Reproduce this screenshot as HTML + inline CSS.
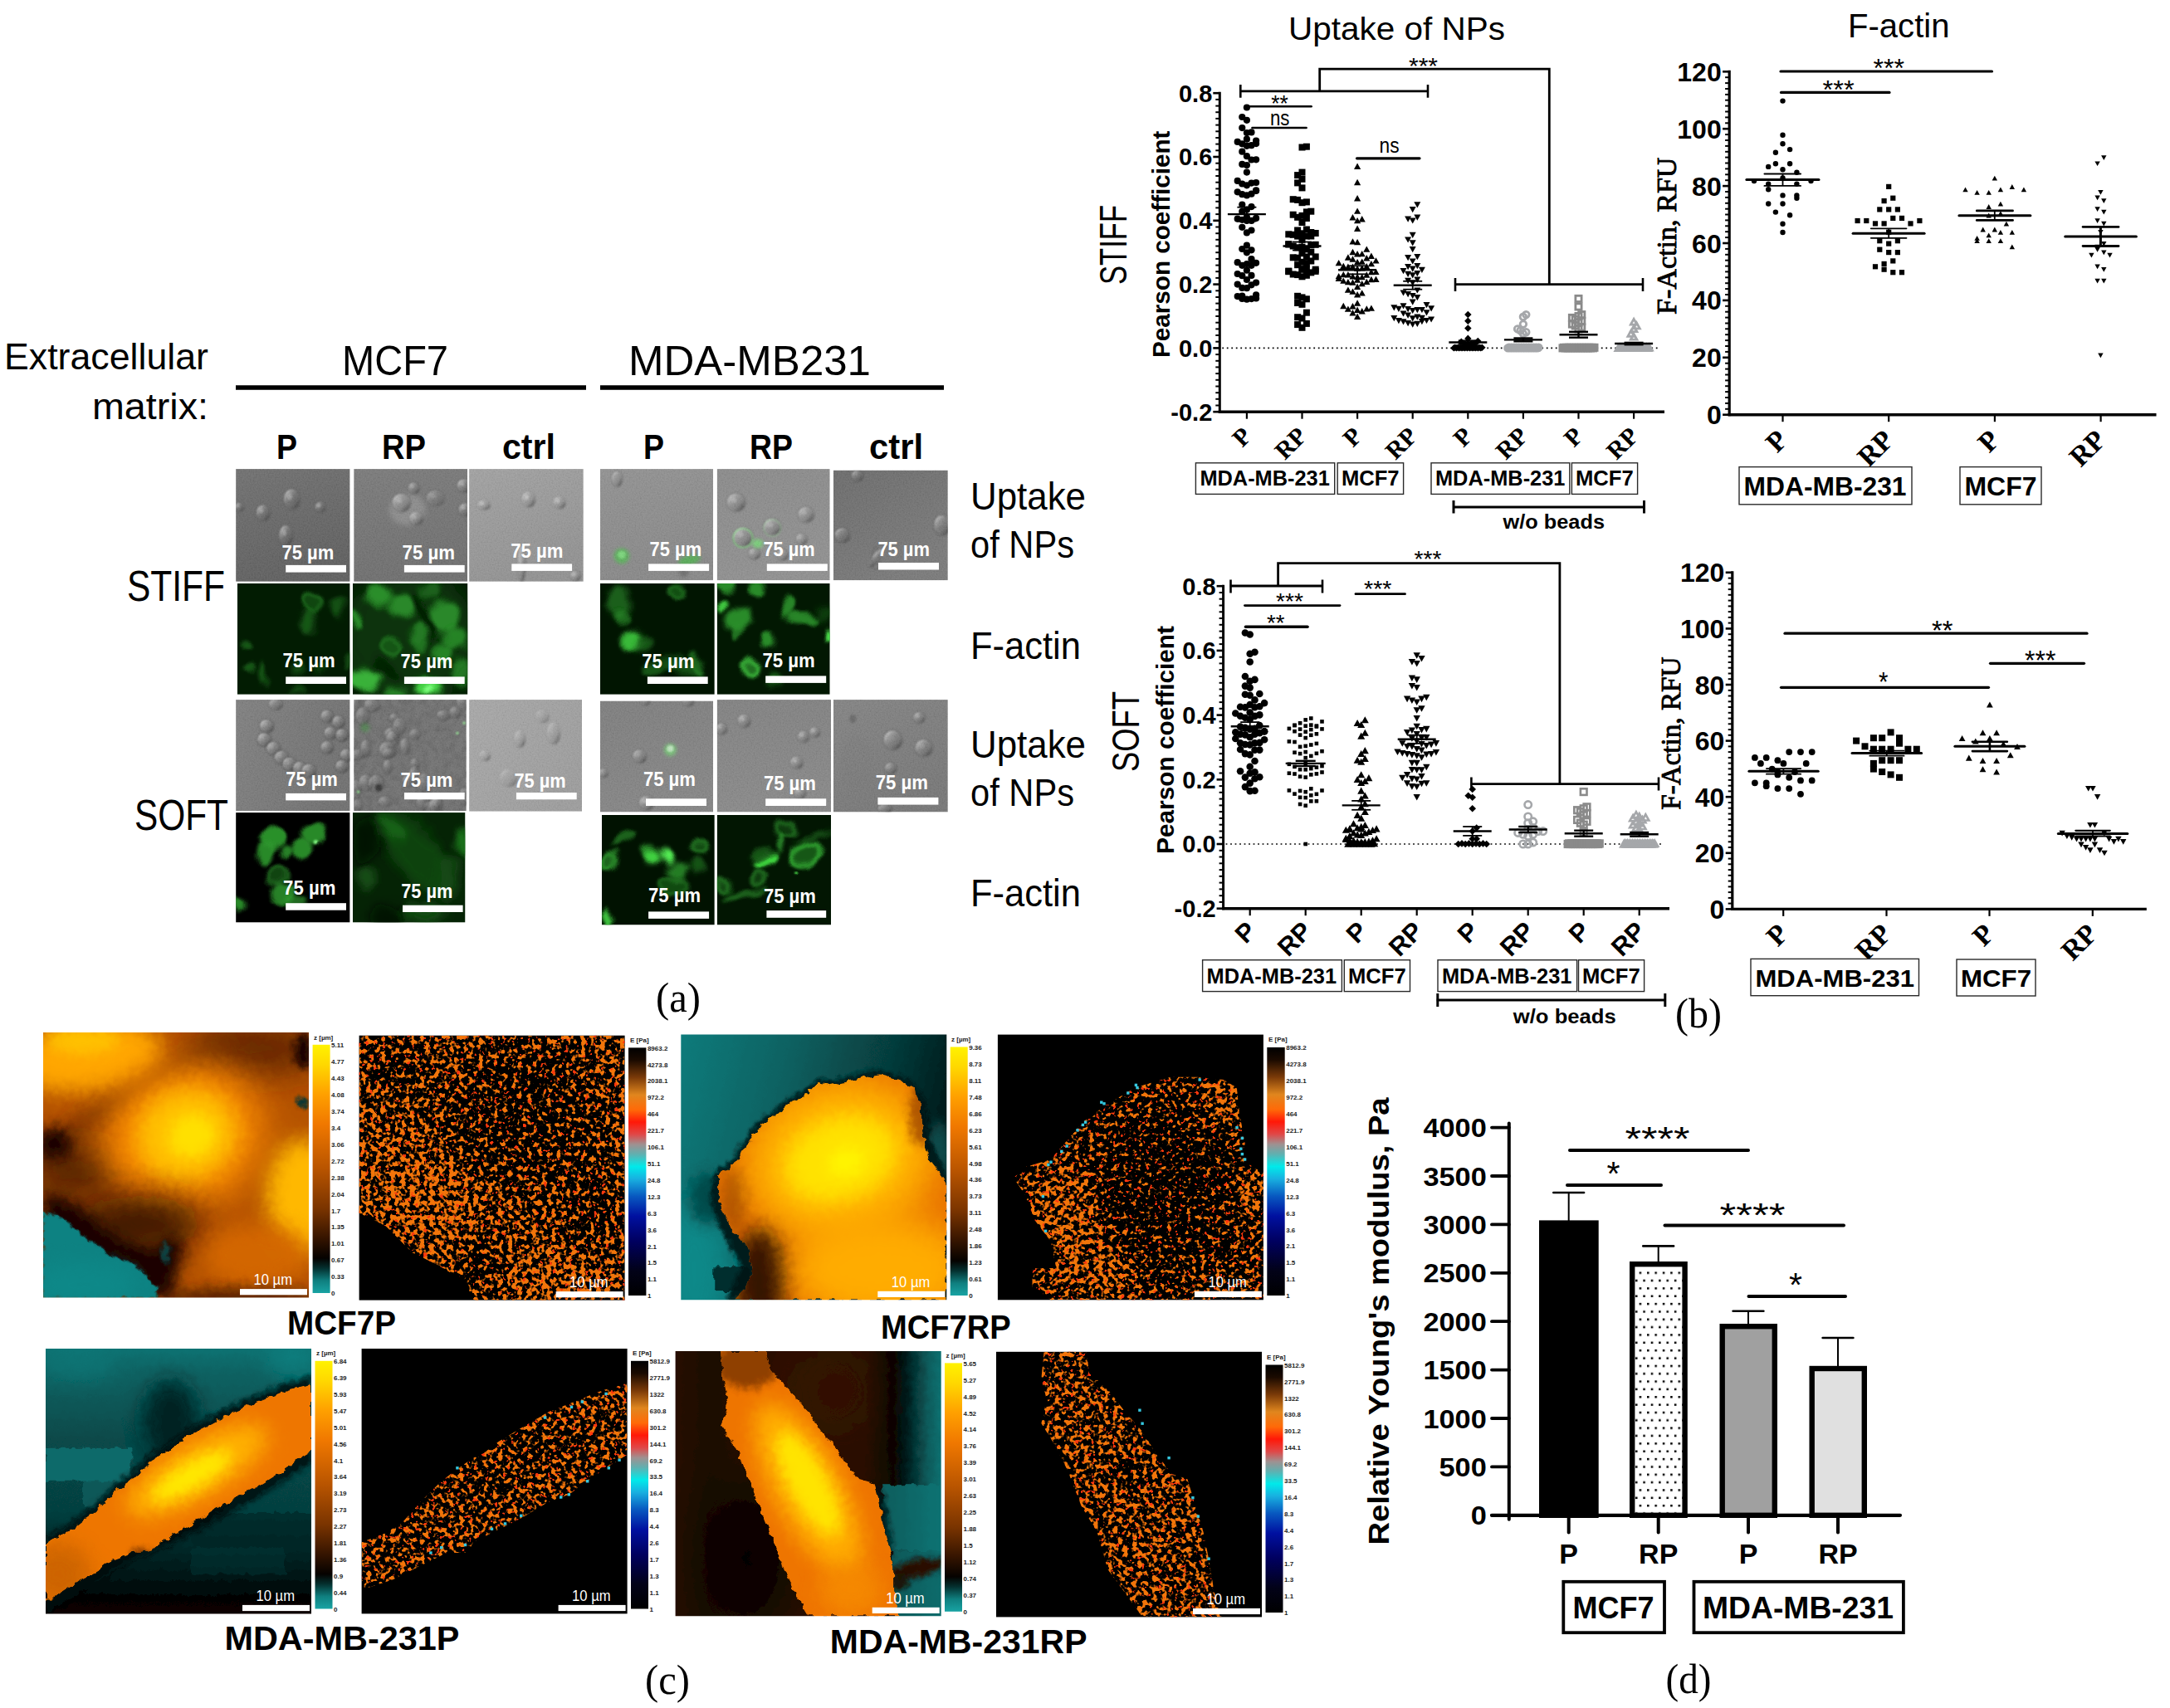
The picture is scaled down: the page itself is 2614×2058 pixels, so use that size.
<!DOCTYPE html>
<html><head><meta charset="utf-8"><title>Figure</title><style>html,body{margin:0;padding:0;background:#fff}body{width:2614px;height:2058px;overflow:hidden;font-family:"Liberation Sans",sans-serif}</style></head><body><svg width="2614" height="2058" viewBox="0 0 2614 2058" style="display:block"><line x1="1472.3" y1="419.4" x2="1998.0" y2="419.4" stroke="#000" stroke-width="1.7" stroke-dasharray="1.8 3.7"/><circle cx="1501.9" cy="360.7" r="4.1" fill="#000"/><circle cx="1507.5" cy="360.1" r="4.1" fill="#000"/><circle cx="1496.3" cy="359.9" r="4.1" fill="#000"/><circle cx="1513.1" cy="359.5" r="4.1" fill="#000"/><circle cx="1490.7" cy="357.1" r="4.1" fill="#000"/><circle cx="1496.3" cy="356.6" r="4.1" fill="#000"/><circle cx="1513.1" cy="355.4" r="4.1" fill="#000"/><circle cx="1501.9" cy="347.2" r="4.1" fill="#000"/><circle cx="1496.3" cy="346.9" r="4.1" fill="#000"/><circle cx="1507.5" cy="343.3" r="4.1" fill="#000"/><circle cx="1490.7" cy="342.6" r="4.1" fill="#000"/><circle cx="1513.1" cy="340.6" r="4.1" fill="#000"/><circle cx="1501.9" cy="337.0" r="4.1" fill="#000"/><circle cx="1496.3" cy="332.2" r="4.1" fill="#000"/><circle cx="1507.5" cy="331.9" r="4.1" fill="#000"/><circle cx="1490.7" cy="330.0" r="4.1" fill="#000"/><circle cx="1501.9" cy="325.7" r="4.1" fill="#000"/><circle cx="1496.3" cy="319.8" r="4.1" fill="#000"/><circle cx="1507.5" cy="319.8" r="4.1" fill="#000"/><circle cx="1501.9" cy="318.1" r="4.1" fill="#000"/><circle cx="1513.1" cy="316.8" r="4.1" fill="#000"/><circle cx="1490.7" cy="316.2" r="4.1" fill="#000"/><circle cx="1507.5" cy="312.2" r="4.1" fill="#000"/><circle cx="1501.9" cy="304.3" r="4.1" fill="#000"/><circle cx="1507.5" cy="301.3" r="4.1" fill="#000"/><circle cx="1496.3" cy="300.0" r="4.1" fill="#000"/><circle cx="1501.9" cy="295.7" r="4.1" fill="#000"/><circle cx="1501.9" cy="280.4" r="4.1" fill="#000"/><circle cx="1507.5" cy="277.5" r="4.1" fill="#000"/><circle cx="1496.3" cy="273.8" r="4.1" fill="#000"/><circle cx="1501.9" cy="266.0" r="4.1" fill="#000"/><circle cx="1507.5" cy="265.9" r="4.1" fill="#000"/><circle cx="1496.3" cy="264.8" r="4.1" fill="#000"/><circle cx="1490.7" cy="263.7" r="4.1" fill="#000"/><circle cx="1513.1" cy="262.9" r="4.1" fill="#000"/><circle cx="1501.9" cy="261.7" r="4.1" fill="#000"/><circle cx="1496.3" cy="254.9" r="4.1" fill="#000"/><circle cx="1501.9" cy="252.7" r="4.1" fill="#000"/><circle cx="1507.5" cy="249.1" r="4.1" fill="#000"/><circle cx="1496.3" cy="246.6" r="4.1" fill="#000"/><circle cx="1501.9" cy="235.4" r="4.1" fill="#000"/><circle cx="1496.3" cy="234.2" r="4.1" fill="#000"/><circle cx="1507.5" cy="233.7" r="4.1" fill="#000"/><circle cx="1490.7" cy="231.3" r="4.1" fill="#000"/><circle cx="1513.1" cy="229.9" r="4.1" fill="#000"/><circle cx="1513.1" cy="229.3" r="4.1" fill="#000"/><circle cx="1501.9" cy="223.3" r="4.1" fill="#000"/><circle cx="1496.3" cy="221.5" r="4.1" fill="#000"/><circle cx="1507.5" cy="220.6" r="4.1" fill="#000"/><circle cx="1513.1" cy="220.0" r="4.1" fill="#000"/><circle cx="1490.7" cy="217.9" r="4.1" fill="#000"/><circle cx="1501.9" cy="207.6" r="4.1" fill="#000"/><circle cx="1501.9" cy="199.1" r="4.1" fill="#000"/><circle cx="1496.3" cy="197.9" r="4.1" fill="#000"/><circle cx="1507.5" cy="192.5" r="4.1" fill="#000"/><circle cx="1513.1" cy="192.3" r="4.1" fill="#000"/><circle cx="1501.9" cy="188.2" r="4.1" fill="#000"/><circle cx="1496.3" cy="182.7" r="4.1" fill="#000"/><circle cx="1501.9" cy="175.8" r="4.1" fill="#000"/><circle cx="1507.5" cy="175.2" r="4.1" fill="#000"/><circle cx="1496.3" cy="173.3" r="4.1" fill="#000"/><circle cx="1513.1" cy="173.1" r="4.1" fill="#000"/><circle cx="1490.7" cy="170.9" r="4.1" fill="#000"/><circle cx="1513.1" cy="169.6" r="4.1" fill="#000"/><circle cx="1501.9" cy="167.7" r="4.1" fill="#000"/><circle cx="1501.9" cy="160.1" r="4.1" fill="#000"/><circle cx="1507.5" cy="159.4" r="4.1" fill="#000"/><circle cx="1496.3" cy="154.1" r="4.1" fill="#000"/><circle cx="1501.9" cy="144.8" r="4.1" fill="#000"/><circle cx="1496.3" cy="141.0" r="4.1" fill="#000"/><circle cx="1501.9" cy="129.5" r="4.1" fill="#000"/><rect x="1564.5" y="390.8" width="8.0" height="8.0" fill="#000"/><rect x="1559.1" y="387.1" width="8.0" height="8.0" fill="#000"/><rect x="1569.9" y="385.9" width="8.0" height="8.0" fill="#000"/><rect x="1564.5" y="379.5" width="8.0" height="8.0" fill="#000"/><rect x="1559.1" y="378.2" width="8.0" height="8.0" fill="#000"/><rect x="1569.9" y="372.7" width="8.0" height="8.0" fill="#000"/><rect x="1564.5" y="362.8" width="8.0" height="8.0" fill="#000"/><rect x="1559.1" y="361.0" width="8.0" height="8.0" fill="#000"/><rect x="1569.9" y="356.3" width="8.0" height="8.0" fill="#000"/><rect x="1564.5" y="354.4" width="8.0" height="8.0" fill="#000"/><rect x="1559.1" y="352.8" width="8.0" height="8.0" fill="#000"/><rect x="1564.5" y="329.3" width="8.0" height="8.0" fill="#000"/><rect x="1569.9" y="327.8" width="8.0" height="8.0" fill="#000"/><rect x="1559.1" y="327.1" width="8.0" height="8.0" fill="#000"/><rect x="1553.7" y="326.5" width="8.0" height="8.0" fill="#000"/><rect x="1575.3" y="324.4" width="8.0" height="8.0" fill="#000"/><rect x="1548.3" y="323.2" width="8.0" height="8.0" fill="#000"/><rect x="1580.7" y="322.9" width="8.0" height="8.0" fill="#000"/><rect x="1548.3" y="322.6" width="8.0" height="8.0" fill="#000"/><rect x="1564.5" y="320.8" width="8.0" height="8.0" fill="#000"/><rect x="1580.7" y="320.7" width="8.0" height="8.0" fill="#000"/><rect x="1569.9" y="320.4" width="8.0" height="8.0" fill="#000"/><rect x="1564.5" y="320.1" width="8.0" height="8.0" fill="#000"/><rect x="1559.1" y="315.2" width="8.0" height="8.0" fill="#000"/><rect x="1569.9" y="313.1" width="8.0" height="8.0" fill="#000"/><rect x="1564.5" y="311.8" width="8.0" height="8.0" fill="#000"/><rect x="1575.3" y="310.5" width="8.0" height="8.0" fill="#000"/><rect x="1559.1" y="306.7" width="8.0" height="8.0" fill="#000"/><rect x="1553.7" y="306.3" width="8.0" height="8.0" fill="#000"/><rect x="1569.9" y="305.5" width="8.0" height="8.0" fill="#000"/><rect x="1580.7" y="305.4" width="8.0" height="8.0" fill="#000"/><rect x="1564.5" y="301.2" width="8.0" height="8.0" fill="#000"/><rect x="1575.3" y="299.7" width="8.0" height="8.0" fill="#000"/><rect x="1569.9" y="296.4" width="8.0" height="8.0" fill="#000"/><rect x="1559.1" y="294.3" width="8.0" height="8.0" fill="#000"/><rect x="1564.5" y="293.7" width="8.0" height="8.0" fill="#000"/><rect x="1553.7" y="292.5" width="8.0" height="8.0" fill="#000"/><rect x="1575.3" y="291.2" width="8.0" height="8.0" fill="#000"/><rect x="1580.7" y="290.8" width="8.0" height="8.0" fill="#000"/><rect x="1548.3" y="290.4" width="8.0" height="8.0" fill="#000"/><rect x="1548.3" y="290.3" width="8.0" height="8.0" fill="#000"/><rect x="1564.5" y="284.8" width="8.0" height="8.0" fill="#000"/><rect x="1559.1" y="280.6" width="8.0" height="8.0" fill="#000"/><rect x="1569.9" y="280.5" width="8.0" height="8.0" fill="#000"/><rect x="1575.3" y="280.5" width="8.0" height="8.0" fill="#000"/><rect x="1553.7" y="278.8" width="8.0" height="8.0" fill="#000"/><rect x="1548.3" y="278.3" width="8.0" height="8.0" fill="#000"/><rect x="1564.5" y="277.3" width="8.0" height="8.0" fill="#000"/><rect x="1580.7" y="277.0" width="8.0" height="8.0" fill="#000"/><rect x="1575.3" y="276.0" width="8.0" height="8.0" fill="#000"/><rect x="1559.1" y="273.5" width="8.0" height="8.0" fill="#000"/><rect x="1569.9" y="272.5" width="8.0" height="8.0" fill="#000"/><rect x="1564.5" y="264.0" width="8.0" height="8.0" fill="#000"/><rect x="1569.9" y="259.0" width="8.0" height="8.0" fill="#000"/><rect x="1559.1" y="257.8" width="8.0" height="8.0" fill="#000"/><rect x="1564.5" y="255.9" width="8.0" height="8.0" fill="#000"/><rect x="1553.7" y="254.7" width="8.0" height="8.0" fill="#000"/><rect x="1569.9" y="251.4" width="8.0" height="8.0" fill="#000"/><rect x="1575.3" y="250.7" width="8.0" height="8.0" fill="#000"/><rect x="1564.5" y="240.2" width="8.0" height="8.0" fill="#000"/><rect x="1569.9" y="239.4" width="8.0" height="8.0" fill="#000"/><rect x="1559.1" y="236.9" width="8.0" height="8.0" fill="#000"/><rect x="1553.7" y="236.2" width="8.0" height="8.0" fill="#000"/><rect x="1564.5" y="222.4" width="8.0" height="8.0" fill="#000"/><rect x="1559.1" y="216.4" width="8.0" height="8.0" fill="#000"/><rect x="1564.5" y="211.8" width="8.0" height="8.0" fill="#000"/><rect x="1559.1" y="207.1" width="8.0" height="8.0" fill="#000"/><rect x="1564.5" y="203.6" width="8.0" height="8.0" fill="#000"/><rect x="1564.5" y="173.5" width="8.0" height="8.0" fill="#000"/><rect x="1569.9" y="172.7" width="8.0" height="8.0" fill="#000"/><path d="M1631.0 385.0L1639.2 385.0L1635.1 377.6Z" fill="#000"/><path d="M1625.4 380.5L1633.6 380.5L1629.5 373.1Z" fill="#000"/><path d="M1636.6 378.4L1644.8 378.4L1640.7 371.0Z" fill="#000"/><path d="M1631.0 376.9L1639.2 376.9L1635.1 369.5Z" fill="#000"/><path d="M1619.8 375.8L1628.0 375.8L1623.9 368.4Z" fill="#000"/><path d="M1642.2 375.6L1650.4 375.6L1646.3 368.2Z" fill="#000"/><path d="M1647.8 374.8L1656.0 374.8L1651.9 367.4Z" fill="#000"/><path d="M1625.4 372.5L1633.6 372.5L1629.5 365.1Z" fill="#000"/><path d="M1614.2 372.2L1622.4 372.2L1618.3 364.8Z" fill="#000"/><path d="M1631.0 368.7L1639.2 368.7L1635.1 361.3Z" fill="#000"/><path d="M1631.0 358.4L1639.2 358.4L1635.1 351.1Z" fill="#000"/><path d="M1636.6 356.5L1644.8 356.5L1640.7 349.2Z" fill="#000"/><path d="M1625.4 354.8L1633.6 354.8L1629.5 347.4Z" fill="#000"/><path d="M1619.8 352.8L1628.0 352.8L1623.9 345.4Z" fill="#000"/><path d="M1631.0 349.0L1639.2 349.0L1635.1 341.6Z" fill="#000"/><path d="M1636.6 345.3L1644.8 345.3L1640.7 338.0Z" fill="#000"/><path d="M1625.4 343.8L1633.6 343.8L1629.5 336.4Z" fill="#000"/><path d="M1619.8 343.2L1628.0 343.2L1623.9 335.9Z" fill="#000"/><path d="M1642.2 343.1L1650.4 343.1L1646.3 335.8Z" fill="#000"/><path d="M1614.2 341.7L1622.4 341.7L1618.3 334.4Z" fill="#000"/><path d="M1631.0 340.8L1639.2 340.8L1635.1 333.4Z" fill="#000"/><path d="M1647.8 340.2L1656.0 340.2L1651.9 332.8Z" fill="#000"/><path d="M1653.4 340.0L1661.6 340.0L1657.5 332.6Z" fill="#000"/><path d="M1608.6 339.0L1616.8 339.0L1612.7 331.6Z" fill="#000"/><path d="M1636.6 337.3L1644.8 337.3L1640.7 330.0Z" fill="#000"/><path d="M1631.0 337.0L1639.2 337.0L1635.1 329.6Z" fill="#000"/><path d="M1625.4 336.4L1633.6 336.4L1629.5 329.0Z" fill="#000"/><path d="M1608.6 336.3L1616.8 336.3L1612.7 328.9Z" fill="#000"/><path d="M1642.2 334.7L1650.4 334.7L1646.3 327.3Z" fill="#000"/><path d="M1619.8 334.4L1628.0 334.4L1623.9 327.0Z" fill="#000"/><path d="M1614.2 334.3L1622.4 334.3L1618.3 327.0Z" fill="#000"/><path d="M1647.8 331.3L1656.0 331.3L1651.9 323.9Z" fill="#000"/><path d="M1653.4 331.1L1661.6 331.1L1657.5 323.7Z" fill="#000"/><path d="M1631.0 327.1L1639.2 327.1L1635.1 319.7Z" fill="#000"/><path d="M1636.6 326.6L1644.8 326.6L1640.7 319.2Z" fill="#000"/><path d="M1625.4 325.0L1633.6 325.0L1629.5 317.6Z" fill="#000"/><path d="M1619.8 324.9L1628.0 324.9L1623.9 317.5Z" fill="#000"/><path d="M1642.2 324.4L1650.4 324.4L1646.3 317.0Z" fill="#000"/><path d="M1614.2 324.1L1622.4 324.1L1618.3 316.7Z" fill="#000"/><path d="M1647.8 321.3L1656.0 321.3L1651.9 314.0Z" fill="#000"/><path d="M1608.6 320.3L1616.8 320.3L1612.7 312.9Z" fill="#000"/><path d="M1631.0 319.2L1639.2 319.2L1635.1 311.9Z" fill="#000"/><path d="M1636.6 318.8L1644.8 318.8L1640.7 311.4Z" fill="#000"/><path d="M1653.4 317.6L1661.6 317.6L1657.5 310.2Z" fill="#000"/><path d="M1625.4 315.7L1633.6 315.7L1629.5 308.3Z" fill="#000"/><path d="M1642.2 314.5L1650.4 314.5L1646.3 307.1Z" fill="#000"/><path d="M1619.8 313.7L1628.0 313.7L1623.9 306.3Z" fill="#000"/><path d="M1647.8 312.0L1656.0 312.0L1651.9 304.6Z" fill="#000"/><path d="M1631.0 309.5L1639.2 309.5L1635.1 302.1Z" fill="#000"/><path d="M1636.6 309.3L1644.8 309.3L1640.7 301.9Z" fill="#000"/><path d="M1625.4 307.2L1633.6 307.2L1629.5 299.8Z" fill="#000"/><path d="M1642.2 303.8L1650.4 303.8L1646.3 296.4Z" fill="#000"/><path d="M1631.0 295.3L1639.2 295.3L1635.1 287.9Z" fill="#000"/><path d="M1625.4 294.5L1633.6 294.5L1629.5 287.2Z" fill="#000"/><path d="M1631.0 278.9L1639.2 278.9L1635.1 271.5Z" fill="#000"/><path d="M1631.0 269.3L1639.2 269.3L1635.1 261.9Z" fill="#000"/><path d="M1636.6 267.4L1644.8 267.4L1640.7 260.0Z" fill="#000"/><path d="M1625.4 265.4L1633.6 265.4L1629.5 258.1Z" fill="#000"/><path d="M1631.0 257.8L1639.2 257.8L1635.1 250.4Z" fill="#000"/><path d="M1631.0 242.4L1639.2 242.4L1635.1 235.0Z" fill="#000"/><path d="M1631.0 223.2L1639.2 223.2L1635.1 215.8Z" fill="#000"/><path d="M1631.0 204.0L1639.2 204.0L1635.1 196.6Z" fill="#000"/><path d="M1697.7 387.6L1705.7 387.6L1701.7 394.8Z" fill="#000"/><path d="M1703.3 386.8L1711.3 386.8L1707.3 394.0Z" fill="#000"/><path d="M1692.1 386.1L1700.1 386.1L1696.1 393.3Z" fill="#000"/><path d="M1686.5 384.2L1694.5 384.2L1690.5 391.4Z" fill="#000"/><path d="M1708.9 384.1L1716.9 384.1L1712.9 391.3Z" fill="#000"/><path d="M1680.9 383.1L1688.9 383.1L1684.9 390.3Z" fill="#000"/><path d="M1714.5 382.9L1722.5 382.9L1718.5 390.1Z" fill="#000"/><path d="M1720.1 381.4L1728.1 381.4L1724.1 388.6Z" fill="#000"/><path d="M1697.7 380.3L1705.7 380.3L1701.7 387.5Z" fill="#000"/><path d="M1675.3 380.0L1683.3 380.0L1679.3 387.2Z" fill="#000"/><path d="M1708.9 379.8L1716.9 379.8L1712.9 387.0Z" fill="#000"/><path d="M1703.3 378.6L1711.3 378.6L1707.3 385.8Z" fill="#000"/><path d="M1692.1 376.5L1700.1 376.5L1696.1 383.7Z" fill="#000"/><path d="M1686.5 374.4L1694.5 374.4L1690.5 381.6Z" fill="#000"/><path d="M1714.5 373.3L1722.5 373.3L1718.5 380.5Z" fill="#000"/><path d="M1697.7 370.9L1705.7 370.9L1701.7 378.1Z" fill="#000"/><path d="M1703.3 370.1L1711.3 370.1L1707.3 377.3Z" fill="#000"/><path d="M1708.9 369.9L1716.9 369.9L1712.9 377.1Z" fill="#000"/><path d="M1692.1 369.1L1700.1 369.1L1696.1 376.3Z" fill="#000"/><path d="M1680.9 368.8L1688.9 368.8L1684.9 376.0Z" fill="#000"/><path d="M1720.1 368.2L1728.1 368.2L1724.1 375.4Z" fill="#000"/><path d="M1675.3 367.3L1683.3 367.3L1679.3 374.5Z" fill="#000"/><path d="M1686.5 365.3L1694.5 365.3L1690.5 372.5Z" fill="#000"/><path d="M1714.5 364.1L1722.5 364.1L1718.5 371.3Z" fill="#000"/><path d="M1697.7 360.6L1705.7 360.6L1701.7 367.8Z" fill="#000"/><path d="M1703.3 355.0L1711.3 355.0L1707.3 362.2Z" fill="#000"/><path d="M1697.7 352.9L1705.7 352.9L1701.7 360.1Z" fill="#000"/><path d="M1692.1 351.1L1700.1 351.1L1696.1 358.3Z" fill="#000"/><path d="M1686.5 349.4L1694.5 349.4L1690.5 356.6Z" fill="#000"/><path d="M1703.3 346.4L1711.3 346.4L1707.3 353.6Z" fill="#000"/><path d="M1697.7 337.3L1705.7 337.3L1701.7 344.5Z" fill="#000"/><path d="M1692.1 334.7L1700.1 334.7L1696.1 341.9Z" fill="#000"/><path d="M1703.3 333.6L1711.3 333.6L1707.3 340.8Z" fill="#000"/><path d="M1697.7 328.2L1705.7 328.2L1701.7 335.4Z" fill="#000"/><path d="M1692.1 326.8L1700.1 326.8L1696.1 334.0Z" fill="#000"/><path d="M1703.3 326.0L1711.3 326.0L1707.3 333.2Z" fill="#000"/><path d="M1686.5 323.0L1694.5 323.0L1690.5 330.2Z" fill="#000"/><path d="M1708.9 321.8L1716.9 321.8L1712.9 329.0Z" fill="#000"/><path d="M1697.7 320.5L1705.7 320.5L1701.7 327.7Z" fill="#000"/><path d="M1692.1 318.1L1700.1 318.1L1696.1 325.3Z" fill="#000"/><path d="M1703.3 317.1L1711.3 317.1L1707.3 324.3Z" fill="#000"/><path d="M1697.7 311.4L1705.7 311.4L1701.7 318.6Z" fill="#000"/><path d="M1692.1 307.0L1700.1 307.0L1696.1 314.2Z" fill="#000"/><path d="M1703.3 306.0L1711.3 306.0L1707.3 313.2Z" fill="#000"/><path d="M1697.7 297.0L1705.7 297.0L1701.7 304.2Z" fill="#000"/><path d="M1697.7 289.3L1705.7 289.3L1701.7 296.5Z" fill="#000"/><path d="M1692.1 285.4L1700.1 285.4L1696.1 292.6Z" fill="#000"/><path d="M1697.7 279.7L1705.7 279.7L1701.7 286.9Z" fill="#000"/><path d="M1697.7 262.4L1705.7 262.4L1701.7 269.6Z" fill="#000"/><path d="M1692.1 260.5L1700.1 260.5L1696.1 267.7Z" fill="#000"/><path d="M1703.3 258.6L1711.3 258.6L1707.3 265.8Z" fill="#000"/><path d="M1697.7 249.0L1705.7 249.0L1701.7 256.2Z" fill="#000"/><path d="M1703.3 243.2L1711.3 243.2L1707.3 250.4Z" fill="#000"/><path d="M1764.1 415.6L1768.3 411.3L1772.6 415.6L1768.3 419.8Z" fill="#000"/><path d="M1760.1 414.8L1764.3 410.5L1768.6 414.8L1764.3 419.0Z" fill="#000"/><path d="M1768.1 414.8L1772.3 410.5L1776.6 414.8L1772.3 419.0Z" fill="#000"/><path d="M1772.1 413.6L1776.3 409.4L1780.6 413.6L1776.3 417.9Z" fill="#000"/><path d="M1756.1 411.7L1760.3 407.5L1764.6 411.7L1760.3 416.0Z" fill="#000"/><path d="M1776.1 411.0L1780.3 406.7L1784.6 411.0L1780.3 415.2Z" fill="#000"/><path d="M1764.1 407.9L1768.3 403.6L1772.6 407.9L1768.3 412.1Z" fill="#000"/><path d="M1764.1 395.6L1768.3 391.3L1772.6 395.6L1768.3 399.8Z" fill="#000"/><path d="M1764.1 386.8L1768.3 382.5L1772.6 386.8L1768.3 391.0Z" fill="#000"/><path d="M1764.1 379.1L1768.3 374.8L1772.6 379.1L1768.3 383.3Z" fill="#000"/><path d="M1747.1 419.4L1751.3 415.1L1755.6 419.4L1751.3 423.6Z" fill="#000"/><path d="M1748.7 418.8L1752.9 414.5L1757.2 418.8L1752.9 423.0Z" fill="#000"/><path d="M1750.3 419.4L1754.5 415.1L1758.8 419.4L1754.5 423.6Z" fill="#000"/><path d="M1751.9 418.8L1756.2 414.5L1760.4 418.8L1756.2 423.0Z" fill="#000"/><path d="M1753.5 419.4L1757.8 415.1L1762.0 419.4L1757.8 423.6Z" fill="#000"/><path d="M1755.1 418.8L1759.4 414.5L1763.6 418.8L1759.4 423.0Z" fill="#000"/><path d="M1756.8 419.4L1761.0 415.1L1765.3 419.4L1761.0 423.6Z" fill="#000"/><path d="M1758.4 418.8L1762.6 414.5L1766.9 418.8L1762.6 423.0Z" fill="#000"/><path d="M1760.0 419.4L1764.3 415.1L1768.5 419.4L1764.3 423.6Z" fill="#000"/><path d="M1761.6 418.8L1765.9 414.5L1770.1 418.8L1765.9 423.0Z" fill="#000"/><path d="M1763.2 419.4L1767.5 415.1L1771.7 419.4L1767.5 423.6Z" fill="#000"/><path d="M1764.9 418.8L1769.1 414.5L1773.4 418.8L1769.1 423.0Z" fill="#000"/><path d="M1766.5 419.4L1770.7 415.1L1775.0 419.4L1770.7 423.6Z" fill="#000"/><path d="M1768.1 418.8L1772.3 414.5L1776.6 418.8L1772.3 423.0Z" fill="#000"/><path d="M1769.7 419.4L1774.0 415.1L1778.2 419.4L1774.0 423.6Z" fill="#000"/><path d="M1771.3 418.8L1775.6 414.5L1779.8 418.8L1775.6 423.0Z" fill="#000"/><path d="M1773.0 419.4L1777.2 415.1L1781.5 419.4L1777.2 423.6Z" fill="#000"/><path d="M1774.6 418.8L1778.8 414.5L1783.1 418.8L1778.8 423.0Z" fill="#000"/><path d="M1776.2 419.4L1780.4 415.1L1784.7 419.4L1780.4 423.6Z" fill="#000"/><path d="M1777.8 418.8L1782.1 414.5L1786.3 418.8L1782.1 423.0Z" fill="#000"/><path d="M1779.4 419.4L1783.7 415.1L1787.9 419.4L1783.7 423.6Z" fill="#000"/><path d="M1781.1 418.8L1785.3 414.5L1789.6 418.8L1785.3 423.0Z" fill="#000"/><circle cx="1834.9" cy="402.1" r="3.8" fill="none" stroke="#a5a7aa" stroke-width="2.8"/><circle cx="1838.3" cy="400.2" r="3.8" fill="none" stroke="#a5a7aa" stroke-width="2.8"/><circle cx="1831.5" cy="398.3" r="3.8" fill="none" stroke="#a5a7aa" stroke-width="2.8"/><circle cx="1828.1" cy="396.4" r="3.8" fill="none" stroke="#a5a7aa" stroke-width="2.8"/><circle cx="1834.9" cy="390.6" r="3.8" fill="none" stroke="#a5a7aa" stroke-width="2.8"/><circle cx="1834.9" cy="381.8" r="3.8" fill="none" stroke="#a5a7aa" stroke-width="2.8"/><circle cx="1838.3" cy="379.1" r="3.8" fill="none" stroke="#a5a7aa" stroke-width="2.8"/><circle cx="1816.4" cy="419.4" r="3.8" fill="none" stroke="#a5a7aa" stroke-width="2.8"/><circle cx="1817.9" cy="418.8" r="3.8" fill="none" stroke="#a5a7aa" stroke-width="2.8"/><circle cx="1819.4" cy="419.4" r="3.8" fill="none" stroke="#a5a7aa" stroke-width="2.8"/><circle cx="1820.8" cy="418.8" r="3.8" fill="none" stroke="#a5a7aa" stroke-width="2.8"/><circle cx="1822.3" cy="419.4" r="3.8" fill="none" stroke="#a5a7aa" stroke-width="2.8"/><circle cx="1823.8" cy="418.8" r="3.8" fill="none" stroke="#a5a7aa" stroke-width="2.8"/><circle cx="1825.3" cy="419.4" r="3.8" fill="none" stroke="#a5a7aa" stroke-width="2.8"/><circle cx="1826.8" cy="418.8" r="3.8" fill="none" stroke="#a5a7aa" stroke-width="2.8"/><circle cx="1828.2" cy="419.4" r="3.8" fill="none" stroke="#a5a7aa" stroke-width="2.8"/><circle cx="1829.7" cy="418.8" r="3.8" fill="none" stroke="#a5a7aa" stroke-width="2.8"/><circle cx="1831.2" cy="419.4" r="3.8" fill="none" stroke="#a5a7aa" stroke-width="2.8"/><circle cx="1832.7" cy="418.8" r="3.8" fill="none" stroke="#a5a7aa" stroke-width="2.8"/><circle cx="1834.2" cy="419.4" r="3.8" fill="none" stroke="#a5a7aa" stroke-width="2.8"/><circle cx="1835.6" cy="418.8" r="3.8" fill="none" stroke="#a5a7aa" stroke-width="2.8"/><circle cx="1837.1" cy="419.4" r="3.8" fill="none" stroke="#a5a7aa" stroke-width="2.8"/><circle cx="1838.6" cy="418.8" r="3.8" fill="none" stroke="#a5a7aa" stroke-width="2.8"/><circle cx="1840.1" cy="419.4" r="3.8" fill="none" stroke="#a5a7aa" stroke-width="2.8"/><circle cx="1841.6" cy="418.8" r="3.8" fill="none" stroke="#a5a7aa" stroke-width="2.8"/><circle cx="1843.0" cy="419.4" r="3.8" fill="none" stroke="#a5a7aa" stroke-width="2.8"/><circle cx="1844.5" cy="418.8" r="3.8" fill="none" stroke="#a5a7aa" stroke-width="2.8"/><circle cx="1846.0" cy="419.4" r="3.8" fill="none" stroke="#a5a7aa" stroke-width="2.8"/><circle cx="1847.5" cy="418.8" r="3.8" fill="none" stroke="#a5a7aa" stroke-width="2.8"/><circle cx="1849.0" cy="419.4" r="3.8" fill="none" stroke="#a5a7aa" stroke-width="2.8"/><circle cx="1850.4" cy="418.8" r="3.8" fill="none" stroke="#a5a7aa" stroke-width="2.8"/><circle cx="1851.9" cy="419.4" r="3.8" fill="none" stroke="#a5a7aa" stroke-width="2.8"/><circle cx="1853.4" cy="418.8" r="3.8" fill="none" stroke="#a5a7aa" stroke-width="2.8"/><rect x="1897.9" y="392.8" width="7.2" height="7.2" fill="none" stroke="#8a8a8a" stroke-width="2.8"/><rect x="1901.7" y="390.8" width="7.2" height="7.2" fill="none" stroke="#8a8a8a" stroke-width="2.8"/><rect x="1894.1" y="388.9" width="7.2" height="7.2" fill="none" stroke="#8a8a8a" stroke-width="2.8"/><rect x="1890.3" y="387.0" width="7.2" height="7.2" fill="none" stroke="#8a8a8a" stroke-width="2.8"/><rect x="1897.9" y="385.1" width="7.2" height="7.2" fill="none" stroke="#8a8a8a" stroke-width="2.8"/><rect x="1901.7" y="383.2" width="7.2" height="7.2" fill="none" stroke="#8a8a8a" stroke-width="2.8"/><rect x="1894.1" y="381.2" width="7.2" height="7.2" fill="none" stroke="#8a8a8a" stroke-width="2.8"/><rect x="1890.3" y="379.3" width="7.2" height="7.2" fill="none" stroke="#8a8a8a" stroke-width="2.8"/><rect x="1897.9" y="377.4" width="7.2" height="7.2" fill="none" stroke="#8a8a8a" stroke-width="2.8"/><rect x="1901.7" y="375.5" width="7.2" height="7.2" fill="none" stroke="#8a8a8a" stroke-width="2.8"/><rect x="1897.9" y="365.9" width="7.2" height="7.2" fill="none" stroke="#8a8a8a" stroke-width="2.8"/><rect x="1897.9" y="356.3" width="7.2" height="7.2" fill="none" stroke="#8a8a8a" stroke-width="2.8"/><rect x="1878.9" y="415.8" width="7.2" height="7.2" fill="none" stroke="#8a8a8a" stroke-width="2.8"/><rect x="1880.4" y="415.2" width="7.2" height="7.2" fill="none" stroke="#8a8a8a" stroke-width="2.8"/><rect x="1881.9" y="415.8" width="7.2" height="7.2" fill="none" stroke="#8a8a8a" stroke-width="2.8"/><rect x="1883.5" y="415.2" width="7.2" height="7.2" fill="none" stroke="#8a8a8a" stroke-width="2.8"/><rect x="1885.0" y="415.8" width="7.2" height="7.2" fill="none" stroke="#8a8a8a" stroke-width="2.8"/><rect x="1886.5" y="415.2" width="7.2" height="7.2" fill="none" stroke="#8a8a8a" stroke-width="2.8"/><rect x="1888.0" y="415.8" width="7.2" height="7.2" fill="none" stroke="#8a8a8a" stroke-width="2.8"/><rect x="1889.5" y="415.2" width="7.2" height="7.2" fill="none" stroke="#8a8a8a" stroke-width="2.8"/><rect x="1891.1" y="415.8" width="7.2" height="7.2" fill="none" stroke="#8a8a8a" stroke-width="2.8"/><rect x="1892.6" y="415.2" width="7.2" height="7.2" fill="none" stroke="#8a8a8a" stroke-width="2.8"/><rect x="1894.1" y="415.8" width="7.2" height="7.2" fill="none" stroke="#8a8a8a" stroke-width="2.8"/><rect x="1895.6" y="415.2" width="7.2" height="7.2" fill="none" stroke="#8a8a8a" stroke-width="2.8"/><rect x="1897.1" y="415.8" width="7.2" height="7.2" fill="none" stroke="#8a8a8a" stroke-width="2.8"/><rect x="1898.7" y="415.2" width="7.2" height="7.2" fill="none" stroke="#8a8a8a" stroke-width="2.8"/><rect x="1900.2" y="415.8" width="7.2" height="7.2" fill="none" stroke="#8a8a8a" stroke-width="2.8"/><rect x="1901.7" y="415.2" width="7.2" height="7.2" fill="none" stroke="#8a8a8a" stroke-width="2.8"/><rect x="1903.2" y="415.8" width="7.2" height="7.2" fill="none" stroke="#8a8a8a" stroke-width="2.8"/><rect x="1904.7" y="415.2" width="7.2" height="7.2" fill="none" stroke="#8a8a8a" stroke-width="2.8"/><rect x="1906.3" y="415.8" width="7.2" height="7.2" fill="none" stroke="#8a8a8a" stroke-width="2.8"/><rect x="1907.8" y="415.2" width="7.2" height="7.2" fill="none" stroke="#8a8a8a" stroke-width="2.8"/><rect x="1909.3" y="415.8" width="7.2" height="7.2" fill="none" stroke="#8a8a8a" stroke-width="2.8"/><rect x="1910.8" y="415.2" width="7.2" height="7.2" fill="none" stroke="#8a8a8a" stroke-width="2.8"/><rect x="1912.3" y="415.8" width="7.2" height="7.2" fill="none" stroke="#8a8a8a" stroke-width="2.8"/><rect x="1913.9" y="415.2" width="7.2" height="7.2" fill="none" stroke="#8a8a8a" stroke-width="2.8"/><rect x="1915.4" y="415.8" width="7.2" height="7.2" fill="none" stroke="#8a8a8a" stroke-width="2.8"/><rect x="1916.9" y="415.2" width="7.2" height="7.2" fill="none" stroke="#8a8a8a" stroke-width="2.8"/><path d="M1964.3 409.2L1971.9 409.2L1968.1 402.3Z" fill="none" stroke="#a5a7aa" stroke-width="2.8"/><path d="M1960.9 405.4L1968.5 405.4L1964.7 398.5Z" fill="none" stroke="#a5a7aa" stroke-width="2.8"/><path d="M1964.3 399.6L1971.9 399.6L1968.1 392.7Z" fill="none" stroke="#a5a7aa" stroke-width="2.8"/><path d="M1967.7 395.8L1975.3 395.8L1971.5 388.9Z" fill="none" stroke="#a5a7aa" stroke-width="2.8"/><path d="M1964.3 391.1L1971.9 391.1L1968.1 384.3Z" fill="none" stroke="#a5a7aa" stroke-width="2.8"/><path d="M1945.8 422.6L1953.4 422.6L1949.6 415.8Z" fill="none" stroke="#a5a7aa" stroke-width="2.8"/><path d="M1947.3 422.0L1954.9 422.0L1951.1 415.2Z" fill="none" stroke="#a5a7aa" stroke-width="2.8"/><path d="M1948.8 422.6L1956.4 422.6L1952.6 415.8Z" fill="none" stroke="#a5a7aa" stroke-width="2.8"/><path d="M1950.2 422.0L1957.8 422.0L1954.0 415.2Z" fill="none" stroke="#a5a7aa" stroke-width="2.8"/><path d="M1951.7 422.6L1959.3 422.6L1955.5 415.8Z" fill="none" stroke="#a5a7aa" stroke-width="2.8"/><path d="M1953.2 422.0L1960.8 422.0L1957.0 415.2Z" fill="none" stroke="#a5a7aa" stroke-width="2.8"/><path d="M1954.7 422.6L1962.3 422.6L1958.5 415.8Z" fill="none" stroke="#a5a7aa" stroke-width="2.8"/><path d="M1956.2 422.0L1963.8 422.0L1960.0 415.2Z" fill="none" stroke="#a5a7aa" stroke-width="2.8"/><path d="M1957.6 422.6L1965.2 422.6L1961.4 415.8Z" fill="none" stroke="#a5a7aa" stroke-width="2.8"/><path d="M1959.1 422.0L1966.7 422.0L1962.9 415.2Z" fill="none" stroke="#a5a7aa" stroke-width="2.8"/><path d="M1960.6 422.6L1968.2 422.6L1964.4 415.8Z" fill="none" stroke="#a5a7aa" stroke-width="2.8"/><path d="M1962.1 422.0L1969.7 422.0L1965.9 415.2Z" fill="none" stroke="#a5a7aa" stroke-width="2.8"/><path d="M1963.6 422.6L1971.2 422.6L1967.4 415.8Z" fill="none" stroke="#a5a7aa" stroke-width="2.8"/><path d="M1965.0 422.0L1972.6 422.0L1968.8 415.2Z" fill="none" stroke="#a5a7aa" stroke-width="2.8"/><path d="M1966.5 422.6L1974.1 422.6L1970.3 415.8Z" fill="none" stroke="#a5a7aa" stroke-width="2.8"/><path d="M1968.0 422.0L1975.6 422.0L1971.8 415.2Z" fill="none" stroke="#a5a7aa" stroke-width="2.8"/><path d="M1969.5 422.6L1977.1 422.6L1973.3 415.8Z" fill="none" stroke="#a5a7aa" stroke-width="2.8"/><path d="M1971.0 422.0L1978.6 422.0L1974.8 415.2Z" fill="none" stroke="#a5a7aa" stroke-width="2.8"/><path d="M1972.4 422.6L1980.0 422.6L1976.2 415.8Z" fill="none" stroke="#a5a7aa" stroke-width="2.8"/><path d="M1973.9 422.0L1981.5 422.0L1977.7 415.2Z" fill="none" stroke="#a5a7aa" stroke-width="2.8"/><path d="M1975.4 422.6L1983.0 422.6L1979.2 415.8Z" fill="none" stroke="#a5a7aa" stroke-width="2.8"/><path d="M1976.9 422.0L1984.5 422.0L1980.7 415.2Z" fill="none" stroke="#a5a7aa" stroke-width="2.8"/><path d="M1978.4 422.6L1986.0 422.6L1982.2 415.8Z" fill="none" stroke="#a5a7aa" stroke-width="2.8"/><path d="M1979.8 422.0L1987.4 422.0L1983.6 415.2Z" fill="none" stroke="#a5a7aa" stroke-width="2.8"/><path d="M1981.3 422.6L1988.9 422.6L1985.1 415.8Z" fill="none" stroke="#a5a7aa" stroke-width="2.8"/><path d="M1982.8 422.0L1990.4 422.0L1986.6 415.2Z" fill="none" stroke="#a5a7aa" stroke-width="2.8"/><line x1="1478.9" y1="258.1" x2="1524.9" y2="258.1" stroke="#000" stroke-width="2.4" stroke-linecap="butt" /><line x1="1490.4" y1="249.7" x2="1513.4" y2="249.7" stroke="#000" stroke-width="1.8" stroke-linecap="butt" /><line x1="1490.4" y1="266.6" x2="1513.4" y2="266.6" stroke="#000" stroke-width="1.8" stroke-linecap="butt" /><line x1="1501.9" y1="249.7" x2="1501.9" y2="266.6" stroke="#000" stroke-width="1.8" stroke-linecap="butt" /><line x1="1545.5" y1="296.5" x2="1591.5" y2="296.5" stroke="#000" stroke-width="2.4" stroke-linecap="butt" /><line x1="1557.0" y1="291.5" x2="1580.0" y2="291.5" stroke="#000" stroke-width="1.8" stroke-linecap="butt" /><line x1="1557.0" y1="301.5" x2="1580.0" y2="301.5" stroke="#000" stroke-width="1.8" stroke-linecap="butt" /><line x1="1568.5" y1="291.5" x2="1568.5" y2="301.5" stroke="#000" stroke-width="1.8" stroke-linecap="butt" /><line x1="1612.1" y1="325.3" x2="1658.1" y2="325.3" stroke="#000" stroke-width="2.4" stroke-linecap="butt" /><line x1="1623.6" y1="320.3" x2="1646.6" y2="320.3" stroke="#000" stroke-width="1.8" stroke-linecap="butt" /><line x1="1623.6" y1="330.3" x2="1646.6" y2="330.3" stroke="#000" stroke-width="1.8" stroke-linecap="butt" /><line x1="1635.1" y1="320.3" x2="1635.1" y2="330.3" stroke="#000" stroke-width="1.8" stroke-linecap="butt" /><line x1="1678.7" y1="343.8" x2="1724.7" y2="343.8" stroke="#000" stroke-width="2.4" stroke-linecap="butt" /><line x1="1690.2" y1="338.8" x2="1713.2" y2="338.8" stroke="#000" stroke-width="1.8" stroke-linecap="butt" /><line x1="1690.2" y1="348.7" x2="1713.2" y2="348.7" stroke="#000" stroke-width="1.8" stroke-linecap="butt" /><line x1="1701.7" y1="338.8" x2="1701.7" y2="348.7" stroke="#000" stroke-width="1.8" stroke-linecap="butt" /><line x1="1745.3" y1="412.5" x2="1791.3" y2="412.5" stroke="#000" stroke-width="2.4" stroke-linecap="butt" /><line x1="1756.8" y1="410.6" x2="1779.8" y2="410.6" stroke="#000" stroke-width="2.4" stroke-linecap="butt" /><line x1="1756.8" y1="414.4" x2="1779.8" y2="414.4" stroke="#000" stroke-width="2.4" stroke-linecap="butt" /><line x1="1768.3" y1="410.6" x2="1768.3" y2="414.4" stroke="#000" stroke-width="2.4" stroke-linecap="butt" /><line x1="1811.9" y1="409.4" x2="1857.9" y2="409.4" stroke="#000" stroke-width="2.4" stroke-linecap="butt" /><line x1="1823.4" y1="407.5" x2="1846.4" y2="407.5" stroke="#000" stroke-width="2.4" stroke-linecap="butt" /><line x1="1823.4" y1="411.3" x2="1846.4" y2="411.3" stroke="#000" stroke-width="2.4" stroke-linecap="butt" /><line x1="1834.9" y1="407.5" x2="1834.9" y2="411.3" stroke="#000" stroke-width="2.4" stroke-linecap="butt" /><line x1="1878.5" y1="403.3" x2="1924.5" y2="403.3" stroke="#000" stroke-width="2.4" stroke-linecap="butt" /><line x1="1890.0" y1="399.8" x2="1913.0" y2="399.8" stroke="#000" stroke-width="2.4" stroke-linecap="butt" /><line x1="1890.0" y1="406.7" x2="1913.0" y2="406.7" stroke="#000" stroke-width="2.4" stroke-linecap="butt" /><line x1="1901.5" y1="399.8" x2="1901.5" y2="406.7" stroke="#000" stroke-width="2.4" stroke-linecap="butt" /><line x1="1945.1" y1="414.0" x2="1991.1" y2="414.0" stroke="#000" stroke-width="2.4" stroke-linecap="butt" /><line x1="1956.6" y1="412.9" x2="1979.6" y2="412.9" stroke="#000" stroke-width="2.4" stroke-linecap="butt" /><line x1="1956.6" y1="415.2" x2="1979.6" y2="415.2" stroke="#000" stroke-width="2.4" stroke-linecap="butt" /><line x1="1968.1" y1="412.9" x2="1968.1" y2="415.2" stroke="#000" stroke-width="2.4" stroke-linecap="butt" /><line x1="1469.3" y1="110.7" x2="1469.3" y2="497.7" stroke="#000" stroke-width="3.0" stroke-linecap="butt" /><line x1="1461.3" y1="112.2" x2="1469.3" y2="112.2" stroke="#000" stroke-width="2.6" stroke-linecap="butt" /><line x1="1464.3" y1="119.9" x2="1469.3" y2="119.9" stroke="#000" stroke-width="2.0" stroke-linecap="butt" /><line x1="1464.3" y1="127.6" x2="1469.3" y2="127.6" stroke="#000" stroke-width="2.0" stroke-linecap="butt" /><line x1="1464.3" y1="135.2" x2="1469.3" y2="135.2" stroke="#000" stroke-width="2.0" stroke-linecap="butt" /><line x1="1464.3" y1="142.9" x2="1469.3" y2="142.9" stroke="#000" stroke-width="2.0" stroke-linecap="butt" /><line x1="1464.3" y1="150.6" x2="1469.3" y2="150.6" stroke="#000" stroke-width="2.0" stroke-linecap="butt" /><line x1="1464.3" y1="158.3" x2="1469.3" y2="158.3" stroke="#000" stroke-width="2.0" stroke-linecap="butt" /><line x1="1464.3" y1="166.0" x2="1469.3" y2="166.0" stroke="#000" stroke-width="2.0" stroke-linecap="butt" /><line x1="1464.3" y1="173.6" x2="1469.3" y2="173.6" stroke="#000" stroke-width="2.0" stroke-linecap="butt" /><line x1="1464.3" y1="181.3" x2="1469.3" y2="181.3" stroke="#000" stroke-width="2.0" stroke-linecap="butt" /><line x1="1461.3" y1="189.0" x2="1469.3" y2="189.0" stroke="#000" stroke-width="2.6" stroke-linecap="butt" /><line x1="1464.3" y1="196.7" x2="1469.3" y2="196.7" stroke="#000" stroke-width="2.0" stroke-linecap="butt" /><line x1="1464.3" y1="204.4" x2="1469.3" y2="204.4" stroke="#000" stroke-width="2.0" stroke-linecap="butt" /><line x1="1464.3" y1="212.0" x2="1469.3" y2="212.0" stroke="#000" stroke-width="2.0" stroke-linecap="butt" /><line x1="1464.3" y1="219.7" x2="1469.3" y2="219.7" stroke="#000" stroke-width="2.0" stroke-linecap="butt" /><line x1="1464.3" y1="227.4" x2="1469.3" y2="227.4" stroke="#000" stroke-width="2.0" stroke-linecap="butt" /><line x1="1464.3" y1="235.1" x2="1469.3" y2="235.1" stroke="#000" stroke-width="2.0" stroke-linecap="butt" /><line x1="1464.3" y1="242.8" x2="1469.3" y2="242.8" stroke="#000" stroke-width="2.0" stroke-linecap="butt" /><line x1="1464.3" y1="250.4" x2="1469.3" y2="250.4" stroke="#000" stroke-width="2.0" stroke-linecap="butt" /><line x1="1464.3" y1="258.1" x2="1469.3" y2="258.1" stroke="#000" stroke-width="2.0" stroke-linecap="butt" /><line x1="1461.3" y1="265.8" x2="1469.3" y2="265.8" stroke="#000" stroke-width="2.6" stroke-linecap="butt" /><line x1="1464.3" y1="273.5" x2="1469.3" y2="273.5" stroke="#000" stroke-width="2.0" stroke-linecap="butt" /><line x1="1464.3" y1="281.2" x2="1469.3" y2="281.2" stroke="#000" stroke-width="2.0" stroke-linecap="butt" /><line x1="1464.3" y1="288.8" x2="1469.3" y2="288.8" stroke="#000" stroke-width="2.0" stroke-linecap="butt" /><line x1="1464.3" y1="296.5" x2="1469.3" y2="296.5" stroke="#000" stroke-width="2.0" stroke-linecap="butt" /><line x1="1464.3" y1="304.2" x2="1469.3" y2="304.2" stroke="#000" stroke-width="2.0" stroke-linecap="butt" /><line x1="1464.3" y1="311.9" x2="1469.3" y2="311.9" stroke="#000" stroke-width="2.0" stroke-linecap="butt" /><line x1="1464.3" y1="319.6" x2="1469.3" y2="319.6" stroke="#000" stroke-width="2.0" stroke-linecap="butt" /><line x1="1464.3" y1="327.2" x2="1469.3" y2="327.2" stroke="#000" stroke-width="2.0" stroke-linecap="butt" /><line x1="1464.3" y1="334.9" x2="1469.3" y2="334.9" stroke="#000" stroke-width="2.0" stroke-linecap="butt" /><line x1="1461.3" y1="342.6" x2="1469.3" y2="342.6" stroke="#000" stroke-width="2.6" stroke-linecap="butt" /><line x1="1464.3" y1="350.3" x2="1469.3" y2="350.3" stroke="#000" stroke-width="2.0" stroke-linecap="butt" /><line x1="1464.3" y1="358.0" x2="1469.3" y2="358.0" stroke="#000" stroke-width="2.0" stroke-linecap="butt" /><line x1="1464.3" y1="365.6" x2="1469.3" y2="365.6" stroke="#000" stroke-width="2.0" stroke-linecap="butt" /><line x1="1464.3" y1="373.3" x2="1469.3" y2="373.3" stroke="#000" stroke-width="2.0" stroke-linecap="butt" /><line x1="1464.3" y1="381.0" x2="1469.3" y2="381.0" stroke="#000" stroke-width="2.0" stroke-linecap="butt" /><line x1="1464.3" y1="388.7" x2="1469.3" y2="388.7" stroke="#000" stroke-width="2.0" stroke-linecap="butt" /><line x1="1464.3" y1="396.4" x2="1469.3" y2="396.4" stroke="#000" stroke-width="2.0" stroke-linecap="butt" /><line x1="1464.3" y1="404.0" x2="1469.3" y2="404.0" stroke="#000" stroke-width="2.0" stroke-linecap="butt" /><line x1="1464.3" y1="411.7" x2="1469.3" y2="411.7" stroke="#000" stroke-width="2.0" stroke-linecap="butt" /><line x1="1461.3" y1="419.4" x2="1469.3" y2="419.4" stroke="#000" stroke-width="2.6" stroke-linecap="butt" /><line x1="1464.3" y1="427.1" x2="1469.3" y2="427.1" stroke="#000" stroke-width="2.0" stroke-linecap="butt" /><line x1="1464.3" y1="434.8" x2="1469.3" y2="434.8" stroke="#000" stroke-width="2.0" stroke-linecap="butt" /><line x1="1464.3" y1="442.4" x2="1469.3" y2="442.4" stroke="#000" stroke-width="2.0" stroke-linecap="butt" /><line x1="1464.3" y1="450.1" x2="1469.3" y2="450.1" stroke="#000" stroke-width="2.0" stroke-linecap="butt" /><line x1="1464.3" y1="457.8" x2="1469.3" y2="457.8" stroke="#000" stroke-width="2.0" stroke-linecap="butt" /><line x1="1464.3" y1="465.5" x2="1469.3" y2="465.5" stroke="#000" stroke-width="2.0" stroke-linecap="butt" /><line x1="1464.3" y1="473.2" x2="1469.3" y2="473.2" stroke="#000" stroke-width="2.0" stroke-linecap="butt" /><line x1="1464.3" y1="480.8" x2="1469.3" y2="480.8" stroke="#000" stroke-width="2.0" stroke-linecap="butt" /><line x1="1464.3" y1="488.5" x2="1469.3" y2="488.5" stroke="#000" stroke-width="2.0" stroke-linecap="butt" /><line x1="1461.3" y1="496.2" x2="1469.3" y2="496.2" stroke="#000" stroke-width="2.6" stroke-linecap="butt" /><text x="1460.3" y="122.6" font-family="Liberation Sans" font-size="29" font-weight="bold" fill="#000" text-anchor="end" >0.8</text><text x="1460.3" y="199.4" font-family="Liberation Sans" font-size="29" font-weight="bold" fill="#000" text-anchor="end" >0.6</text><text x="1460.3" y="276.2" font-family="Liberation Sans" font-size="29" font-weight="bold" fill="#000" text-anchor="end" >0.4</text><text x="1460.3" y="353.0" font-family="Liberation Sans" font-size="29" font-weight="bold" fill="#000" text-anchor="end" >0.2</text><text x="1460.3" y="429.8" font-family="Liberation Sans" font-size="29" font-weight="bold" fill="#000" text-anchor="end" >0.0</text><text x="1460.3" y="506.6" font-family="Liberation Sans" font-size="29" font-weight="bold" fill="#000" text-anchor="end" >-0.2</text><line x1="1467.8" y1="496.2" x2="2005.0" y2="496.2" stroke="#000" stroke-width="3.4" stroke-linecap="butt" /><line x1="1501.9" y1="496.2" x2="1501.9" y2="504.7" stroke="#000" stroke-width="2.2" stroke-linecap="butt" /><line x1="1568.5" y1="496.2" x2="1568.5" y2="504.7" stroke="#000" stroke-width="2.2" stroke-linecap="butt" /><line x1="1635.1" y1="496.2" x2="1635.1" y2="504.7" stroke="#000" stroke-width="2.2" stroke-linecap="butt" /><line x1="1701.7" y1="496.2" x2="1701.7" y2="504.7" stroke="#000" stroke-width="2.2" stroke-linecap="butt" /><line x1="1768.3" y1="496.2" x2="1768.3" y2="504.7" stroke="#000" stroke-width="2.2" stroke-linecap="butt" /><line x1="1834.9" y1="496.2" x2="1834.9" y2="504.7" stroke="#000" stroke-width="2.2" stroke-linecap="butt" /><line x1="1901.5" y1="496.2" x2="1901.5" y2="504.7" stroke="#000" stroke-width="2.2" stroke-linecap="butt" /><line x1="1968.1" y1="496.2" x2="1968.1" y2="504.7" stroke="#000" stroke-width="2.2" stroke-linecap="butt" /><path d="M1589.7 109.8V83.2H1866.3V342.7" fill="none" stroke="#000" stroke-width="2.8"/><line x1="1494.3" y1="109.8" x2="1720.0" y2="109.8" stroke="#000" stroke-width="2.8" stroke-linecap="butt" /><line x1="1494.3" y1="102.0" x2="1494.3" y2="117.7" stroke="#000" stroke-width="2.6" stroke-linecap="butt" /><line x1="1720.0" y1="102.0" x2="1720.0" y2="117.7" stroke="#000" stroke-width="2.6" stroke-linecap="butt" /><line x1="1753.0" y1="342.7" x2="1979.0" y2="342.7" stroke="#000" stroke-width="2.8" stroke-linecap="butt" /><line x1="1753.0" y1="335.0" x2="1753.0" y2="351.0" stroke="#000" stroke-width="2.6" stroke-linecap="butt" /><line x1="1979.0" y1="335.0" x2="1979.0" y2="351.0" stroke="#000" stroke-width="2.6" stroke-linecap="butt" /><text x="1697.0" y="88.5" font-family="Liberation Sans" font-size="27" font-weight="normal" fill="#000" textLength="35.0" lengthAdjust="spacingAndGlyphs" >***</text><line x1="1504.5" y1="128.3" x2="1579.6" y2="128.3" stroke="#000" stroke-width="2.6" stroke-linecap="round" /><text x="1531.2" y="133.6" font-family="Liberation Sans" font-size="27" font-weight="normal" fill="#000" textLength="20.5" lengthAdjust="spacingAndGlyphs" >**</text><line x1="1508.5" y1="154.0" x2="1573.6" y2="154.0" stroke="#000" stroke-width="2.6" stroke-linecap="round" /><text x="1530.0" y="150.6" font-family="Liberation Sans" font-size="25" font-weight="normal" fill="#000" textLength="23.5" lengthAdjust="spacingAndGlyphs" >ns</text><line x1="1634.5" y1="190.8" x2="1710.0" y2="190.8" stroke="#000" stroke-width="3.2" stroke-linecap="round" /><text x="1661.5" y="183.8" font-family="Liberation Sans" font-size="25" font-weight="normal" fill="#000" textLength="24.0" lengthAdjust="spacingAndGlyphs" >ns</text><text x="1509.4" y="527.0" font-family="Liberation Serif" font-size="30" font-weight="bold" fill="#000" text-anchor="end" transform="rotate(-45 1509.4 527.0)" >P</text><text x="1576.0" y="527.0" font-family="Liberation Serif" font-size="30" font-weight="bold" fill="#000" text-anchor="end" transform="rotate(-45 1576.0 527.0)" >RP</text><text x="1642.6" y="527.0" font-family="Liberation Serif" font-size="30" font-weight="bold" fill="#000" text-anchor="end" transform="rotate(-45 1642.6 527.0)" >P</text><text x="1709.2" y="527.0" font-family="Liberation Serif" font-size="30" font-weight="bold" fill="#000" text-anchor="end" transform="rotate(-45 1709.2 527.0)" >RP</text><text x="1775.8" y="527.0" font-family="Liberation Serif" font-size="30" font-weight="bold" fill="#000" text-anchor="end" transform="rotate(-45 1775.8 527.0)" >P</text><text x="1842.4" y="527.0" font-family="Liberation Serif" font-size="30" font-weight="bold" fill="#000" text-anchor="end" transform="rotate(-45 1842.4 527.0)" >RP</text><text x="1909.0" y="527.0" font-family="Liberation Serif" font-size="30" font-weight="bold" fill="#000" text-anchor="end" transform="rotate(-45 1909.0 527.0)" >P</text><text x="1975.6" y="527.0" font-family="Liberation Serif" font-size="30" font-weight="bold" fill="#000" text-anchor="end" transform="rotate(-45 1975.6 527.0)" >RP</text><rect x="1440.4" y="557.8" width="167.3" height="37.6" fill="#fff" stroke="#2a2a2a" stroke-width="1.4" /><text x="1445.4" y="584.5" font-family="Liberation Sans" font-size="25" font-weight="bold" fill="#000" textLength="156.4" lengthAdjust="spacingAndGlyphs" >MDA-MB-231</text><rect x="1611.2" y="557.8" width="79.4" height="37.6" fill="#fff" stroke="#2a2a2a" stroke-width="1.4" /><text x="1615.9" y="584.5" font-family="Liberation Sans" font-size="25" font-weight="bold" fill="#000" textLength="69.7" lengthAdjust="spacingAndGlyphs" >MCF7</text><rect x="1724.0" y="557.8" width="166.8" height="37.6" fill="#fff" stroke="#2a2a2a" stroke-width="1.4" /><text x="1729.0" y="584.5" font-family="Liberation Sans" font-size="25" font-weight="bold" fill="#000" textLength="156.4" lengthAdjust="spacingAndGlyphs" >MDA-MB-231</text><rect x="1893.4" y="557.8" width="79.2" height="37.6" fill="#fff" stroke="#2a2a2a" stroke-width="1.4" /><text x="1898.0" y="584.5" font-family="Liberation Sans" font-size="25" font-weight="bold" fill="#000" textLength="69.7" lengthAdjust="spacingAndGlyphs" >MCF7</text><line x1="1750.0" y1="611.0" x2="1981.0" y2="611.0" stroke="#000" stroke-width="3" stroke-linecap="butt" /><line x1="1751.0" y1="603.0" x2="1751.0" y2="618.5" stroke="#000" stroke-width="3" stroke-linecap="butt" /><line x1="1980.5" y1="603.0" x2="1980.5" y2="618.5" stroke="#000" stroke-width="3" stroke-linecap="butt" /><text x="1810.6" y="637.3" font-family="Liberation Sans" font-size="24" font-weight="bold" fill="#000" textLength="122.4" lengthAdjust="spacingAndGlyphs" >w/o beads</text><text x="1552.0" y="48.3" font-family="Liberation Sans" font-size="38" font-weight="normal" fill="#000" textLength="261.0" lengthAdjust="spacingAndGlyphs" >Uptake of NPs</text><text x="1409.3" y="431.0" font-family="Liberation Sans" font-size="29" font-weight="bold" fill="#000" textLength="273.5" lengthAdjust="spacingAndGlyphs" transform="rotate(-90 1409.3 431.0)" >Pearson coefficient</text><text x="1357.0" y="343.0" font-family="Liberation Sans" font-size="46" font-weight="normal" fill="#000" textLength="96.0" lengthAdjust="spacingAndGlyphs" transform="rotate(-90 1357.0 343.0)" >STIFF</text><circle cx="2147.5" cy="121.6" r="3.2" fill="#000"/><circle cx="2147.5" cy="162.8" r="3.2" fill="#000"/><circle cx="2147.5" cy="173.3" r="3.2" fill="#000"/><circle cx="2156.1" cy="180.1" r="3.2" fill="#000"/><circle cx="2138.9" cy="183.7" r="3.2" fill="#000"/><circle cx="2138.9" cy="197.3" r="3.2" fill="#000"/><circle cx="2156.1" cy="197.3" r="3.2" fill="#000"/><circle cx="2130.2" cy="200.9" r="3.2" fill="#000"/><circle cx="2147.5" cy="204.3" r="3.2" fill="#000"/><circle cx="2164.4" cy="207.8" r="3.2" fill="#000"/><circle cx="2147.5" cy="214.5" r="3.2" fill="#000"/><circle cx="2113.0" cy="218.1" r="3.2" fill="#000"/><circle cx="2181.5" cy="218.1" r="3.2" fill="#000"/><circle cx="2130.2" cy="221.6" r="3.2" fill="#000"/><circle cx="2164.4" cy="221.6" r="3.2" fill="#000"/><circle cx="2130.2" cy="228.3" r="3.2" fill="#000"/><circle cx="2147.5" cy="235.4" r="3.2" fill="#000"/><circle cx="2164.4" cy="235.4" r="3.2" fill="#000"/><circle cx="2164.4" cy="238.8" r="3.2" fill="#000"/><circle cx="2130.2" cy="245.5" r="3.2" fill="#000"/><circle cx="2147.5" cy="245.5" r="3.2" fill="#000"/><circle cx="2138.9" cy="255.6" r="3.2" fill="#000"/><circle cx="2156.1" cy="259.2" r="3.2" fill="#000"/><circle cx="2147.5" cy="269.7" r="3.2" fill="#000"/><circle cx="2147.5" cy="280.0" r="3.2" fill="#000"/><rect x="2272.1" y="221.8" width="6.2" height="6.2" fill="#000"/><rect x="2277.2" y="235.6" width="6.2" height="6.2" fill="#000"/><rect x="2266.5" y="239.0" width="6.2" height="6.2" fill="#000"/><rect x="2261.2" y="249.3" width="6.2" height="6.2" fill="#000"/><rect x="2272.1" y="249.3" width="6.2" height="6.2" fill="#000"/><rect x="2282.8" y="249.3" width="6.2" height="6.2" fill="#000"/><rect x="2277.2" y="259.8" width="6.2" height="6.2" fill="#000"/><rect x="2287.9" y="259.8" width="6.2" height="6.2" fill="#000"/><rect x="2234.5" y="262.9" width="6.2" height="6.2" fill="#000"/><rect x="2245.2" y="262.9" width="6.2" height="6.2" fill="#000"/><rect x="2309.3" y="262.9" width="6.2" height="6.2" fill="#000"/><rect x="2255.9" y="266.3" width="6.2" height="6.2" fill="#000"/><rect x="2266.5" y="266.3" width="6.2" height="6.2" fill="#000"/><rect x="2298.4" y="266.3" width="6.2" height="6.2" fill="#000"/><rect x="2272.1" y="276.6" width="6.2" height="6.2" fill="#000"/><rect x="2261.2" y="287.1" width="6.2" height="6.2" fill="#000"/><rect x="2282.8" y="287.1" width="6.2" height="6.2" fill="#000"/><rect x="2272.1" y="290.5" width="6.2" height="6.2" fill="#000"/><rect x="2261.2" y="297.6" width="6.2" height="6.2" fill="#000"/><rect x="2272.1" y="301.0" width="6.2" height="6.2" fill="#000"/><rect x="2282.8" y="301.0" width="6.2" height="6.2" fill="#000"/><rect x="2277.2" y="311.3" width="6.2" height="6.2" fill="#000"/><rect x="2266.5" y="314.8" width="6.2" height="6.2" fill="#000"/><rect x="2255.9" y="318.2" width="6.2" height="6.2" fill="#000"/><rect x="2266.5" y="321.6" width="6.2" height="6.2" fill="#000"/><rect x="2277.2" y="325.1" width="6.2" height="6.2" fill="#000"/><rect x="2287.9" y="325.1" width="6.2" height="6.2" fill="#000"/><path d="M2399.6 217.6L2406.0 217.6L2402.8 211.8Z" fill="#000"/><path d="M2364.3 231.3L2370.7 231.3L2367.5 225.5Z" fill="#000"/><path d="M2378.4 234.7L2384.8 234.7L2381.6 229.0Z" fill="#000"/><path d="M2392.5 234.7L2398.9 234.7L2395.7 229.0Z" fill="#000"/><path d="M2406.7 231.3L2413.1 231.3L2409.9 225.5Z" fill="#000"/><path d="M2420.6 227.9L2427.0 227.9L2423.8 222.1Z" fill="#000"/><path d="M2434.7 231.3L2441.1 231.3L2437.9 225.5Z" fill="#000"/><path d="M2406.7 248.5L2413.1 248.5L2409.9 242.7Z" fill="#000"/><path d="M2392.5 251.9L2398.9 251.9L2395.7 246.1Z" fill="#000"/><path d="M2392.5 262.4L2398.9 262.4L2395.7 256.6Z" fill="#000"/><path d="M2406.7 260.1L2413.1 260.1L2409.9 254.3Z" fill="#000"/><path d="M2413.7 272.5L2420.1 272.5L2416.9 266.7Z" fill="#000"/><path d="M2385.5 279.4L2391.9 279.4L2388.7 273.6Z" fill="#000"/><path d="M2399.6 279.4L2406.0 279.4L2402.8 273.6Z" fill="#000"/><path d="M2406.7 282.8L2413.1 282.8L2409.9 277.0Z" fill="#000"/><path d="M2420.6 282.8L2427.0 282.8L2423.8 277.0Z" fill="#000"/><path d="M2392.5 286.2L2398.9 286.2L2395.7 280.5Z" fill="#000"/><path d="M2378.4 289.7L2384.8 289.7L2381.6 283.9Z" fill="#000"/><path d="M2378.4 293.1L2384.8 293.1L2381.6 287.3Z" fill="#000"/><path d="M2392.5 293.1L2398.9 293.1L2395.7 287.3Z" fill="#000"/><path d="M2406.7 293.1L2413.1 293.1L2409.9 287.3Z" fill="#000"/><path d="M2420.6 300.2L2427.0 300.2L2423.8 294.4Z" fill="#000"/><path d="M2531.1 187.3L2537.5 187.3L2534.3 193.1Z" fill="#000"/><path d="M2523.4 194.4L2529.8 194.4L2526.6 200.1Z" fill="#000"/><path d="M2527.2 228.9L2533.6 228.9L2530.4 234.7Z" fill="#000"/><path d="M2523.4 235.6L2529.8 235.6L2526.6 241.3Z" fill="#000"/><path d="M2531.1 239.2L2537.5 239.2L2534.3 245.0Z" fill="#000"/><path d="M2523.4 249.3L2529.8 249.3L2526.6 255.1Z" fill="#000"/><path d="M2531.1 252.8L2537.5 252.8L2534.3 258.5Z" fill="#000"/><path d="M2523.4 263.2L2529.8 263.2L2526.6 269.0Z" fill="#000"/><path d="M2531.1 266.7L2537.5 266.7L2534.3 272.4Z" fill="#000"/><path d="M2527.2 277.0L2533.6 277.0L2530.4 282.7Z" fill="#000"/><path d="M2531.1 290.9L2537.5 290.9L2534.3 296.7Z" fill="#000"/><path d="M2523.4 294.7L2529.8 294.7L2526.6 300.5Z" fill="#000"/><path d="M2523.4 298.0L2529.8 298.0L2526.6 303.7Z" fill="#000"/><path d="M2531.1 301.4L2537.5 301.4L2534.3 307.2Z" fill="#000"/><path d="M2516.2 304.8L2522.6 304.8L2519.4 310.6Z" fill="#000"/><path d="M2538.3 304.8L2544.7 304.8L2541.5 310.6Z" fill="#000"/><path d="M2523.4 318.6L2529.8 318.6L2526.6 324.3Z" fill="#000"/><path d="M2531.1 322.0L2537.5 322.0L2534.3 327.8Z" fill="#000"/><path d="M2523.4 335.7L2529.8 335.7L2526.6 341.5Z" fill="#000"/><path d="M2531.1 335.7L2537.5 335.7L2534.3 341.5Z" fill="#000"/><path d="M2527.2 425.4L2533.6 425.4L2530.4 431.2Z" fill="#000"/><line x1="2103.9" y1="216.6" x2="2191.0" y2="216.6" stroke="#000" stroke-width="3.0" stroke-linecap="round" /><line x1="2125.4" y1="209.5" x2="2169.1" y2="209.5" stroke="#000" stroke-width="1.8" stroke-linecap="round" /><line x1="2125.4" y1="223.9" x2="2169.1" y2="223.9" stroke="#000" stroke-width="1.8" stroke-linecap="round" /><line x1="2147.5" y1="209.5" x2="2147.5" y2="223.9" stroke="#000" stroke-width="1.8" stroke-linecap="butt" /><line x1="2232.1" y1="281.2" x2="2318.1" y2="281.2" stroke="#000" stroke-width="3.0" stroke-linecap="round" /><line x1="2253.8" y1="275.3" x2="2296.5" y2="275.3" stroke="#000" stroke-width="1.8" stroke-linecap="round" /><line x1="2253.8" y1="286.8" x2="2296.5" y2="286.8" stroke="#000" stroke-width="1.8" stroke-linecap="round" /><line x1="2275.2" y1="275.3" x2="2275.2" y2="286.8" stroke="#000" stroke-width="1.8" stroke-linecap="butt" /><line x1="2359.9" y1="259.7" x2="2445.9" y2="259.7" stroke="#000" stroke-width="3.0" stroke-linecap="round" /><line x1="2381.2" y1="253.9" x2="2424.6" y2="253.9" stroke="#000" stroke-width="2.6" stroke-linecap="round" /><line x1="2381.2" y1="265.4" x2="2424.6" y2="265.4" stroke="#000" stroke-width="2.6" stroke-linecap="round" /><line x1="2402.8" y1="253.9" x2="2402.8" y2="265.4" stroke="#000" stroke-width="1.8" stroke-linecap="butt" /><line x1="2487.7" y1="284.9" x2="2573.4" y2="284.9" stroke="#000" stroke-width="3.0" stroke-linecap="round" /><line x1="2509.1" y1="273.4" x2="2552.0" y2="273.4" stroke="#000" stroke-width="2.8" stroke-linecap="round" /><line x1="2509.1" y1="296.5" x2="2552.0" y2="296.5" stroke="#000" stroke-width="2.8" stroke-linecap="round" /><line x1="2530.4" y1="273.4" x2="2530.4" y2="296.5" stroke="#000" stroke-width="3.0" stroke-linecap="butt" /><line x1="2083.2" y1="84.8" x2="2083.2" y2="501.2" stroke="#000" stroke-width="3.2" stroke-linecap="butt" /><line x1="2075.1" y1="86.3" x2="2083.2" y2="86.3" stroke="#000" stroke-width="2.6" stroke-linecap="butt" /><line x1="2078.1" y1="93.2" x2="2083.2" y2="93.2" stroke="#000" stroke-width="2.0" stroke-linecap="butt" /><line x1="2078.1" y1="100.1" x2="2083.2" y2="100.1" stroke="#000" stroke-width="2.0" stroke-linecap="butt" /><line x1="2078.1" y1="107.0" x2="2083.2" y2="107.0" stroke="#000" stroke-width="2.0" stroke-linecap="butt" /><line x1="2078.1" y1="113.9" x2="2083.2" y2="113.9" stroke="#000" stroke-width="2.0" stroke-linecap="butt" /><line x1="2078.1" y1="120.7" x2="2083.2" y2="120.7" stroke="#000" stroke-width="2.0" stroke-linecap="butt" /><line x1="2078.1" y1="127.6" x2="2083.2" y2="127.6" stroke="#000" stroke-width="2.0" stroke-linecap="butt" /><line x1="2078.1" y1="134.5" x2="2083.2" y2="134.5" stroke="#000" stroke-width="2.0" stroke-linecap="butt" /><line x1="2078.1" y1="141.4" x2="2083.2" y2="141.4" stroke="#000" stroke-width="2.0" stroke-linecap="butt" /><line x1="2078.1" y1="148.3" x2="2083.2" y2="148.3" stroke="#000" stroke-width="2.0" stroke-linecap="butt" /><line x1="2075.1" y1="155.2" x2="2083.2" y2="155.2" stroke="#000" stroke-width="2.6" stroke-linecap="butt" /><line x1="2078.1" y1="162.1" x2="2083.2" y2="162.1" stroke="#000" stroke-width="2.0" stroke-linecap="butt" /><line x1="2078.1" y1="169.0" x2="2083.2" y2="169.0" stroke="#000" stroke-width="2.0" stroke-linecap="butt" /><line x1="2078.1" y1="175.9" x2="2083.2" y2="175.9" stroke="#000" stroke-width="2.0" stroke-linecap="butt" /><line x1="2078.1" y1="182.8" x2="2083.2" y2="182.8" stroke="#000" stroke-width="2.0" stroke-linecap="butt" /><line x1="2078.1" y1="189.6" x2="2083.2" y2="189.6" stroke="#000" stroke-width="2.0" stroke-linecap="butt" /><line x1="2078.1" y1="196.5" x2="2083.2" y2="196.5" stroke="#000" stroke-width="2.0" stroke-linecap="butt" /><line x1="2078.1" y1="203.4" x2="2083.2" y2="203.4" stroke="#000" stroke-width="2.0" stroke-linecap="butt" /><line x1="2078.1" y1="210.3" x2="2083.2" y2="210.3" stroke="#000" stroke-width="2.0" stroke-linecap="butt" /><line x1="2078.1" y1="217.2" x2="2083.2" y2="217.2" stroke="#000" stroke-width="2.0" stroke-linecap="butt" /><line x1="2075.1" y1="224.1" x2="2083.2" y2="224.1" stroke="#000" stroke-width="2.6" stroke-linecap="butt" /><line x1="2078.1" y1="231.0" x2="2083.2" y2="231.0" stroke="#000" stroke-width="2.0" stroke-linecap="butt" /><line x1="2078.1" y1="237.9" x2="2083.2" y2="237.9" stroke="#000" stroke-width="2.0" stroke-linecap="butt" /><line x1="2078.1" y1="244.8" x2="2083.2" y2="244.8" stroke="#000" stroke-width="2.0" stroke-linecap="butt" /><line x1="2078.1" y1="251.7" x2="2083.2" y2="251.7" stroke="#000" stroke-width="2.0" stroke-linecap="butt" /><line x1="2078.1" y1="258.5" x2="2083.2" y2="258.5" stroke="#000" stroke-width="2.0" stroke-linecap="butt" /><line x1="2078.1" y1="265.4" x2="2083.2" y2="265.4" stroke="#000" stroke-width="2.0" stroke-linecap="butt" /><line x1="2078.1" y1="272.3" x2="2083.2" y2="272.3" stroke="#000" stroke-width="2.0" stroke-linecap="butt" /><line x1="2078.1" y1="279.2" x2="2083.2" y2="279.2" stroke="#000" stroke-width="2.0" stroke-linecap="butt" /><line x1="2078.1" y1="286.1" x2="2083.2" y2="286.1" stroke="#000" stroke-width="2.0" stroke-linecap="butt" /><line x1="2075.1" y1="293.0" x2="2083.2" y2="293.0" stroke="#000" stroke-width="2.6" stroke-linecap="butt" /><line x1="2078.1" y1="299.9" x2="2083.2" y2="299.9" stroke="#000" stroke-width="2.0" stroke-linecap="butt" /><line x1="2078.1" y1="306.8" x2="2083.2" y2="306.8" stroke="#000" stroke-width="2.0" stroke-linecap="butt" /><line x1="2078.1" y1="313.7" x2="2083.2" y2="313.7" stroke="#000" stroke-width="2.0" stroke-linecap="butt" /><line x1="2078.1" y1="320.6" x2="2083.2" y2="320.6" stroke="#000" stroke-width="2.0" stroke-linecap="butt" /><line x1="2078.1" y1="327.4" x2="2083.2" y2="327.4" stroke="#000" stroke-width="2.0" stroke-linecap="butt" /><line x1="2078.1" y1="334.3" x2="2083.2" y2="334.3" stroke="#000" stroke-width="2.0" stroke-linecap="butt" /><line x1="2078.1" y1="341.2" x2="2083.2" y2="341.2" stroke="#000" stroke-width="2.0" stroke-linecap="butt" /><line x1="2078.1" y1="348.1" x2="2083.2" y2="348.1" stroke="#000" stroke-width="2.0" stroke-linecap="butt" /><line x1="2078.1" y1="355.0" x2="2083.2" y2="355.0" stroke="#000" stroke-width="2.0" stroke-linecap="butt" /><line x1="2075.1" y1="361.9" x2="2083.2" y2="361.9" stroke="#000" stroke-width="2.6" stroke-linecap="butt" /><line x1="2078.1" y1="368.8" x2="2083.2" y2="368.8" stroke="#000" stroke-width="2.0" stroke-linecap="butt" /><line x1="2078.1" y1="375.7" x2="2083.2" y2="375.7" stroke="#000" stroke-width="2.0" stroke-linecap="butt" /><line x1="2078.1" y1="382.6" x2="2083.2" y2="382.6" stroke="#000" stroke-width="2.0" stroke-linecap="butt" /><line x1="2078.1" y1="389.5" x2="2083.2" y2="389.5" stroke="#000" stroke-width="2.0" stroke-linecap="butt" /><line x1="2078.1" y1="396.3" x2="2083.2" y2="396.3" stroke="#000" stroke-width="2.0" stroke-linecap="butt" /><line x1="2078.1" y1="403.2" x2="2083.2" y2="403.2" stroke="#000" stroke-width="2.0" stroke-linecap="butt" /><line x1="2078.1" y1="410.1" x2="2083.2" y2="410.1" stroke="#000" stroke-width="2.0" stroke-linecap="butt" /><line x1="2078.1" y1="417.0" x2="2083.2" y2="417.0" stroke="#000" stroke-width="2.0" stroke-linecap="butt" /><line x1="2078.1" y1="423.9" x2="2083.2" y2="423.9" stroke="#000" stroke-width="2.0" stroke-linecap="butt" /><line x1="2075.1" y1="430.8" x2="2083.2" y2="430.8" stroke="#000" stroke-width="2.6" stroke-linecap="butt" /><line x1="2078.1" y1="437.7" x2="2083.2" y2="437.7" stroke="#000" stroke-width="2.0" stroke-linecap="butt" /><line x1="2078.1" y1="444.6" x2="2083.2" y2="444.6" stroke="#000" stroke-width="2.0" stroke-linecap="butt" /><line x1="2078.1" y1="451.5" x2="2083.2" y2="451.5" stroke="#000" stroke-width="2.0" stroke-linecap="butt" /><line x1="2078.1" y1="458.4" x2="2083.2" y2="458.4" stroke="#000" stroke-width="2.0" stroke-linecap="butt" /><line x1="2078.1" y1="465.2" x2="2083.2" y2="465.2" stroke="#000" stroke-width="2.0" stroke-linecap="butt" /><line x1="2078.1" y1="472.1" x2="2083.2" y2="472.1" stroke="#000" stroke-width="2.0" stroke-linecap="butt" /><line x1="2078.1" y1="479.0" x2="2083.2" y2="479.0" stroke="#000" stroke-width="2.0" stroke-linecap="butt" /><line x1="2078.1" y1="485.9" x2="2083.2" y2="485.9" stroke="#000" stroke-width="2.0" stroke-linecap="butt" /><line x1="2078.1" y1="492.8" x2="2083.2" y2="492.8" stroke="#000" stroke-width="2.0" stroke-linecap="butt" /><line x1="2075.1" y1="499.7" x2="2083.2" y2="499.7" stroke="#000" stroke-width="2.6" stroke-linecap="butt" /><text x="2073.7" y="97.8" font-family="Liberation Sans" font-size="32" font-weight="bold" fill="#000" text-anchor="end" >120</text><text x="2073.7" y="166.7" font-family="Liberation Sans" font-size="32" font-weight="bold" fill="#000" text-anchor="end" >100</text><text x="2073.7" y="235.6" font-family="Liberation Sans" font-size="32" font-weight="bold" fill="#000" text-anchor="end" >80</text><text x="2073.7" y="304.5" font-family="Liberation Sans" font-size="32" font-weight="bold" fill="#000" text-anchor="end" >60</text><text x="2073.7" y="373.4" font-family="Liberation Sans" font-size="32" font-weight="bold" fill="#000" text-anchor="end" >40</text><text x="2073.7" y="442.3" font-family="Liberation Sans" font-size="32" font-weight="bold" fill="#000" text-anchor="end" >20</text><text x="2073.7" y="511.2" font-family="Liberation Sans" font-size="32" font-weight="bold" fill="#000" text-anchor="end" >0</text><line x1="2081.6" y1="499.7" x2="2597.5" y2="499.7" stroke="#000" stroke-width="3.4" stroke-linecap="butt" /><line x1="2147.5" y1="499.7" x2="2147.5" y2="508.2" stroke="#000" stroke-width="2.2" stroke-linecap="butt" /><line x1="2275.2" y1="499.7" x2="2275.2" y2="508.2" stroke="#000" stroke-width="2.2" stroke-linecap="butt" /><line x1="2402.9" y1="499.7" x2="2402.9" y2="508.2" stroke="#000" stroke-width="2.2" stroke-linecap="butt" /><line x1="2530.6" y1="499.7" x2="2530.6" y2="508.2" stroke="#000" stroke-width="2.2" stroke-linecap="butt" /><line x1="2145.0" y1="86.0" x2="2399.5" y2="86.0" stroke="#000" stroke-width="3.2" stroke-linecap="round" /><text x="2256.4" y="92.5" font-family="Liberation Sans" font-size="31" font-weight="normal" fill="#000" textLength="37.5" lengthAdjust="spacingAndGlyphs" >***</text><line x1="2145.5" y1="111.4" x2="2276.0" y2="111.4" stroke="#000" stroke-width="3.2" stroke-linecap="round" /><text x="2195.6" y="118.5" font-family="Liberation Sans" font-size="31" font-weight="normal" fill="#000" textLength="38.0" lengthAdjust="spacingAndGlyphs" >***</text><text x="2155.5" y="532.0" font-family="Liberation Serif" font-size="34" font-weight="bold" fill="#000" text-anchor="end" transform="rotate(-45 2155.5 532.0)" >P</text><text x="2283.2" y="532.0" font-family="Liberation Serif" font-size="34" font-weight="bold" fill="#000" text-anchor="end" transform="rotate(-45 2283.2 532.0)" >RP</text><text x="2410.9" y="532.0" font-family="Liberation Serif" font-size="34" font-weight="bold" fill="#000" text-anchor="end" transform="rotate(-45 2410.9 532.0)" >P</text><text x="2538.6" y="532.0" font-family="Liberation Serif" font-size="34" font-weight="bold" fill="#000" text-anchor="end" transform="rotate(-45 2538.6 532.0)" >RP</text><rect x="2095.0" y="562.6" width="208.0" height="45.2" fill="#fff" stroke="#2a2a2a" stroke-width="1.4" /><text x="2100.5" y="597.0" font-family="Liberation Sans" font-size="32" font-weight="bold" fill="#000" textLength="196.0" lengthAdjust="spacingAndGlyphs" >MDA-MB-231</text><rect x="2361.0" y="562.6" width="98.0" height="45.2" fill="#fff" stroke="#2a2a2a" stroke-width="1.4" /><text x="2366.5" y="597.0" font-family="Liberation Sans" font-size="32" font-weight="bold" fill="#000" textLength="87.0" lengthAdjust="spacingAndGlyphs" >MCF7</text><text x="2226.0" y="45.0" font-family="Liberation Sans" font-size="40" font-weight="normal" fill="#000" textLength="122.5" lengthAdjust="spacingAndGlyphs" >F-actin</text><text x="2019.0" y="379.0" font-family="Liberation Serif" font-size="34.5" font-weight="normal" fill="#000" textLength="189.5" lengthAdjust="spacingAndGlyphs" transform="rotate(-90 2019.0 379.0)" stroke="#000" stroke-width="0.9">F-Actin, RFU</text><line x1="1476.6" y1="1017.0" x2="2003.0" y2="1017.0" stroke="#000" stroke-width="1.7" stroke-dasharray="1.8 3.7"/><circle cx="1505.7" cy="953.1" r="4.3" fill="#000"/><circle cx="1511.5" cy="952.8" r="4.3" fill="#000"/><circle cx="1499.9" cy="948.1" r="4.3" fill="#000"/><circle cx="1505.7" cy="943.6" r="4.3" fill="#000"/><circle cx="1511.5" cy="938.2" r="4.3" fill="#000"/><circle cx="1499.9" cy="936.6" r="4.3" fill="#000"/><circle cx="1517.3" cy="936.2" r="4.3" fill="#000"/><circle cx="1505.7" cy="931.8" r="4.3" fill="#000"/><circle cx="1511.5" cy="930.3" r="4.3" fill="#000"/><circle cx="1494.1" cy="929.2" r="4.3" fill="#000"/><circle cx="1505.7" cy="923.7" r="4.3" fill="#000"/><circle cx="1511.5" cy="917.0" r="4.3" fill="#000"/><circle cx="1505.7" cy="909.4" r="4.3" fill="#000"/><circle cx="1499.9" cy="908.1" r="4.3" fill="#000"/><circle cx="1511.5" cy="903.8" r="4.3" fill="#000"/><circle cx="1517.3" cy="903.6" r="4.3" fill="#000"/><circle cx="1494.1" cy="903.0" r="4.3" fill="#000"/><circle cx="1505.7" cy="897.4" r="4.3" fill="#000"/><circle cx="1499.9" cy="897.0" r="4.3" fill="#000"/><circle cx="1511.5" cy="895.4" r="4.3" fill="#000"/><circle cx="1494.1" cy="895.2" r="4.3" fill="#000"/><circle cx="1517.3" cy="894.9" r="4.3" fill="#000"/><circle cx="1523.1" cy="891.2" r="4.3" fill="#000"/><circle cx="1488.3" cy="890.0" r="4.3" fill="#000"/><circle cx="1505.7" cy="888.2" r="4.3" fill="#000"/><circle cx="1499.9" cy="885.4" r="4.3" fill="#000"/><circle cx="1511.5" cy="884.6" r="4.3" fill="#000"/><circle cx="1494.1" cy="884.6" r="4.3" fill="#000"/><circle cx="1517.3" cy="883.2" r="4.3" fill="#000"/><circle cx="1488.3" cy="882.2" r="4.3" fill="#000"/><circle cx="1523.1" cy="881.4" r="4.3" fill="#000"/><circle cx="1523.1" cy="881.3" r="4.3" fill="#000"/><circle cx="1505.7" cy="878.6" r="4.3" fill="#000"/><circle cx="1511.5" cy="877.9" r="4.3" fill="#000"/><circle cx="1499.9" cy="876.7" r="4.3" fill="#000"/><circle cx="1494.1" cy="875.6" r="4.3" fill="#000"/><circle cx="1517.3" cy="874.1" r="4.3" fill="#000"/><circle cx="1505.7" cy="866.8" r="4.3" fill="#000"/><circle cx="1499.9" cy="864.7" r="4.3" fill="#000"/><circle cx="1511.5" cy="862.9" r="4.3" fill="#000"/><circle cx="1494.1" cy="862.8" r="4.3" fill="#000"/><circle cx="1517.3" cy="861.4" r="4.3" fill="#000"/><circle cx="1488.3" cy="859.5" r="4.3" fill="#000"/><circle cx="1505.7" cy="858.6" r="4.3" fill="#000"/><circle cx="1499.9" cy="852.4" r="4.3" fill="#000"/><circle cx="1511.5" cy="852.3" r="4.3" fill="#000"/><circle cx="1494.1" cy="851.7" r="4.3" fill="#000"/><circle cx="1517.3" cy="851.3" r="4.3" fill="#000"/><circle cx="1505.7" cy="849.0" r="4.3" fill="#000"/><circle cx="1523.1" cy="847.1" r="4.3" fill="#000"/><circle cx="1511.5" cy="843.4" r="4.3" fill="#000"/><circle cx="1505.7" cy="837.7" r="4.3" fill="#000"/><circle cx="1499.9" cy="836.7" r="4.3" fill="#000"/><circle cx="1517.3" cy="836.0" r="4.3" fill="#000"/><circle cx="1505.7" cy="828.6" r="4.3" fill="#000"/><circle cx="1499.9" cy="826.6" r="4.3" fill="#000"/><circle cx="1505.7" cy="820.8" r="4.3" fill="#000"/><circle cx="1511.5" cy="818.9" r="4.3" fill="#000"/><circle cx="1499.9" cy="815.0" r="4.3" fill="#000"/><circle cx="1505.7" cy="797.5" r="4.3" fill="#000"/><circle cx="1505.7" cy="787.8" r="4.3" fill="#000"/><circle cx="1511.5" cy="785.8" r="4.3" fill="#000"/><circle cx="1505.7" cy="764.5" r="4.3" fill="#000"/><circle cx="1499.9" cy="762.5" r="4.3" fill="#000"/><rect x="1570.4" y="1014.7" width="4.6" height="4.6" fill="#000"/><rect x="1570.4" y="968.4" width="4.6" height="4.6" fill="#000"/><rect x="1563.8" y="966.7" width="4.6" height="4.6" fill="#000"/><rect x="1577.0" y="963.1" width="4.6" height="4.6" fill="#000"/><rect x="1583.6" y="963.0" width="4.6" height="4.6" fill="#000"/><rect x="1570.4" y="958.8" width="4.6" height="4.6" fill="#000"/><rect x="1563.8" y="958.5" width="4.6" height="4.6" fill="#000"/><rect x="1577.0" y="956.0" width="4.6" height="4.6" fill="#000"/><rect x="1583.6" y="954.5" width="4.6" height="4.6" fill="#000"/><rect x="1557.2" y="954.3" width="4.6" height="4.6" fill="#000"/><rect x="1570.4" y="951.9" width="4.6" height="4.6" fill="#000"/><rect x="1563.8" y="950.6" width="4.6" height="4.6" fill="#000"/><rect x="1590.2" y="950.2" width="4.6" height="4.6" fill="#000"/><rect x="1550.6" y="950.1" width="4.6" height="4.6" fill="#000"/><rect x="1577.0" y="948.0" width="4.6" height="4.6" fill="#000"/><rect x="1570.4" y="934.3" width="4.6" height="4.6" fill="#000"/><rect x="1563.8" y="933.4" width="4.6" height="4.6" fill="#000"/><rect x="1577.0" y="931.1" width="4.6" height="4.6" fill="#000"/><rect x="1557.2" y="930.2" width="4.6" height="4.6" fill="#000"/><rect x="1583.6" y="930.1" width="4.6" height="4.6" fill="#000"/><rect x="1550.6" y="929.4" width="4.6" height="4.6" fill="#000"/><rect x="1590.2" y="928.2" width="4.6" height="4.6" fill="#000"/><rect x="1570.4" y="925.0" width="4.6" height="4.6" fill="#000"/><rect x="1563.8" y="924.9" width="4.6" height="4.6" fill="#000"/><rect x="1577.0" y="923.8" width="4.6" height="4.6" fill="#000"/><rect x="1583.6" y="922.3" width="4.6" height="4.6" fill="#000"/><rect x="1557.2" y="921.5" width="4.6" height="4.6" fill="#000"/><rect x="1590.2" y="920.7" width="4.6" height="4.6" fill="#000"/><rect x="1550.6" y="918.5" width="4.6" height="4.6" fill="#000"/><rect x="1570.4" y="918.0" width="4.6" height="4.6" fill="#000"/><rect x="1570.4" y="910.8" width="4.6" height="4.6" fill="#000"/><rect x="1577.0" y="908.6" width="4.6" height="4.6" fill="#000"/><rect x="1563.8" y="905.8" width="4.6" height="4.6" fill="#000"/><rect x="1583.6" y="905.5" width="4.6" height="4.6" fill="#000"/><rect x="1557.2" y="904.4" width="4.6" height="4.6" fill="#000"/><rect x="1570.4" y="903.8" width="4.6" height="4.6" fill="#000"/><rect x="1590.2" y="902.9" width="4.6" height="4.6" fill="#000"/><rect x="1563.8" y="897.5" width="4.6" height="4.6" fill="#000"/><rect x="1570.4" y="896.6" width="4.6" height="4.6" fill="#000"/><rect x="1577.0" y="895.2" width="4.6" height="4.6" fill="#000"/><rect x="1583.6" y="893.6" width="4.6" height="4.6" fill="#000"/><rect x="1557.2" y="891.7" width="4.6" height="4.6" fill="#000"/><rect x="1550.6" y="891.1" width="4.6" height="4.6" fill="#000"/><rect x="1570.4" y="886.8" width="4.6" height="4.6" fill="#000"/><rect x="1577.0" y="883.5" width="4.6" height="4.6" fill="#000"/><rect x="1563.8" y="883.3" width="4.6" height="4.6" fill="#000"/><rect x="1583.6" y="882.0" width="4.6" height="4.6" fill="#000"/><rect x="1570.4" y="879.5" width="4.6" height="4.6" fill="#000"/><rect x="1557.2" y="878.9" width="4.6" height="4.6" fill="#000"/><rect x="1577.0" y="876.8" width="4.6" height="4.6" fill="#000"/><rect x="1563.8" y="876.3" width="4.6" height="4.6" fill="#000"/><rect x="1590.2" y="876.1" width="4.6" height="4.6" fill="#000"/><rect x="1550.6" y="875.6" width="4.6" height="4.6" fill="#000"/><rect x="1583.6" y="873.2" width="4.6" height="4.6" fill="#000"/><rect x="1570.4" y="872.4" width="4.6" height="4.6" fill="#000"/><rect x="1583.6" y="872.3" width="4.6" height="4.6" fill="#000"/><rect x="1557.2" y="871.7" width="4.6" height="4.6" fill="#000"/><rect x="1557.2" y="871.6" width="4.6" height="4.6" fill="#000"/><rect x="1577.0" y="871.3" width="4.6" height="4.6" fill="#000"/><rect x="1563.8" y="869.0" width="4.6" height="4.6" fill="#000"/><rect x="1590.2" y="867.1" width="4.6" height="4.6" fill="#000"/><rect x="1570.4" y="865.1" width="4.6" height="4.6" fill="#000"/><rect x="1577.0" y="863.2" width="4.6" height="4.6" fill="#000"/><path d="M1635.2 1018.4L1644.2 1018.4L1639.7 1010.3Z" fill="#000"/><path d="M1639.8 1018.1L1648.8 1018.1L1644.3 1010.0Z" fill="#000"/><path d="M1630.6 1017.9L1639.6 1017.9L1635.1 1009.8Z" fill="#000"/><path d="M1644.4 1017.7L1653.4 1017.7L1648.9 1009.6Z" fill="#000"/><path d="M1626.0 1016.7L1635.0 1016.7L1630.5 1008.6Z" fill="#000"/><path d="M1621.4 1016.4L1630.4 1016.4L1625.9 1008.3Z" fill="#000"/><path d="M1649.0 1016.3L1658.0 1016.3L1653.5 1008.2Z" fill="#000"/><path d="M1616.8 1014.9L1625.8 1014.9L1621.3 1006.8Z" fill="#000"/><path d="M1653.6 1014.3L1662.6 1014.3L1658.1 1006.2Z" fill="#000"/><path d="M1616.8 1013.8L1625.8 1013.8L1621.3 1005.7Z" fill="#000"/><path d="M1621.4 1011.1L1630.4 1011.1L1625.9 1003.0Z" fill="#000"/><path d="M1635.2 1009.9L1644.2 1009.9L1639.7 1001.8Z" fill="#000"/><path d="M1630.6 1009.4L1639.6 1009.4L1635.1 1001.3Z" fill="#000"/><path d="M1639.8 1007.5L1648.8 1007.5L1644.3 999.4Z" fill="#000"/><path d="M1626.0 1007.3L1635.0 1007.3L1630.5 999.2Z" fill="#000"/><path d="M1644.4 1005.9L1653.4 1005.9L1648.9 997.8Z" fill="#000"/><path d="M1649.0 1004.1L1658.0 1004.1L1653.5 996.0Z" fill="#000"/><path d="M1616.8 1003.8L1625.8 1003.8L1621.3 995.7Z" fill="#000"/><path d="M1621.4 1002.7L1630.4 1002.7L1625.9 994.6Z" fill="#000"/><path d="M1653.6 1002.4L1662.6 1002.4L1658.1 994.3Z" fill="#000"/><path d="M1635.2 1002.4L1644.2 1002.4L1639.7 994.3Z" fill="#000"/><path d="M1621.4 1002.4L1630.4 1002.4L1625.9 994.3Z" fill="#000"/><path d="M1630.6 1001.3L1639.6 1001.3L1635.1 993.2Z" fill="#000"/><path d="M1635.2 999.9L1644.2 999.9L1639.7 991.8Z" fill="#000"/><path d="M1639.8 998.1L1648.8 998.1L1644.3 990.0Z" fill="#000"/><path d="M1626.0 996.3L1635.0 996.3L1630.5 988.2Z" fill="#000"/><path d="M1635.2 989.7L1644.2 989.7L1639.7 981.6Z" fill="#000"/><path d="M1630.6 985.9L1639.6 985.9L1635.1 977.8Z" fill="#000"/><path d="M1639.8 982.0L1648.8 982.0L1644.3 973.9Z" fill="#000"/><path d="M1635.2 976.1L1644.2 976.1L1639.7 968.0Z" fill="#000"/><path d="M1639.8 972.3L1648.8 972.3L1644.3 964.2Z" fill="#000"/><path d="M1635.2 966.4L1644.2 966.4L1639.7 958.3Z" fill="#000"/><path d="M1639.8 962.6L1648.8 962.6L1644.3 954.5Z" fill="#000"/><path d="M1635.2 956.7L1644.2 956.7L1639.7 948.6Z" fill="#000"/><path d="M1635.2 947.0L1644.2 947.0L1639.7 938.9Z" fill="#000"/><path d="M1639.8 945.1L1648.8 945.1L1644.3 937.0Z" fill="#000"/><path d="M1630.6 943.1L1639.6 943.1L1635.1 935.0Z" fill="#000"/><path d="M1644.4 941.2L1653.4 941.2L1648.9 933.1Z" fill="#000"/><path d="M1635.2 937.3L1644.2 937.3L1639.7 929.2Z" fill="#000"/><path d="M1635.2 921.8L1644.2 921.8L1639.7 913.7Z" fill="#000"/><path d="M1630.6 919.8L1639.6 919.8L1635.1 911.7Z" fill="#000"/><path d="M1639.8 917.9L1648.8 917.9L1644.3 909.8Z" fill="#000"/><path d="M1635.2 912.0L1644.2 912.0L1639.7 903.9Z" fill="#000"/><path d="M1639.8 908.2L1648.8 908.2L1644.3 900.1Z" fill="#000"/><path d="M1635.2 890.7L1644.2 890.7L1639.7 882.6Z" fill="#000"/><path d="M1639.8 886.8L1648.8 886.8L1644.3 878.7Z" fill="#000"/><path d="M1635.2 877.1L1644.2 877.1L1639.7 869.0Z" fill="#000"/><path d="M1630.6 875.1L1639.6 875.1L1635.1 867.0Z" fill="#000"/><path d="M1639.8 871.3L1648.8 871.3L1644.3 863.2Z" fill="#000"/><path d="M1619.2 1020.8L1628.2 1020.8L1623.7 1012.7Z" fill="#000"/><path d="M1622.8 1020.2L1631.8 1020.2L1627.3 1012.1Z" fill="#000"/><path d="M1626.3 1020.8L1635.3 1020.8L1630.8 1012.7Z" fill="#000"/><path d="M1629.9 1020.2L1638.9 1020.2L1634.4 1012.1Z" fill="#000"/><path d="M1633.4 1020.8L1642.4 1020.8L1637.9 1012.7Z" fill="#000"/><path d="M1637.0 1020.2L1646.0 1020.2L1641.5 1012.1Z" fill="#000"/><path d="M1640.5 1020.8L1649.5 1020.8L1645.0 1012.7Z" fill="#000"/><path d="M1644.1 1020.2L1653.1 1020.2L1648.6 1012.1Z" fill="#000"/><path d="M1647.6 1020.8L1656.6 1020.8L1652.1 1012.7Z" fill="#000"/><path d="M1651.2 1020.2L1660.2 1020.2L1655.7 1012.1Z" fill="#000"/><path d="M1702.5 957.0L1710.9 957.0L1706.7 964.6Z" fill="#000"/><path d="M1702.5 944.4L1710.9 944.4L1706.7 951.9Z" fill="#000"/><path d="M1696.7 944.1L1705.1 944.1L1700.9 951.7Z" fill="#000"/><path d="M1708.3 940.7L1716.7 940.7L1712.5 948.2Z" fill="#000"/><path d="M1690.9 940.3L1699.3 940.3L1695.1 947.9Z" fill="#000"/><path d="M1714.1 940.2L1722.5 940.2L1718.3 947.8Z" fill="#000"/><path d="M1702.5 935.4L1710.9 935.4L1706.7 942.9Z" fill="#000"/><path d="M1696.7 934.8L1705.1 934.8L1700.9 942.4Z" fill="#000"/><path d="M1685.1 933.7L1693.5 933.7L1689.3 941.3Z" fill="#000"/><path d="M1708.3 932.0L1716.7 932.0L1712.5 939.6Z" fill="#000"/><path d="M1690.9 930.1L1699.3 930.1L1695.1 937.7Z" fill="#000"/><path d="M1702.5 924.2L1710.9 924.2L1706.7 931.8Z" fill="#000"/><path d="M1708.3 924.2L1716.7 924.2L1712.5 931.8Z" fill="#000"/><path d="M1696.7 924.0L1705.1 924.0L1700.9 931.6Z" fill="#000"/><path d="M1714.1 920.7L1722.5 920.7L1718.3 928.2Z" fill="#000"/><path d="M1702.5 915.8L1710.9 915.8L1706.7 923.4Z" fill="#000"/><path d="M1696.7 915.7L1705.1 915.7L1700.9 923.3Z" fill="#000"/><path d="M1708.3 909.2L1716.7 909.2L1712.5 916.8Z" fill="#000"/><path d="M1702.5 907.3L1710.9 907.3L1706.7 914.8Z" fill="#000"/><path d="M1696.7 906.1L1705.1 906.1L1700.9 913.7Z" fill="#000"/><path d="M1714.1 905.5L1722.5 905.5L1718.3 913.0Z" fill="#000"/><path d="M1690.9 905.1L1699.3 905.1L1695.1 912.7Z" fill="#000"/><path d="M1719.9 904.9L1728.3 904.9L1724.1 912.5Z" fill="#000"/><path d="M1685.1 904.0L1693.5 904.0L1689.3 911.6Z" fill="#000"/><path d="M1725.7 903.0L1734.1 903.0L1729.9 910.5Z" fill="#000"/><path d="M1679.3 902.5L1687.7 902.5L1683.5 910.1Z" fill="#000"/><path d="M1708.3 900.6L1716.7 900.6L1712.5 908.2Z" fill="#000"/><path d="M1702.5 899.0L1710.9 899.0L1706.7 906.6Z" fill="#000"/><path d="M1696.7 896.1L1705.1 896.1L1700.9 903.6Z" fill="#000"/><path d="M1690.9 895.9L1699.3 895.9L1695.1 903.5Z" fill="#000"/><path d="M1714.1 895.0L1722.5 895.0L1718.3 902.6Z" fill="#000"/><path d="M1719.9 893.6L1728.3 893.6L1724.1 901.2Z" fill="#000"/><path d="M1708.3 893.0L1716.7 893.0L1712.5 900.5Z" fill="#000"/><path d="M1685.1 892.2L1693.5 892.2L1689.3 899.8Z" fill="#000"/><path d="M1725.7 892.1L1734.1 892.1L1729.9 899.7Z" fill="#000"/><path d="M1702.5 889.6L1710.9 889.6L1706.7 897.2Z" fill="#000"/><path d="M1696.7 886.2L1705.1 886.2L1700.9 893.7Z" fill="#000"/><path d="M1708.3 885.4L1716.7 885.4L1712.5 893.0Z" fill="#000"/><path d="M1714.1 884.9L1722.5 884.9L1718.3 892.4Z" fill="#000"/><path d="M1702.5 881.0L1710.9 881.0L1706.7 888.5Z" fill="#000"/><path d="M1690.9 879.0L1699.3 879.0L1695.1 886.5Z" fill="#000"/><path d="M1696.7 876.6L1705.1 876.6L1700.9 884.1Z" fill="#000"/><path d="M1708.3 875.9L1716.7 875.9L1712.5 883.5Z" fill="#000"/><path d="M1714.1 874.8L1722.5 874.8L1718.3 882.4Z" fill="#000"/><path d="M1702.5 871.7L1710.9 871.7L1706.7 879.3Z" fill="#000"/><path d="M1702.5 861.9L1710.9 861.9L1706.7 869.5Z" fill="#000"/><path d="M1702.5 852.2L1710.9 852.2L1706.7 859.8Z" fill="#000"/><path d="M1708.3 850.3L1716.7 850.3L1712.5 857.8Z" fill="#000"/><path d="M1702.5 842.5L1710.9 842.5L1706.7 850.0Z" fill="#000"/><path d="M1696.7 840.5L1705.1 840.5L1700.9 848.1Z" fill="#000"/><path d="M1708.3 838.6L1716.7 838.6L1712.5 846.2Z" fill="#000"/><path d="M1690.9 838.6L1699.3 838.6L1695.1 846.2Z" fill="#000"/><path d="M1714.1 836.7L1722.5 836.7L1718.3 844.2Z" fill="#000"/><path d="M1702.5 825.0L1710.9 825.0L1706.7 832.6Z" fill="#000"/><path d="M1696.7 823.1L1705.1 823.1L1700.9 830.6Z" fill="#000"/><path d="M1702.5 815.3L1710.9 815.3L1706.7 822.9Z" fill="#000"/><path d="M1696.7 813.4L1705.1 813.4L1700.9 820.9Z" fill="#000"/><path d="M1702.5 795.9L1710.9 795.9L1706.7 803.4Z" fill="#000"/><path d="M1696.7 793.9L1705.1 793.9L1700.9 801.5Z" fill="#000"/><path d="M1708.3 790.0L1716.7 790.0L1712.5 797.6Z" fill="#000"/><path d="M1702.5 786.2L1710.9 786.2L1706.7 793.7Z" fill="#000"/><path d="M1769.4 1010.8L1773.7 1006.5L1778.0 1010.8L1773.7 1015.1Z" fill="#000"/><path d="M1774.4 1010.8L1778.7 1006.5L1783.0 1010.8L1778.7 1015.1Z" fill="#000"/><path d="M1769.4 1001.5L1773.7 997.2L1778.0 1001.5L1773.7 1005.8Z" fill="#000"/><path d="M1774.4 997.6L1778.7 993.3L1783.0 997.6L1778.7 1001.9Z" fill="#000"/><path d="M1769.4 974.3L1773.7 970.0L1778.0 974.3L1773.7 978.6Z" fill="#000"/><path d="M1769.4 960.7L1773.7 956.4L1778.0 960.7L1773.7 965.0Z" fill="#000"/><path d="M1764.4 958.7L1768.7 954.4L1773.0 958.7L1768.7 963.0Z" fill="#000"/><path d="M1769.4 951.0L1773.7 946.7L1778.0 951.0L1773.7 955.3Z" fill="#000"/><path d="M1752.4 1017.0L1756.7 1012.7L1761.0 1017.0L1756.7 1021.3Z" fill="#000"/><path d="M1756.7 1016.4L1761.0 1012.1L1765.2 1016.4L1761.0 1020.7Z" fill="#000"/><path d="M1760.9 1017.0L1765.2 1012.7L1769.5 1017.0L1765.2 1021.3Z" fill="#000"/><path d="M1765.2 1016.4L1769.5 1012.1L1773.8 1016.4L1769.5 1020.7Z" fill="#000"/><path d="M1769.4 1017.0L1773.7 1012.7L1778.0 1017.0L1773.7 1021.3Z" fill="#000"/><path d="M1773.7 1016.4L1778.0 1012.1L1782.2 1016.4L1778.0 1020.7Z" fill="#000"/><path d="M1777.9 1017.0L1782.2 1012.7L1786.5 1017.0L1782.2 1021.3Z" fill="#000"/><path d="M1782.2 1016.4L1786.5 1012.1L1790.8 1016.4L1786.5 1020.7Z" fill="#000"/><path d="M1786.4 1017.0L1790.7 1012.7L1795.0 1017.0L1790.7 1021.3Z" fill="#000"/><circle cx="1840.7" cy="1017.0" r="4.2" fill="none" stroke="#a5a7aa" stroke-width="2.6"/><circle cx="1834.7" cy="1017.0" r="4.2" fill="none" stroke="#a5a7aa" stroke-width="2.6"/><circle cx="1846.7" cy="1015.1" r="4.2" fill="none" stroke="#a5a7aa" stroke-width="2.6"/><circle cx="1840.7" cy="1007.3" r="4.2" fill="none" stroke="#a5a7aa" stroke-width="2.6"/><circle cx="1846.7" cy="1005.3" r="4.2" fill="none" stroke="#a5a7aa" stroke-width="2.6"/><circle cx="1834.7" cy="1005.3" r="4.2" fill="none" stroke="#a5a7aa" stroke-width="2.6"/><circle cx="1828.7" cy="1003.4" r="4.2" fill="none" stroke="#a5a7aa" stroke-width="2.6"/><circle cx="1852.7" cy="1001.5" r="4.2" fill="none" stroke="#a5a7aa" stroke-width="2.6"/><circle cx="1858.7" cy="1001.5" r="4.2" fill="none" stroke="#a5a7aa" stroke-width="2.6"/><circle cx="1840.7" cy="999.5" r="4.2" fill="none" stroke="#a5a7aa" stroke-width="2.6"/><circle cx="1846.7" cy="997.6" r="4.2" fill="none" stroke="#a5a7aa" stroke-width="2.6"/><circle cx="1840.7" cy="991.7" r="4.2" fill="none" stroke="#a5a7aa" stroke-width="2.6"/><circle cx="1846.7" cy="989.8" r="4.2" fill="none" stroke="#a5a7aa" stroke-width="2.6"/><circle cx="1840.7" cy="984.0" r="4.2" fill="none" stroke="#a5a7aa" stroke-width="2.6"/><circle cx="1840.7" cy="969.6" r="4.2" fill="none" stroke="#a5a7aa" stroke-width="2.6"/><rect x="1903.9" y="999.6" width="7.6" height="7.6" fill="none" stroke="#8a8a8a" stroke-width="2.6"/><rect x="1903.9" y="989.9" width="7.6" height="7.6" fill="none" stroke="#8a8a8a" stroke-width="2.6"/><rect x="1900.1" y="987.9" width="7.6" height="7.6" fill="none" stroke="#8a8a8a" stroke-width="2.6"/><rect x="1907.7" y="986.0" width="7.6" height="7.6" fill="none" stroke="#8a8a8a" stroke-width="2.6"/><rect x="1896.3" y="984.1" width="7.6" height="7.6" fill="none" stroke="#8a8a8a" stroke-width="2.6"/><rect x="1903.9" y="978.2" width="7.6" height="7.6" fill="none" stroke="#8a8a8a" stroke-width="2.6"/><rect x="1907.7" y="976.3" width="7.6" height="7.6" fill="none" stroke="#8a8a8a" stroke-width="2.6"/><rect x="1900.1" y="974.4" width="7.6" height="7.6" fill="none" stroke="#8a8a8a" stroke-width="2.6"/><rect x="1896.3" y="972.4" width="7.6" height="7.6" fill="none" stroke="#8a8a8a" stroke-width="2.6"/><rect x="1903.9" y="970.5" width="7.6" height="7.6" fill="none" stroke="#8a8a8a" stroke-width="2.6"/><rect x="1907.7" y="968.5" width="7.6" height="7.6" fill="none" stroke="#8a8a8a" stroke-width="2.6"/><rect x="1903.9" y="950.3" width="7.6" height="7.6" fill="none" stroke="#8a8a8a" stroke-width="2.6"/><rect x="1884.9" y="1013.2" width="7.6" height="7.6" fill="none" stroke="#8a8a8a" stroke-width="2.6"/><rect x="1886.4" y="1012.6" width="7.6" height="7.6" fill="none" stroke="#8a8a8a" stroke-width="2.6"/><rect x="1887.9" y="1013.2" width="7.6" height="7.6" fill="none" stroke="#8a8a8a" stroke-width="2.6"/><rect x="1889.5" y="1012.6" width="7.6" height="7.6" fill="none" stroke="#8a8a8a" stroke-width="2.6"/><rect x="1891.0" y="1013.2" width="7.6" height="7.6" fill="none" stroke="#8a8a8a" stroke-width="2.6"/><rect x="1892.5" y="1012.6" width="7.6" height="7.6" fill="none" stroke="#8a8a8a" stroke-width="2.6"/><rect x="1894.0" y="1013.2" width="7.6" height="7.6" fill="none" stroke="#8a8a8a" stroke-width="2.6"/><rect x="1895.5" y="1012.6" width="7.6" height="7.6" fill="none" stroke="#8a8a8a" stroke-width="2.6"/><rect x="1897.1" y="1013.2" width="7.6" height="7.6" fill="none" stroke="#8a8a8a" stroke-width="2.6"/><rect x="1898.6" y="1012.6" width="7.6" height="7.6" fill="none" stroke="#8a8a8a" stroke-width="2.6"/><rect x="1900.1" y="1013.2" width="7.6" height="7.6" fill="none" stroke="#8a8a8a" stroke-width="2.6"/><rect x="1901.6" y="1012.6" width="7.6" height="7.6" fill="none" stroke="#8a8a8a" stroke-width="2.6"/><rect x="1903.1" y="1013.2" width="7.6" height="7.6" fill="none" stroke="#8a8a8a" stroke-width="2.6"/><rect x="1904.7" y="1012.6" width="7.6" height="7.6" fill="none" stroke="#8a8a8a" stroke-width="2.6"/><rect x="1906.2" y="1013.2" width="7.6" height="7.6" fill="none" stroke="#8a8a8a" stroke-width="2.6"/><rect x="1907.7" y="1012.6" width="7.6" height="7.6" fill="none" stroke="#8a8a8a" stroke-width="2.6"/><rect x="1909.2" y="1013.2" width="7.6" height="7.6" fill="none" stroke="#8a8a8a" stroke-width="2.6"/><rect x="1910.7" y="1012.6" width="7.6" height="7.6" fill="none" stroke="#8a8a8a" stroke-width="2.6"/><rect x="1912.3" y="1013.2" width="7.6" height="7.6" fill="none" stroke="#8a8a8a" stroke-width="2.6"/><rect x="1913.8" y="1012.6" width="7.6" height="7.6" fill="none" stroke="#8a8a8a" stroke-width="2.6"/><rect x="1915.3" y="1013.2" width="7.6" height="7.6" fill="none" stroke="#8a8a8a" stroke-width="2.6"/><rect x="1916.8" y="1012.6" width="7.6" height="7.6" fill="none" stroke="#8a8a8a" stroke-width="2.6"/><rect x="1918.3" y="1013.2" width="7.6" height="7.6" fill="none" stroke="#8a8a8a" stroke-width="2.6"/><rect x="1919.9" y="1012.6" width="7.6" height="7.6" fill="none" stroke="#8a8a8a" stroke-width="2.6"/><rect x="1921.4" y="1013.2" width="7.6" height="7.6" fill="none" stroke="#8a8a8a" stroke-width="2.6"/><rect x="1922.9" y="1012.6" width="7.6" height="7.6" fill="none" stroke="#8a8a8a" stroke-width="2.6"/><path d="M1970.7 1002.9L1978.7 1002.9L1974.7 995.7Z" fill="none" stroke="#a5a7aa" stroke-width="2.6"/><path d="M1966.9 1001.0L1974.9 1001.0L1970.9 993.8Z" fill="none" stroke="#a5a7aa" stroke-width="2.6"/><path d="M1974.5 999.0L1982.5 999.0L1978.5 991.8Z" fill="none" stroke="#a5a7aa" stroke-width="2.6"/><path d="M1963.1 997.1L1971.1 997.1L1967.1 989.9Z" fill="none" stroke="#a5a7aa" stroke-width="2.6"/><path d="M1970.7 995.1L1978.7 995.1L1974.7 987.9Z" fill="none" stroke="#a5a7aa" stroke-width="2.6"/><path d="M1966.9 993.2L1974.9 993.2L1970.9 986.0Z" fill="none" stroke="#a5a7aa" stroke-width="2.6"/><path d="M1974.5 991.3L1982.5 991.3L1978.5 984.1Z" fill="none" stroke="#a5a7aa" stroke-width="2.6"/><path d="M1963.1 989.3L1971.1 989.3L1967.1 982.1Z" fill="none" stroke="#a5a7aa" stroke-width="2.6"/><path d="M1978.3 988.5L1986.3 988.5L1982.3 981.3Z" fill="none" stroke="#a5a7aa" stroke-width="2.6"/><path d="M1970.7 987.4L1978.7 987.4L1974.7 980.2Z" fill="none" stroke="#a5a7aa" stroke-width="2.6"/><path d="M1966.9 985.4L1974.9 985.4L1970.9 978.2Z" fill="none" stroke="#a5a7aa" stroke-width="2.6"/><path d="M1952.2 1020.4L1960.2 1020.4L1956.2 1013.2Z" fill="none" stroke="#a5a7aa" stroke-width="2.6"/><path d="M1953.7 1019.8L1961.7 1019.8L1957.7 1012.6Z" fill="none" stroke="#a5a7aa" stroke-width="2.6"/><path d="M1955.2 1020.4L1963.2 1020.4L1959.2 1013.2Z" fill="none" stroke="#a5a7aa" stroke-width="2.6"/><path d="M1956.6 1019.8L1964.6 1019.8L1960.6 1012.6Z" fill="none" stroke="#a5a7aa" stroke-width="2.6"/><path d="M1958.1 1020.4L1966.1 1020.4L1962.1 1013.2Z" fill="none" stroke="#a5a7aa" stroke-width="2.6"/><path d="M1959.6 1019.8L1967.6 1019.8L1963.6 1012.6Z" fill="none" stroke="#a5a7aa" stroke-width="2.6"/><path d="M1961.1 1020.4L1969.1 1020.4L1965.1 1013.2Z" fill="none" stroke="#a5a7aa" stroke-width="2.6"/><path d="M1962.6 1019.8L1970.6 1019.8L1966.6 1012.6Z" fill="none" stroke="#a5a7aa" stroke-width="2.6"/><path d="M1964.0 1020.4L1972.0 1020.4L1968.0 1013.2Z" fill="none" stroke="#a5a7aa" stroke-width="2.6"/><path d="M1965.5 1019.8L1973.5 1019.8L1969.5 1012.6Z" fill="none" stroke="#a5a7aa" stroke-width="2.6"/><path d="M1967.0 1020.4L1975.0 1020.4L1971.0 1013.2Z" fill="none" stroke="#a5a7aa" stroke-width="2.6"/><path d="M1968.5 1019.8L1976.5 1019.8L1972.5 1012.6Z" fill="none" stroke="#a5a7aa" stroke-width="2.6"/><path d="M1970.0 1020.4L1978.0 1020.4L1974.0 1013.2Z" fill="none" stroke="#a5a7aa" stroke-width="2.6"/><path d="M1971.4 1019.8L1979.4 1019.8L1975.4 1012.6Z" fill="none" stroke="#a5a7aa" stroke-width="2.6"/><path d="M1972.9 1020.4L1980.9 1020.4L1976.9 1013.2Z" fill="none" stroke="#a5a7aa" stroke-width="2.6"/><path d="M1974.4 1019.8L1982.4 1019.8L1978.4 1012.6Z" fill="none" stroke="#a5a7aa" stroke-width="2.6"/><path d="M1975.9 1020.4L1983.9 1020.4L1979.9 1013.2Z" fill="none" stroke="#a5a7aa" stroke-width="2.6"/><path d="M1977.4 1019.8L1985.4 1019.8L1981.4 1012.6Z" fill="none" stroke="#a5a7aa" stroke-width="2.6"/><path d="M1978.8 1020.4L1986.8 1020.4L1982.8 1013.2Z" fill="none" stroke="#a5a7aa" stroke-width="2.6"/><path d="M1980.3 1019.8L1988.3 1019.8L1984.3 1012.6Z" fill="none" stroke="#a5a7aa" stroke-width="2.6"/><path d="M1981.8 1020.4L1989.8 1020.4L1985.8 1013.2Z" fill="none" stroke="#a5a7aa" stroke-width="2.6"/><path d="M1983.3 1019.8L1991.3 1019.8L1987.3 1012.6Z" fill="none" stroke="#a5a7aa" stroke-width="2.6"/><path d="M1984.8 1020.4L1992.8 1020.4L1988.8 1013.2Z" fill="none" stroke="#a5a7aa" stroke-width="2.6"/><path d="M1986.2 1019.8L1994.2 1019.8L1990.2 1012.6Z" fill="none" stroke="#a5a7aa" stroke-width="2.6"/><path d="M1987.7 1020.4L1995.7 1020.4L1991.7 1013.2Z" fill="none" stroke="#a5a7aa" stroke-width="2.6"/><path d="M1989.2 1019.8L1997.2 1019.8L1993.2 1012.6Z" fill="none" stroke="#a5a7aa" stroke-width="2.6"/><line x1="1482.7" y1="875.2" x2="1528.7" y2="875.2" stroke="#000" stroke-width="2.4" stroke-linecap="butt" /><line x1="1494.2" y1="870.1" x2="1517.2" y2="870.1" stroke="#000" stroke-width="1.8" stroke-linecap="butt" /><line x1="1494.2" y1="880.2" x2="1517.2" y2="880.2" stroke="#000" stroke-width="1.8" stroke-linecap="butt" /><line x1="1505.7" y1="870.1" x2="1505.7" y2="880.2" stroke="#000" stroke-width="1.8" stroke-linecap="butt" /><line x1="1548.7" y1="919.9" x2="1596.7" y2="919.9" stroke="#000" stroke-width="2.4" stroke-linecap="butt" /><line x1="1560.7" y1="916.8" x2="1584.7" y2="916.8" stroke="#000" stroke-width="2.4" stroke-linecap="butt" /><line x1="1560.7" y1="923.0" x2="1584.7" y2="923.0" stroke="#000" stroke-width="2.4" stroke-linecap="butt" /><line x1="1572.7" y1="916.8" x2="1572.7" y2="923.0" stroke="#000" stroke-width="2.4" stroke-linecap="butt" /><line x1="1616.7" y1="970.4" x2="1662.7" y2="970.4" stroke="#000" stroke-width="2.4" stroke-linecap="butt" /><line x1="1628.2" y1="964.9" x2="1651.2" y2="964.9" stroke="#000" stroke-width="1.8" stroke-linecap="butt" /><line x1="1628.2" y1="975.8" x2="1651.2" y2="975.8" stroke="#000" stroke-width="1.8" stroke-linecap="butt" /><line x1="1639.7" y1="964.9" x2="1639.7" y2="975.8" stroke="#000" stroke-width="1.8" stroke-linecap="butt" /><line x1="1683.7" y1="890.7" x2="1729.7" y2="890.7" stroke="#000" stroke-width="2.4" stroke-linecap="butt" /><line x1="1695.2" y1="885.7" x2="1718.2" y2="885.7" stroke="#000" stroke-width="1.8" stroke-linecap="butt" /><line x1="1695.2" y1="895.8" x2="1718.2" y2="895.8" stroke="#000" stroke-width="1.8" stroke-linecap="butt" /><line x1="1706.7" y1="885.7" x2="1706.7" y2="895.8" stroke="#000" stroke-width="1.8" stroke-linecap="butt" /><line x1="1750.7" y1="1001.5" x2="1796.7" y2="1001.5" stroke="#000" stroke-width="2.4" stroke-linecap="butt" /><line x1="1762.2" y1="996.0" x2="1785.2" y2="996.0" stroke="#000" stroke-width="1.8" stroke-linecap="butt" /><line x1="1762.2" y1="1006.9" x2="1785.2" y2="1006.9" stroke="#000" stroke-width="1.8" stroke-linecap="butt" /><line x1="1773.7" y1="996.0" x2="1773.7" y2="1006.9" stroke="#000" stroke-width="1.8" stroke-linecap="butt" /><line x1="1817.7" y1="999.5" x2="1863.7" y2="999.5" stroke="#000" stroke-width="2.4" stroke-linecap="butt" /><line x1="1829.2" y1="996.0" x2="1852.2" y2="996.0" stroke="#000" stroke-width="2.4" stroke-linecap="butt" /><line x1="1829.2" y1="1003.0" x2="1852.2" y2="1003.0" stroke="#000" stroke-width="2.4" stroke-linecap="butt" /><line x1="1840.7" y1="996.0" x2="1840.7" y2="1003.0" stroke="#000" stroke-width="2.4" stroke-linecap="butt" /><line x1="1884.7" y1="1004.2" x2="1930.7" y2="1004.2" stroke="#000" stroke-width="2.4" stroke-linecap="butt" /><line x1="1896.2" y1="1000.7" x2="1919.2" y2="1000.7" stroke="#000" stroke-width="2.4" stroke-linecap="butt" /><line x1="1896.2" y1="1007.7" x2="1919.2" y2="1007.7" stroke="#000" stroke-width="2.4" stroke-linecap="butt" /><line x1="1907.7" y1="1000.7" x2="1907.7" y2="1007.7" stroke="#000" stroke-width="2.4" stroke-linecap="butt" /><line x1="1951.7" y1="1005.3" x2="1997.7" y2="1005.3" stroke="#000" stroke-width="2.4" stroke-linecap="butt" /><line x1="1963.2" y1="1003.0" x2="1986.2" y2="1003.0" stroke="#000" stroke-width="2.4" stroke-linecap="butt" /><line x1="1963.2" y1="1007.7" x2="1986.2" y2="1007.7" stroke="#000" stroke-width="2.4" stroke-linecap="butt" /><line x1="1974.7" y1="1003.0" x2="1974.7" y2="1007.7" stroke="#000" stroke-width="2.4" stroke-linecap="butt" /><line x1="1473.6" y1="704.7" x2="1473.6" y2="1096.2" stroke="#000" stroke-width="3.0" stroke-linecap="butt" /><line x1="1465.6" y1="706.2" x2="1473.6" y2="706.2" stroke="#000" stroke-width="2.6" stroke-linecap="butt" /><line x1="1468.6" y1="714.0" x2="1473.6" y2="714.0" stroke="#000" stroke-width="2.0" stroke-linecap="butt" /><line x1="1468.6" y1="721.7" x2="1473.6" y2="721.7" stroke="#000" stroke-width="2.0" stroke-linecap="butt" /><line x1="1468.6" y1="729.5" x2="1473.6" y2="729.5" stroke="#000" stroke-width="2.0" stroke-linecap="butt" /><line x1="1468.6" y1="737.3" x2="1473.6" y2="737.3" stroke="#000" stroke-width="2.0" stroke-linecap="butt" /><line x1="1468.6" y1="745.0" x2="1473.6" y2="745.0" stroke="#000" stroke-width="2.0" stroke-linecap="butt" /><line x1="1468.6" y1="752.8" x2="1473.6" y2="752.8" stroke="#000" stroke-width="2.0" stroke-linecap="butt" /><line x1="1468.6" y1="760.6" x2="1473.6" y2="760.6" stroke="#000" stroke-width="2.0" stroke-linecap="butt" /><line x1="1468.6" y1="768.4" x2="1473.6" y2="768.4" stroke="#000" stroke-width="2.0" stroke-linecap="butt" /><line x1="1468.6" y1="776.1" x2="1473.6" y2="776.1" stroke="#000" stroke-width="2.0" stroke-linecap="butt" /><line x1="1465.6" y1="783.9" x2="1473.6" y2="783.9" stroke="#000" stroke-width="2.6" stroke-linecap="butt" /><line x1="1468.6" y1="791.7" x2="1473.6" y2="791.7" stroke="#000" stroke-width="2.0" stroke-linecap="butt" /><line x1="1468.6" y1="799.4" x2="1473.6" y2="799.4" stroke="#000" stroke-width="2.0" stroke-linecap="butt" /><line x1="1468.6" y1="807.2" x2="1473.6" y2="807.2" stroke="#000" stroke-width="2.0" stroke-linecap="butt" /><line x1="1468.6" y1="815.0" x2="1473.6" y2="815.0" stroke="#000" stroke-width="2.0" stroke-linecap="butt" /><line x1="1468.6" y1="822.8" x2="1473.6" y2="822.8" stroke="#000" stroke-width="2.0" stroke-linecap="butt" /><line x1="1468.6" y1="830.5" x2="1473.6" y2="830.5" stroke="#000" stroke-width="2.0" stroke-linecap="butt" /><line x1="1468.6" y1="838.3" x2="1473.6" y2="838.3" stroke="#000" stroke-width="2.0" stroke-linecap="butt" /><line x1="1468.6" y1="846.1" x2="1473.6" y2="846.1" stroke="#000" stroke-width="2.0" stroke-linecap="butt" /><line x1="1468.6" y1="853.8" x2="1473.6" y2="853.8" stroke="#000" stroke-width="2.0" stroke-linecap="butt" /><line x1="1465.6" y1="861.6" x2="1473.6" y2="861.6" stroke="#000" stroke-width="2.6" stroke-linecap="butt" /><line x1="1468.6" y1="869.4" x2="1473.6" y2="869.4" stroke="#000" stroke-width="2.0" stroke-linecap="butt" /><line x1="1468.6" y1="877.1" x2="1473.6" y2="877.1" stroke="#000" stroke-width="2.0" stroke-linecap="butt" /><line x1="1468.6" y1="884.9" x2="1473.6" y2="884.9" stroke="#000" stroke-width="2.0" stroke-linecap="butt" /><line x1="1468.6" y1="892.7" x2="1473.6" y2="892.7" stroke="#000" stroke-width="2.0" stroke-linecap="butt" /><line x1="1468.6" y1="900.5" x2="1473.6" y2="900.5" stroke="#000" stroke-width="2.0" stroke-linecap="butt" /><line x1="1468.6" y1="908.2" x2="1473.6" y2="908.2" stroke="#000" stroke-width="2.0" stroke-linecap="butt" /><line x1="1468.6" y1="916.0" x2="1473.6" y2="916.0" stroke="#000" stroke-width="2.0" stroke-linecap="butt" /><line x1="1468.6" y1="923.8" x2="1473.6" y2="923.8" stroke="#000" stroke-width="2.0" stroke-linecap="butt" /><line x1="1468.6" y1="931.5" x2="1473.6" y2="931.5" stroke="#000" stroke-width="2.0" stroke-linecap="butt" /><line x1="1465.6" y1="939.3" x2="1473.6" y2="939.3" stroke="#000" stroke-width="2.6" stroke-linecap="butt" /><line x1="1468.6" y1="947.1" x2="1473.6" y2="947.1" stroke="#000" stroke-width="2.0" stroke-linecap="butt" /><line x1="1468.6" y1="954.8" x2="1473.6" y2="954.8" stroke="#000" stroke-width="2.0" stroke-linecap="butt" /><line x1="1468.6" y1="962.6" x2="1473.6" y2="962.6" stroke="#000" stroke-width="2.0" stroke-linecap="butt" /><line x1="1468.6" y1="970.4" x2="1473.6" y2="970.4" stroke="#000" stroke-width="2.0" stroke-linecap="butt" /><line x1="1468.6" y1="978.1" x2="1473.6" y2="978.1" stroke="#000" stroke-width="2.0" stroke-linecap="butt" /><line x1="1468.6" y1="985.9" x2="1473.6" y2="985.9" stroke="#000" stroke-width="2.0" stroke-linecap="butt" /><line x1="1468.6" y1="993.7" x2="1473.6" y2="993.7" stroke="#000" stroke-width="2.0" stroke-linecap="butt" /><line x1="1468.6" y1="1001.5" x2="1473.6" y2="1001.5" stroke="#000" stroke-width="2.0" stroke-linecap="butt" /><line x1="1468.6" y1="1009.2" x2="1473.6" y2="1009.2" stroke="#000" stroke-width="2.0" stroke-linecap="butt" /><line x1="1465.6" y1="1017.0" x2="1473.6" y2="1017.0" stroke="#000" stroke-width="2.6" stroke-linecap="butt" /><line x1="1468.6" y1="1024.8" x2="1473.6" y2="1024.8" stroke="#000" stroke-width="2.0" stroke-linecap="butt" /><line x1="1468.6" y1="1032.5" x2="1473.6" y2="1032.5" stroke="#000" stroke-width="2.0" stroke-linecap="butt" /><line x1="1468.6" y1="1040.3" x2="1473.6" y2="1040.3" stroke="#000" stroke-width="2.0" stroke-linecap="butt" /><line x1="1468.6" y1="1048.1" x2="1473.6" y2="1048.1" stroke="#000" stroke-width="2.0" stroke-linecap="butt" /><line x1="1468.6" y1="1055.8" x2="1473.6" y2="1055.8" stroke="#000" stroke-width="2.0" stroke-linecap="butt" /><line x1="1468.6" y1="1063.6" x2="1473.6" y2="1063.6" stroke="#000" stroke-width="2.0" stroke-linecap="butt" /><line x1="1468.6" y1="1071.4" x2="1473.6" y2="1071.4" stroke="#000" stroke-width="2.0" stroke-linecap="butt" /><line x1="1468.6" y1="1079.2" x2="1473.6" y2="1079.2" stroke="#000" stroke-width="2.0" stroke-linecap="butt" /><line x1="1468.6" y1="1086.9" x2="1473.6" y2="1086.9" stroke="#000" stroke-width="2.0" stroke-linecap="butt" /><line x1="1465.6" y1="1094.7" x2="1473.6" y2="1094.7" stroke="#000" stroke-width="2.6" stroke-linecap="butt" /><text x="1464.6" y="716.6" font-family="Liberation Sans" font-size="29" font-weight="bold" fill="#000" text-anchor="end" >0.8</text><text x="1464.6" y="794.3" font-family="Liberation Sans" font-size="29" font-weight="bold" fill="#000" text-anchor="end" >0.6</text><text x="1464.6" y="872.0" font-family="Liberation Sans" font-size="29" font-weight="bold" fill="#000" text-anchor="end" >0.4</text><text x="1464.6" y="949.7" font-family="Liberation Sans" font-size="29" font-weight="bold" fill="#000" text-anchor="end" >0.2</text><text x="1464.6" y="1027.4" font-family="Liberation Sans" font-size="29" font-weight="bold" fill="#000" text-anchor="end" >0.0</text><text x="1464.6" y="1105.1" font-family="Liberation Sans" font-size="29" font-weight="bold" fill="#000" text-anchor="end" >-0.2</text><line x1="1472.1" y1="1094.7" x2="2011.0" y2="1094.7" stroke="#000" stroke-width="3.4" stroke-linecap="butt" /><line x1="1505.7" y1="1094.7" x2="1505.7" y2="1103.2" stroke="#000" stroke-width="2.2" stroke-linecap="butt" /><line x1="1572.7" y1="1094.7" x2="1572.7" y2="1103.2" stroke="#000" stroke-width="2.2" stroke-linecap="butt" /><line x1="1639.7" y1="1094.7" x2="1639.7" y2="1103.2" stroke="#000" stroke-width="2.2" stroke-linecap="butt" /><line x1="1706.7" y1="1094.7" x2="1706.7" y2="1103.2" stroke="#000" stroke-width="2.2" stroke-linecap="butt" /><line x1="1773.7" y1="1094.7" x2="1773.7" y2="1103.2" stroke="#000" stroke-width="2.2" stroke-linecap="butt" /><line x1="1840.7" y1="1094.7" x2="1840.7" y2="1103.2" stroke="#000" stroke-width="2.2" stroke-linecap="butt" /><line x1="1907.7" y1="1094.7" x2="1907.7" y2="1103.2" stroke="#000" stroke-width="2.2" stroke-linecap="butt" /><line x1="1974.7" y1="1094.7" x2="1974.7" y2="1103.2" stroke="#000" stroke-width="2.2" stroke-linecap="butt" /><path d="M1539.6 706V678.6H1878.9V944.4" fill="none" stroke="#000" stroke-width="2.8"/><line x1="1481.8" y1="706.0" x2="1593.5" y2="706.0" stroke="#000" stroke-width="2.8" stroke-linecap="butt" /><line x1="1482.5" y1="698.5" x2="1482.5" y2="714.5" stroke="#000" stroke-width="2.6" stroke-linecap="butt" /><line x1="1593.0" y1="698.5" x2="1593.0" y2="714.5" stroke="#000" stroke-width="2.6" stroke-linecap="butt" /><line x1="1771.7" y1="944.6" x2="1998.5" y2="944.6" stroke="#000" stroke-width="2.8" stroke-linecap="butt" /><line x1="1772.4" y1="936.5" x2="1772.4" y2="952.5" stroke="#000" stroke-width="2.6" stroke-linecap="butt" /><line x1="1998.0" y1="936.5" x2="1998.0" y2="952.5" stroke="#000" stroke-width="2.6" stroke-linecap="butt" /><text x="1703.5" y="683.0" font-family="Liberation Sans" font-size="28" font-weight="normal" fill="#000" textLength="33.0" lengthAdjust="spacingAndGlyphs" >***</text><line x1="1499.5" y1="729.6" x2="1614.0" y2="729.6" stroke="#000" stroke-width="2.8" stroke-linecap="round" /><text x="1537.0" y="734.0" font-family="Liberation Sans" font-size="28" font-weight="normal" fill="#000" textLength="33.0" lengthAdjust="spacingAndGlyphs" >***</text><line x1="1500.5" y1="755.3" x2="1575.0" y2="755.3" stroke="#000" stroke-width="3.6" stroke-linecap="round" /><text x="1526.0" y="759.5" font-family="Liberation Sans" font-size="28" font-weight="normal" fill="#000" textLength="21.5" lengthAdjust="spacingAndGlyphs" >**</text><line x1="1633.0" y1="715.7" x2="1692.5" y2="715.7" stroke="#000" stroke-width="2.8" stroke-linecap="round" /><text x="1643.0" y="719.0" font-family="Liberation Sans" font-size="28" font-weight="normal" fill="#000" textLength="33.5" lengthAdjust="spacingAndGlyphs" >***</text><text x="1515.2" y="1123.5" font-family="Liberation Sans" font-size="31" font-weight="bold" fill="#000" text-anchor="end" transform="rotate(-45 1515.2 1123.5)" >P</text><text x="1582.2" y="1123.5" font-family="Liberation Sans" font-size="31" font-weight="bold" fill="#000" text-anchor="end" transform="rotate(-45 1582.2 1123.5)" >RP</text><text x="1649.2" y="1123.5" font-family="Liberation Sans" font-size="31" font-weight="bold" fill="#000" text-anchor="end" transform="rotate(-45 1649.2 1123.5)" >P</text><text x="1716.2" y="1123.5" font-family="Liberation Sans" font-size="31" font-weight="bold" fill="#000" text-anchor="end" transform="rotate(-45 1716.2 1123.5)" >RP</text><text x="1783.2" y="1123.5" font-family="Liberation Sans" font-size="31" font-weight="bold" fill="#000" text-anchor="end" transform="rotate(-45 1783.2 1123.5)" >P</text><text x="1850.2" y="1123.5" font-family="Liberation Sans" font-size="31" font-weight="bold" fill="#000" text-anchor="end" transform="rotate(-45 1850.2 1123.5)" >RP</text><text x="1917.2" y="1123.5" font-family="Liberation Sans" font-size="31" font-weight="bold" fill="#000" text-anchor="end" transform="rotate(-45 1917.2 1123.5)" >P</text><text x="1984.2" y="1123.5" font-family="Liberation Sans" font-size="31" font-weight="bold" fill="#000" text-anchor="end" transform="rotate(-45 1984.2 1123.5)" >RP</text><rect x="1448.6" y="1156.7" width="167.8" height="37.9" fill="#fff" stroke="#2a2a2a" stroke-width="1.4" /><text x="1453.6" y="1185.0" font-family="Liberation Sans" font-size="25" font-weight="bold" fill="#000" textLength="156.4" lengthAdjust="spacingAndGlyphs" >MDA-MB-231</text><rect x="1619.3" y="1156.7" width="79.2" height="37.9" fill="#fff" stroke="#2a2a2a" stroke-width="1.4" /><text x="1624.0" y="1185.0" font-family="Liberation Sans" font-size="25" font-weight="bold" fill="#000" textLength="69.7" lengthAdjust="spacingAndGlyphs" >MCF7</text><rect x="1732.0" y="1156.7" width="167.6" height="37.9" fill="#fff" stroke="#2a2a2a" stroke-width="1.4" /><text x="1737.0" y="1185.0" font-family="Liberation Sans" font-size="25" font-weight="bold" fill="#000" textLength="156.4" lengthAdjust="spacingAndGlyphs" >MDA-MB-231</text><rect x="1901.5" y="1156.7" width="79.1" height="37.9" fill="#fff" stroke="#2a2a2a" stroke-width="1.4" /><text x="1906.0" y="1185.0" font-family="Liberation Sans" font-size="25" font-weight="bold" fill="#000" textLength="69.7" lengthAdjust="spacingAndGlyphs" >MCF7</text><line x1="1730.7" y1="1205.0" x2="2006.7" y2="1205.0" stroke="#000" stroke-width="3" stroke-linecap="butt" /><line x1="1731.8" y1="1197.0" x2="1731.8" y2="1213.0" stroke="#000" stroke-width="3" stroke-linecap="butt" /><line x1="2005.8" y1="1197.0" x2="2005.8" y2="1213.0" stroke="#000" stroke-width="3" stroke-linecap="butt" /><text x="1822.8" y="1232.5" font-family="Liberation Sans" font-size="24" font-weight="bold" fill="#000" textLength="124.0" lengthAdjust="spacingAndGlyphs" >w/o beads</text><text x="1413.5" y="1029.0" font-family="Liberation Sans" font-size="29" font-weight="bold" fill="#000" textLength="275.0" lengthAdjust="spacingAndGlyphs" transform="rotate(-90 1413.5 1029.0)" >Pearson coefficient</text><text x="1371.5" y="930.0" font-family="Liberation Sans" font-size="46" font-weight="normal" fill="#000" textLength="97.0" lengthAdjust="spacingAndGlyphs" transform="rotate(-90 1371.5 930.0)" >SOFT</text><circle cx="2155.2" cy="906.1" r="3.9" fill="#000"/><circle cx="2169.0" cy="906.1" r="3.9" fill="#000"/><circle cx="2182.7" cy="906.1" r="3.9" fill="#000"/><circle cx="2113.9" cy="912.9" r="3.9" fill="#000"/><circle cx="2127.7" cy="912.9" r="3.9" fill="#000"/><circle cx="2141.4" cy="916.2" r="3.9" fill="#000"/><circle cx="2120.9" cy="919.9" r="3.9" fill="#000"/><circle cx="2148.4" cy="919.9" r="3.9" fill="#000"/><circle cx="2175.7" cy="919.9" r="3.9" fill="#000"/><circle cx="2134.7" cy="926.6" r="3.9" fill="#000"/><circle cx="2141.4" cy="930.0" r="3.9" fill="#000"/><circle cx="2162.0" cy="930.0" r="3.9" fill="#000"/><circle cx="2141.4" cy="933.4" r="3.9" fill="#000"/><circle cx="2155.2" cy="936.8" r="3.9" fill="#000"/><circle cx="2169.0" cy="940.4" r="3.9" fill="#000"/><circle cx="2182.7" cy="940.4" r="3.9" fill="#000"/><circle cx="2113.9" cy="943.3" r="3.9" fill="#000"/><circle cx="2127.7" cy="943.3" r="3.9" fill="#000"/><circle cx="2127.7" cy="947.2" r="3.9" fill="#000"/><circle cx="2141.4" cy="950.1" r="3.9" fill="#000"/><circle cx="2155.2" cy="950.1" r="3.9" fill="#000"/><circle cx="2169.0" cy="956.8" r="3.9" fill="#000"/><rect x="2273.6" y="878.4" width="8.0" height="8.0" fill="#000"/><rect x="2252.9" y="885.2" width="8.0" height="8.0" fill="#000"/><rect x="2263.2" y="885.2" width="8.0" height="8.0" fill="#000"/><rect x="2284.0" y="885.2" width="8.0" height="8.0" fill="#000"/><rect x="2284.0" y="891.7" width="8.0" height="8.0" fill="#000"/><rect x="2232.1" y="888.6" width="8.0" height="8.0" fill="#000"/><rect x="2242.5" y="895.3" width="8.0" height="8.0" fill="#000"/><rect x="2252.9" y="898.7" width="8.0" height="8.0" fill="#000"/><rect x="2263.2" y="898.7" width="8.0" height="8.0" fill="#000"/><rect x="2273.6" y="898.7" width="8.0" height="8.0" fill="#000"/><rect x="2294.4" y="898.7" width="8.0" height="8.0" fill="#000"/><rect x="2304.8" y="898.7" width="8.0" height="8.0" fill="#000"/><rect x="2263.2" y="912.2" width="8.0" height="8.0" fill="#000"/><rect x="2273.6" y="912.2" width="8.0" height="8.0" fill="#000"/><rect x="2284.0" y="912.2" width="8.0" height="8.0" fill="#000"/><rect x="2252.9" y="915.9" width="8.0" height="8.0" fill="#000"/><rect x="2252.9" y="922.6" width="8.0" height="8.0" fill="#000"/><rect x="2263.2" y="926.0" width="8.0" height="8.0" fill="#000"/><rect x="2273.6" y="929.4" width="8.0" height="8.0" fill="#000"/><rect x="2284.0" y="932.8" width="8.0" height="8.0" fill="#000"/><path d="M2393.0 852.4L2400.8 852.4L2396.9 845.4Z" fill="#000"/><path d="M2384.6 886.2L2392.4 886.2L2388.5 879.2Z" fill="#000"/><path d="M2401.2 886.2L2409.0 886.2L2405.1 879.2Z" fill="#000"/><path d="M2359.7 893.0L2367.5 893.0L2363.6 886.0Z" fill="#000"/><path d="M2393.0 893.0L2400.8 893.0L2396.9 886.0Z" fill="#000"/><path d="M2375.9 896.4L2383.7 896.4L2379.8 889.4Z" fill="#000"/><path d="M2409.4 899.8L2417.2 899.8L2413.3 892.7Z" fill="#000"/><path d="M2426.1 903.1L2433.9 903.1L2430.0 896.1Z" fill="#000"/><path d="M2417.9 913.3L2425.7 913.3L2421.8 906.3Z" fill="#000"/><path d="M2367.9 916.7L2375.7 916.7L2371.8 909.6Z" fill="#000"/><path d="M2384.6 920.0L2392.4 920.0L2388.5 913.0Z" fill="#000"/><path d="M2401.2 920.0L2409.0 920.0L2405.1 913.0Z" fill="#000"/><path d="M2384.6 930.2L2392.4 930.2L2388.5 923.2Z" fill="#000"/><path d="M2401.2 933.6L2409.0 933.6L2405.1 926.5Z" fill="#000"/><path d="M2512.0 946.9L2519.4 946.9L2515.7 953.6Z" fill="#000"/><path d="M2517.3 946.9L2524.7 946.9L2521.0 953.6Z" fill="#000"/><path d="M2522.9 957.1L2530.3 957.1L2526.6 963.7Z" fill="#000"/><path d="M2514.2 990.9L2521.6 990.9L2517.9 997.5Z" fill="#000"/><path d="M2519.7 990.9L2527.1 990.9L2523.4 997.5Z" fill="#000"/><path d="M2480.4 1000.8L2487.8 1000.8L2484.1 1007.4Z" fill="#000"/><path d="M2486.2 1004.4L2493.6 1004.4L2489.9 1011.0Z" fill="#000"/><path d="M2492.0 1006.1L2499.4 1006.1L2495.7 1012.7Z" fill="#000"/><path d="M2497.8 1007.8L2505.2 1007.8L2501.5 1014.4Z" fill="#000"/><path d="M2503.3 1007.8L2510.7 1007.8L2507.0 1014.4Z" fill="#000"/><path d="M2508.9 1007.8L2516.3 1007.8L2512.6 1014.4Z" fill="#000"/><path d="M2514.2 1007.8L2521.6 1007.8L2517.9 1014.4Z" fill="#000"/><path d="M2519.7 1007.8L2527.1 1007.8L2523.4 1014.4Z" fill="#000"/><path d="M2531.1 1000.8L2538.5 1000.8L2534.8 1007.4Z" fill="#000"/><path d="M2536.9 1007.8L2544.3 1007.8L2540.6 1014.4Z" fill="#000"/><path d="M2542.7 1011.1L2550.1 1011.1L2546.4 1017.8Z" fill="#000"/><path d="M2548.2 1007.8L2555.6 1007.8L2551.9 1014.4Z" fill="#000"/><path d="M2554.0 1011.1L2561.4 1011.1L2557.7 1017.8Z" fill="#000"/><path d="M2503.3 1014.5L2510.7 1014.5L2507.0 1021.2Z" fill="#000"/><path d="M2519.7 1014.5L2527.1 1014.5L2523.4 1021.2Z" fill="#000"/><path d="M2508.9 1018.1L2516.3 1018.1L2512.6 1024.8Z" fill="#000"/><path d="M2514.2 1021.3L2521.6 1021.3L2517.9 1027.9Z" fill="#000"/><path d="M2525.8 1021.3L2533.2 1021.3L2529.5 1027.9Z" fill="#000"/><path d="M2531.3 1024.7L2538.7 1024.7L2535.0 1031.3Z" fill="#000"/><line x1="2106.9" y1="929.3" x2="2190.2" y2="929.3" stroke="#000" stroke-width="3.0" stroke-linecap="round" /><line x1="2127.9" y1="926.1" x2="2169.2" y2="926.1" stroke="#000" stroke-width="1.8" stroke-linecap="round" /><line x1="2127.9" y1="932.7" x2="2169.2" y2="932.7" stroke="#000" stroke-width="1.8" stroke-linecap="round" /><line x1="2148.4" y1="926.1" x2="2148.4" y2="932.7" stroke="#000" stroke-width="1.8" stroke-linecap="butt" /><line x1="2231.0" y1="907.6" x2="2314.6" y2="907.6" stroke="#000" stroke-width="3.0" stroke-linecap="round" /><line x1="2252.3" y1="904.7" x2="2293.6" y2="904.7" stroke="#000" stroke-width="1.8" stroke-linecap="round" /><line x1="2252.3" y1="910.7" x2="2293.6" y2="910.7" stroke="#000" stroke-width="1.8" stroke-linecap="round" /><line x1="2272.8" y1="904.7" x2="2272.8" y2="910.7" stroke="#000" stroke-width="1.8" stroke-linecap="butt" /><line x1="2354.9" y1="899.3" x2="2438.9" y2="899.3" stroke="#000" stroke-width="3.0" stroke-linecap="round" /><line x1="2375.9" y1="893.8" x2="2417.9" y2="893.8" stroke="#000" stroke-width="2.6" stroke-linecap="round" /><line x1="2375.9" y1="905.1" x2="2417.9" y2="905.1" stroke="#000" stroke-width="2.6" stroke-linecap="round" /><line x1="2396.9" y1="893.8" x2="2396.9" y2="905.1" stroke="#000" stroke-width="2.6" stroke-linecap="butt" /><line x1="2479.3" y1="1004.4" x2="2562.8" y2="1004.4" stroke="#000" stroke-width="3.0" stroke-linecap="round" /><line x1="2500.3" y1="1000.8" x2="2541.8" y2="1000.8" stroke="#000" stroke-width="2.2" stroke-linecap="round" /><line x1="2500.3" y1="1007.5" x2="2541.8" y2="1007.5" stroke="#000" stroke-width="2.2" stroke-linecap="round" /><line x1="2521.0" y1="1000.8" x2="2521.0" y2="1007.5" stroke="#000" stroke-width="1.8" stroke-linecap="butt" /><line x1="2086.8" y1="688.3" x2="2086.8" y2="1096.9" stroke="#000" stroke-width="3.2" stroke-linecap="butt" /><line x1="2078.7" y1="689.8" x2="2086.8" y2="689.8" stroke="#000" stroke-width="2.6" stroke-linecap="butt" /><line x1="2081.7" y1="696.6" x2="2086.8" y2="696.6" stroke="#000" stroke-width="2.0" stroke-linecap="butt" /><line x1="2081.7" y1="703.3" x2="2086.8" y2="703.3" stroke="#000" stroke-width="2.0" stroke-linecap="butt" /><line x1="2081.7" y1="710.1" x2="2086.8" y2="710.1" stroke="#000" stroke-width="2.0" stroke-linecap="butt" /><line x1="2081.7" y1="716.8" x2="2086.8" y2="716.8" stroke="#000" stroke-width="2.0" stroke-linecap="butt" /><line x1="2081.7" y1="723.6" x2="2086.8" y2="723.6" stroke="#000" stroke-width="2.0" stroke-linecap="butt" /><line x1="2081.7" y1="730.4" x2="2086.8" y2="730.4" stroke="#000" stroke-width="2.0" stroke-linecap="butt" /><line x1="2081.7" y1="737.1" x2="2086.8" y2="737.1" stroke="#000" stroke-width="2.0" stroke-linecap="butt" /><line x1="2081.7" y1="743.9" x2="2086.8" y2="743.9" stroke="#000" stroke-width="2.0" stroke-linecap="butt" /><line x1="2081.7" y1="750.6" x2="2086.8" y2="750.6" stroke="#000" stroke-width="2.0" stroke-linecap="butt" /><line x1="2078.7" y1="757.4" x2="2086.8" y2="757.4" stroke="#000" stroke-width="2.6" stroke-linecap="butt" /><line x1="2081.7" y1="764.2" x2="2086.8" y2="764.2" stroke="#000" stroke-width="2.0" stroke-linecap="butt" /><line x1="2081.7" y1="770.9" x2="2086.8" y2="770.9" stroke="#000" stroke-width="2.0" stroke-linecap="butt" /><line x1="2081.7" y1="777.7" x2="2086.8" y2="777.7" stroke="#000" stroke-width="2.0" stroke-linecap="butt" /><line x1="2081.7" y1="784.4" x2="2086.8" y2="784.4" stroke="#000" stroke-width="2.0" stroke-linecap="butt" /><line x1="2081.7" y1="791.2" x2="2086.8" y2="791.2" stroke="#000" stroke-width="2.0" stroke-linecap="butt" /><line x1="2081.7" y1="798.0" x2="2086.8" y2="798.0" stroke="#000" stroke-width="2.0" stroke-linecap="butt" /><line x1="2081.7" y1="804.7" x2="2086.8" y2="804.7" stroke="#000" stroke-width="2.0" stroke-linecap="butt" /><line x1="2081.7" y1="811.5" x2="2086.8" y2="811.5" stroke="#000" stroke-width="2.0" stroke-linecap="butt" /><line x1="2081.7" y1="818.2" x2="2086.8" y2="818.2" stroke="#000" stroke-width="2.0" stroke-linecap="butt" /><line x1="2078.7" y1="825.0" x2="2086.8" y2="825.0" stroke="#000" stroke-width="2.6" stroke-linecap="butt" /><line x1="2081.7" y1="831.8" x2="2086.8" y2="831.8" stroke="#000" stroke-width="2.0" stroke-linecap="butt" /><line x1="2081.7" y1="838.5" x2="2086.8" y2="838.5" stroke="#000" stroke-width="2.0" stroke-linecap="butt" /><line x1="2081.7" y1="845.3" x2="2086.8" y2="845.3" stroke="#000" stroke-width="2.0" stroke-linecap="butt" /><line x1="2081.7" y1="852.0" x2="2086.8" y2="852.0" stroke="#000" stroke-width="2.0" stroke-linecap="butt" /><line x1="2081.7" y1="858.8" x2="2086.8" y2="858.8" stroke="#000" stroke-width="2.0" stroke-linecap="butt" /><line x1="2081.7" y1="865.6" x2="2086.8" y2="865.6" stroke="#000" stroke-width="2.0" stroke-linecap="butt" /><line x1="2081.7" y1="872.3" x2="2086.8" y2="872.3" stroke="#000" stroke-width="2.0" stroke-linecap="butt" /><line x1="2081.7" y1="879.1" x2="2086.8" y2="879.1" stroke="#000" stroke-width="2.0" stroke-linecap="butt" /><line x1="2081.7" y1="885.8" x2="2086.8" y2="885.8" stroke="#000" stroke-width="2.0" stroke-linecap="butt" /><line x1="2078.7" y1="892.6" x2="2086.8" y2="892.6" stroke="#000" stroke-width="2.6" stroke-linecap="butt" /><line x1="2081.7" y1="899.4" x2="2086.8" y2="899.4" stroke="#000" stroke-width="2.0" stroke-linecap="butt" /><line x1="2081.7" y1="906.1" x2="2086.8" y2="906.1" stroke="#000" stroke-width="2.0" stroke-linecap="butt" /><line x1="2081.7" y1="912.9" x2="2086.8" y2="912.9" stroke="#000" stroke-width="2.0" stroke-linecap="butt" /><line x1="2081.7" y1="919.6" x2="2086.8" y2="919.6" stroke="#000" stroke-width="2.0" stroke-linecap="butt" /><line x1="2081.7" y1="926.4" x2="2086.8" y2="926.4" stroke="#000" stroke-width="2.0" stroke-linecap="butt" /><line x1="2081.7" y1="933.2" x2="2086.8" y2="933.2" stroke="#000" stroke-width="2.0" stroke-linecap="butt" /><line x1="2081.7" y1="939.9" x2="2086.8" y2="939.9" stroke="#000" stroke-width="2.0" stroke-linecap="butt" /><line x1="2081.7" y1="946.7" x2="2086.8" y2="946.7" stroke="#000" stroke-width="2.0" stroke-linecap="butt" /><line x1="2081.7" y1="953.4" x2="2086.8" y2="953.4" stroke="#000" stroke-width="2.0" stroke-linecap="butt" /><line x1="2078.7" y1="960.2" x2="2086.8" y2="960.2" stroke="#000" stroke-width="2.6" stroke-linecap="butt" /><line x1="2081.7" y1="967.0" x2="2086.8" y2="967.0" stroke="#000" stroke-width="2.0" stroke-linecap="butt" /><line x1="2081.7" y1="973.7" x2="2086.8" y2="973.7" stroke="#000" stroke-width="2.0" stroke-linecap="butt" /><line x1="2081.7" y1="980.5" x2="2086.8" y2="980.5" stroke="#000" stroke-width="2.0" stroke-linecap="butt" /><line x1="2081.7" y1="987.2" x2="2086.8" y2="987.2" stroke="#000" stroke-width="2.0" stroke-linecap="butt" /><line x1="2081.7" y1="994.0" x2="2086.8" y2="994.0" stroke="#000" stroke-width="2.0" stroke-linecap="butt" /><line x1="2081.7" y1="1000.8" x2="2086.8" y2="1000.8" stroke="#000" stroke-width="2.0" stroke-linecap="butt" /><line x1="2081.7" y1="1007.5" x2="2086.8" y2="1007.5" stroke="#000" stroke-width="2.0" stroke-linecap="butt" /><line x1="2081.7" y1="1014.3" x2="2086.8" y2="1014.3" stroke="#000" stroke-width="2.0" stroke-linecap="butt" /><line x1="2081.7" y1="1021.0" x2="2086.8" y2="1021.0" stroke="#000" stroke-width="2.0" stroke-linecap="butt" /><line x1="2078.7" y1="1027.8" x2="2086.8" y2="1027.8" stroke="#000" stroke-width="2.6" stroke-linecap="butt" /><line x1="2081.7" y1="1034.6" x2="2086.8" y2="1034.6" stroke="#000" stroke-width="2.0" stroke-linecap="butt" /><line x1="2081.7" y1="1041.3" x2="2086.8" y2="1041.3" stroke="#000" stroke-width="2.0" stroke-linecap="butt" /><line x1="2081.7" y1="1048.1" x2="2086.8" y2="1048.1" stroke="#000" stroke-width="2.0" stroke-linecap="butt" /><line x1="2081.7" y1="1054.8" x2="2086.8" y2="1054.8" stroke="#000" stroke-width="2.0" stroke-linecap="butt" /><line x1="2081.7" y1="1061.6" x2="2086.8" y2="1061.6" stroke="#000" stroke-width="2.0" stroke-linecap="butt" /><line x1="2081.7" y1="1068.4" x2="2086.8" y2="1068.4" stroke="#000" stroke-width="2.0" stroke-linecap="butt" /><line x1="2081.7" y1="1075.1" x2="2086.8" y2="1075.1" stroke="#000" stroke-width="2.0" stroke-linecap="butt" /><line x1="2081.7" y1="1081.9" x2="2086.8" y2="1081.9" stroke="#000" stroke-width="2.0" stroke-linecap="butt" /><line x1="2081.7" y1="1088.6" x2="2086.8" y2="1088.6" stroke="#000" stroke-width="2.0" stroke-linecap="butt" /><line x1="2078.7" y1="1095.4" x2="2086.8" y2="1095.4" stroke="#000" stroke-width="2.6" stroke-linecap="butt" /><text x="2077.3" y="701.3" font-family="Liberation Sans" font-size="32" font-weight="bold" fill="#000" text-anchor="end" >120</text><text x="2077.3" y="768.9" font-family="Liberation Sans" font-size="32" font-weight="bold" fill="#000" text-anchor="end" >100</text><text x="2077.3" y="836.5" font-family="Liberation Sans" font-size="32" font-weight="bold" fill="#000" text-anchor="end" >80</text><text x="2077.3" y="904.1" font-family="Liberation Sans" font-size="32" font-weight="bold" fill="#000" text-anchor="end" >60</text><text x="2077.3" y="971.7" font-family="Liberation Sans" font-size="32" font-weight="bold" fill="#000" text-anchor="end" >40</text><text x="2077.3" y="1039.3" font-family="Liberation Sans" font-size="32" font-weight="bold" fill="#000" text-anchor="end" >20</text><text x="2077.3" y="1106.9" font-family="Liberation Sans" font-size="32" font-weight="bold" fill="#000" text-anchor="end" >0</text><line x1="2085.2" y1="1095.4" x2="2585.8" y2="1095.4" stroke="#000" stroke-width="3.4" stroke-linecap="butt" /><line x1="2148.2" y1="1095.4" x2="2148.2" y2="1103.9" stroke="#000" stroke-width="2.2" stroke-linecap="butt" /><line x1="2272.5" y1="1095.4" x2="2272.5" y2="1103.9" stroke="#000" stroke-width="2.2" stroke-linecap="butt" /><line x1="2396.5" y1="1095.4" x2="2396.5" y2="1103.9" stroke="#000" stroke-width="2.2" stroke-linecap="butt" /><line x1="2520.8" y1="1095.4" x2="2520.8" y2="1103.9" stroke="#000" stroke-width="2.2" stroke-linecap="butt" /><line x1="2150.0" y1="763.2" x2="2514.0" y2="763.2" stroke="#000" stroke-width="3.2" stroke-linecap="round" /><text x="2327.0" y="771.0" font-family="Liberation Sans" font-size="34" font-weight="normal" fill="#000" textLength="25.5" lengthAdjust="spacingAndGlyphs" >**</text><line x1="2397.5" y1="799.3" x2="2510.5" y2="799.3" stroke="#000" stroke-width="3.2" stroke-linecap="round" /><text x="2439.0" y="806.8" font-family="Liberation Sans" font-size="34" font-weight="normal" fill="#000" textLength="37.5" lengthAdjust="spacingAndGlyphs" >***</text><line x1="2145.5" y1="828.3" x2="2395.5" y2="828.3" stroke="#000" stroke-width="3.2" stroke-linecap="round" /><text x="2263.0" y="833.0" font-family="Liberation Sans" font-size="34" font-weight="normal" fill="#000" textLength="11.5" lengthAdjust="spacingAndGlyphs" >*</text><text x="2156.2" y="1127.0" font-family="Liberation Serif" font-size="34" font-weight="bold" fill="#000" text-anchor="end" transform="rotate(-45 2156.2 1127.0)" >P</text><text x="2280.5" y="1127.0" font-family="Liberation Serif" font-size="34" font-weight="bold" fill="#000" text-anchor="end" transform="rotate(-45 2280.5 1127.0)" >RP</text><text x="2404.5" y="1127.0" font-family="Liberation Serif" font-size="34" font-weight="bold" fill="#000" text-anchor="end" transform="rotate(-45 2404.5 1127.0)" >P</text><text x="2528.8" y="1127.0" font-family="Liberation Serif" font-size="34" font-weight="bold" fill="#000" text-anchor="end" transform="rotate(-45 2528.8 1127.0)" >RP</text><rect x="2109.0" y="1155.4" width="202.5" height="44.3" fill="#fff" stroke="#2a2a2a" stroke-width="1.4" /><text x="2114.5" y="1189.0" font-family="Liberation Sans" font-size="30" font-weight="bold" fill="#000" textLength="191.5" lengthAdjust="spacingAndGlyphs" >MDA-MB-231</text><rect x="2357.0" y="1156.0" width="95.0" height="44.0" fill="#fff" stroke="#2a2a2a" stroke-width="1.4" /><text x="2362.0" y="1189.0" font-family="Liberation Sans" font-size="30" font-weight="bold" fill="#000" textLength="85.0" lengthAdjust="spacingAndGlyphs" >MCF7</text><text x="2024.0" y="975.7" font-family="Liberation Serif" font-size="34.5" font-weight="normal" fill="#000" textLength="184.0" lengthAdjust="spacingAndGlyphs" transform="rotate(-90 2024.0 975.7)" stroke="#000" stroke-width="0.9">F-Actin, RFU</text><defs><pattern id="dots" x="1974.65" y="1532.45" width="9.38" height="18.7" patternUnits="userSpaceOnUse"><rect width="9.38" height="18.7" fill="#fff"/><rect x="0" y="0" width="2.5" height="2.5" fill="#000"/><rect x="4.69" y="9.35" width="2.5" height="2.5" fill="#000"/></pattern></defs><line x1="1889.7" y1="1437.0" x2="1889.7" y2="1472.4" stroke="#000" stroke-width="2.0" stroke-linecap="butt" /><line x1="1871.3" y1="1437.0" x2="1908.1" y2="1437.0" stroke="#000" stroke-width="2.6" stroke-linecap="round" /><rect x="1857.2" y="1473.6" width="65.3" height="352.2" fill="#000" stroke="#000" stroke-width="6.4" /><line x1="1997.7" y1="1501.4" x2="1997.7" y2="1522.0" stroke="#000" stroke-width="2.0" stroke-linecap="butt" /><line x1="1979.3" y1="1501.4" x2="2016.1" y2="1501.4" stroke="#000" stroke-width="2.6" stroke-linecap="round" /><rect x="1966.2" y="1523.2" width="63.4" height="302.6" fill="url(#dots)" stroke="#000" stroke-width="6.4" /><line x1="2106.0" y1="1579.8" x2="2106.0" y2="1597.0" stroke="#000" stroke-width="2.0" stroke-linecap="butt" /><line x1="2087.6" y1="1579.8" x2="2124.4" y2="1579.8" stroke="#000" stroke-width="2.6" stroke-linecap="round" /><rect x="2074.7" y="1598.2" width="63.1" height="227.6" fill="#a0a0a0" stroke="#000" stroke-width="6.4" /><line x1="2214.0" y1="1612.0" x2="2214.0" y2="1647.8" stroke="#000" stroke-width="2.0" stroke-linecap="butt" /><line x1="2195.6" y1="1612.0" x2="2232.4" y2="1612.0" stroke="#000" stroke-width="2.6" stroke-linecap="round" /><rect x="2182.7" y="1649.0" width="63.1" height="176.8" fill="#e0e0e0" stroke="#000" stroke-width="6.4" /><line x1="1817.8" y1="1353.5" x2="1817.8" y2="1830.8" stroke="#000" stroke-width="4" stroke-linecap="round" /><line x1="1797.0" y1="1825.8" x2="2289.0" y2="1825.8" stroke="#000" stroke-width="4.2" stroke-linecap="round" /><line x1="1797.0" y1="1825.8" x2="1817.8" y2="1825.8" stroke="#000" stroke-width="3.8" stroke-linecap="round" /><text x="1771.7" y="1837.3" font-family="Liberation Sans" font-size="32" font-weight="bold" fill="#000" textLength="19.1" lengthAdjust="spacingAndGlyphs" >0</text><line x1="1797.0" y1="1767.4" x2="1817.8" y2="1767.4" stroke="#000" stroke-width="3.8" stroke-linecap="round" /><text x="1733.5" y="1778.9" font-family="Liberation Sans" font-size="32" font-weight="bold" fill="#000" textLength="57.3" lengthAdjust="spacingAndGlyphs" >500</text><line x1="1797.0" y1="1709.0" x2="1817.8" y2="1709.0" stroke="#000" stroke-width="3.8" stroke-linecap="round" /><text x="1714.4" y="1720.5" font-family="Liberation Sans" font-size="32" font-weight="bold" fill="#000" textLength="76.4" lengthAdjust="spacingAndGlyphs" >1000</text><line x1="1797.0" y1="1650.6" x2="1817.8" y2="1650.6" stroke="#000" stroke-width="3.8" stroke-linecap="round" /><text x="1714.4" y="1662.1" font-family="Liberation Sans" font-size="32" font-weight="bold" fill="#000" textLength="76.4" lengthAdjust="spacingAndGlyphs" >1500</text><line x1="1797.0" y1="1592.2" x2="1817.8" y2="1592.2" stroke="#000" stroke-width="3.8" stroke-linecap="round" /><text x="1714.4" y="1603.7" font-family="Liberation Sans" font-size="32" font-weight="bold" fill="#000" textLength="76.4" lengthAdjust="spacingAndGlyphs" >2000</text><line x1="1797.0" y1="1533.8" x2="1817.8" y2="1533.8" stroke="#000" stroke-width="3.8" stroke-linecap="round" /><text x="1714.4" y="1545.3" font-family="Liberation Sans" font-size="32" font-weight="bold" fill="#000" textLength="76.4" lengthAdjust="spacingAndGlyphs" >2500</text><line x1="1797.0" y1="1475.4" x2="1817.8" y2="1475.4" stroke="#000" stroke-width="3.8" stroke-linecap="round" /><text x="1714.4" y="1486.9" font-family="Liberation Sans" font-size="32" font-weight="bold" fill="#000" textLength="76.4" lengthAdjust="spacingAndGlyphs" >3000</text><line x1="1797.0" y1="1417.0" x2="1817.8" y2="1417.0" stroke="#000" stroke-width="3.8" stroke-linecap="round" /><text x="1714.4" y="1428.5" font-family="Liberation Sans" font-size="32" font-weight="bold" fill="#000" textLength="76.4" lengthAdjust="spacingAndGlyphs" >3500</text><line x1="1797.0" y1="1358.6" x2="1817.8" y2="1358.6" stroke="#000" stroke-width="3.8" stroke-linecap="round" /><text x="1714.4" y="1370.1" font-family="Liberation Sans" font-size="32" font-weight="bold" fill="#000" textLength="76.4" lengthAdjust="spacingAndGlyphs" >4000</text><line x1="1889.7" y1="1825.8" x2="1889.7" y2="1846.5" stroke="#000" stroke-width="4" stroke-linecap="round" /><line x1="1997.7" y1="1825.8" x2="1997.7" y2="1846.5" stroke="#000" stroke-width="4" stroke-linecap="round" /><line x1="2106.0" y1="1825.8" x2="2106.0" y2="1846.5" stroke="#000" stroke-width="4" stroke-linecap="round" /><line x1="2214.0" y1="1825.8" x2="2214.0" y2="1846.5" stroke="#000" stroke-width="4" stroke-linecap="round" /><text x="1889.7" y="1883.6" font-family="Liberation Sans" font-size="34" font-weight="bold" fill="#000" text-anchor="middle" >P</text><text x="1997.7" y="1883.6" font-family="Liberation Sans" font-size="34" font-weight="bold" fill="#000" text-anchor="middle" >RP</text><text x="2106.0" y="1883.6" font-family="Liberation Sans" font-size="34" font-weight="bold" fill="#000" text-anchor="middle" >P</text><text x="2214.0" y="1883.6" font-family="Liberation Sans" font-size="34" font-weight="bold" fill="#000" text-anchor="middle" >RP</text><rect x="1883.3" y="1905.8" width="121.7" height="61.4" fill="#fff" stroke="#000" stroke-width="3.8" /><text x="1894.5" y="1950.0" font-family="Liberation Sans" font-size="37" font-weight="bold" fill="#000" textLength="98.0" lengthAdjust="spacingAndGlyphs" >MCF7</text><rect x="2040.5" y="1905.8" width="252.4" height="61.4" fill="#fff" stroke="#000" stroke-width="3.8" /><text x="2051.0" y="1950.0" font-family="Liberation Sans" font-size="37" font-weight="bold" fill="#000" textLength="230.0" lengthAdjust="spacingAndGlyphs" >MDA-MB-231</text><text x="1673.0" y="1861.5" font-family="Liberation Sans" font-size="35" font-weight="bold" fill="#000" textLength="539.0" lengthAdjust="spacingAndGlyphs" transform="rotate(-90 1673.0 1861.5)" >Relative Young's modulus, Pa</text><line x1="1891.0" y1="1386.0" x2="2106.0" y2="1386.0" stroke="#000" stroke-width="4" stroke-linecap="round" /><text x="1957.6" y="1385.5" font-family="Liberation Sans" font-size="40" font-weight="normal" fill="#000" textLength="78.0" lengthAdjust="spacingAndGlyphs" >****</text><line x1="1888.0" y1="1428.0" x2="2001.0" y2="1428.0" stroke="#000" stroke-width="4" stroke-linecap="round" /><text x="1935.5" y="1428.0" font-family="Liberation Sans" font-size="40" font-weight="normal" fill="#000" textLength="16.0" lengthAdjust="spacingAndGlyphs" >*</text><line x1="2005.5" y1="1476.4" x2="2221.0" y2="1476.4" stroke="#000" stroke-width="4" stroke-linecap="round" /><text x="2071.5" y="1478.0" font-family="Liberation Sans" font-size="40" font-weight="normal" fill="#000" textLength="79.0" lengthAdjust="spacingAndGlyphs" >****</text><line x1="2106.5" y1="1562.0" x2="2223.0" y2="1562.0" stroke="#000" stroke-width="4" stroke-linecap="round" /><text x="2155.0" y="1562.0" font-family="Liberation Sans" font-size="40" font-weight="normal" fill="#000" textLength="16.0" lengthAdjust="spacingAndGlyphs" >*</text><text x="2006.5" y="2040.0" font-family="Liberation Serif" font-size="50" font-weight="normal" fill="#000" textLength="55.0" lengthAdjust="spacingAndGlyphs" >(d)</text><text x="2018.0" y="1238.0" font-family="Liberation Serif" font-size="50" font-weight="normal" fill="#000" textLength="56.0" lengthAdjust="spacingAndGlyphs" >(b)</text>
<defs><filter id="bl1" x="-50%" y="-50%" width="200%" height="200%"><feGaussianBlur stdDeviation="1"/></filter><filter id="bl2" x="-50%" y="-50%" width="200%" height="200%"><feGaussianBlur stdDeviation="2"/></filter><filter id="bl3" x="-50%" y="-50%" width="200%" height="200%"><feGaussianBlur stdDeviation="3"/></filter><filter id="bl4" x="-50%" y="-50%" width="200%" height="200%"><feGaussianBlur stdDeviation="4"/></filter><filter id="bl6" x="-50%" y="-50%" width="200%" height="200%"><feGaussianBlur stdDeviation="6"/></filter><filter id="bl8" x="-50%" y="-50%" width="200%" height="200%"><feGaussianBlur stdDeviation="8"/></filter><filter id="bl12" x="-50%" y="-50%" width="200%" height="200%"><feGaussianBlur stdDeviation="12"/></filter><filter id="nzg" x="0" y="0" width="100%" height="100%"><feTurbulence type="fractalNoise" baseFrequency="0.18" numOctaves="2" seed="4"/><feColorMatrix type="matrix" values="0 0 0 0 0.5  0 0 0 0 0.5  0 0 0 0 0.5  1.6 0 0 0 -0.55"/></filter><filter id="nzd" x="0" y="0" width="100%" height="100%"><feTurbulence type="fractalNoise" baseFrequency="0.12" numOctaves="3" seed="9"/><feColorMatrix type="matrix" values="0 0 0 0 0.1  0 0 0 0 0.1  0 0 0 0 0.1  2.4 0 0 0 -0.9"/></filter><filter id="nzl" x="0" y="0" width="100%" height="100%"><feTurbulence type="fractalNoise" baseFrequency="0.12" numOctaves="3" seed="5"/><feColorMatrix type="matrix" values="0 0 0 0 0.85  0 0 0 0 0.85  0 0 0 0 0.85  2.4 0 0 0 -0.9"/></filter><filter id="org" x="-10%" y="-10%" width="120%" height="120%"><feTurbulence type="fractalNoise" baseFrequency="0.035" numOctaves="2" seed="7" result="t"/><feDisplacementMap in="SourceGraphic" in2="t" scale="16" xChannelSelector="R" yChannelSelector="G"/></filter><filter id="fine" x="0" y="0" width="100%" height="100%"><feTurbulence type="fractalNoise" baseFrequency="0.7" numOctaves="2" seed="2"/><feColorMatrix type="matrix" values="0 0 0 0 0.5  0 0 0 0 0.5  0 0 0 0 0.5  0 0 0 0 1"/><feComponentTransfer><feFuncR type="table" tableValues="0 1"/></feComponentTransfer></filter><filter id="grain" x="0" y="0" width="100%" height="100%"><feTurbulence type="fractalNoise" baseFrequency="0.6" numOctaves="2" seed="3"/><feColorMatrix type="matrix" values="1.2 0 0 0 -0.1  1.2 0 0 0 -0.1  1.2 0 0 0 -0.1  0 0 0 0 0.11"/></filter><linearGradient id="dicg" x1="0.1" y1="0.1" x2="0.9" y2="0.9"><stop offset="0" stop-color="#f2f2f2" stop-opacity="0.95"/><stop offset="0.42" stop-color="#a0a0a0" stop-opacity="0.25"/><stop offset="0.6" stop-color="#707070" stop-opacity="0.2"/><stop offset="1" stop-color="#1e1e1e" stop-opacity="0.95"/></linearGradient></defs><text x="5.0" y="445.0" font-family="Liberation Sans" font-size="45" font-weight="normal" fill="#000" textLength="246.0" lengthAdjust="spacingAndGlyphs" >Extracellular</text><text x="111.0" y="505.0" font-family="Liberation Sans" font-size="45" font-weight="normal" fill="#000" textLength="140.0" lengthAdjust="spacingAndGlyphs" >matrix:</text><text x="412.0" y="452.0" font-family="Liberation Sans" font-size="50" font-weight="normal" fill="#000" textLength="128.0" lengthAdjust="spacingAndGlyphs" >MCF7</text><text x="757.0" y="452.0" font-family="Liberation Sans" font-size="50" font-weight="normal" fill="#000" textLength="292.0" lengthAdjust="spacingAndGlyphs" >MDA-MB231</text><line x1="284.0" y1="467.0" x2="706.0" y2="467.0" stroke="#000" stroke-width="5.5" stroke-linecap="butt" /><line x1="723.0" y1="467.0" x2="1137.0" y2="467.0" stroke="#000" stroke-width="5.5" stroke-linecap="butt" /><text x="333.0" y="553.0" font-family="Liberation Sans" font-size="42" font-weight="bold" fill="#000" textLength="25.0" lengthAdjust="spacingAndGlyphs" >P</text><text x="460.0" y="553.0" font-family="Liberation Sans" font-size="42" font-weight="bold" fill="#000" textLength="53.0" lengthAdjust="spacingAndGlyphs" >RP</text><text x="605.0" y="553.0" font-family="Liberation Sans" font-size="42" font-weight="bold" fill="#000" textLength="64.0" lengthAdjust="spacingAndGlyphs" >ctrl</text><text x="775.0" y="553.0" font-family="Liberation Sans" font-size="42" font-weight="bold" fill="#000" textLength="25.0" lengthAdjust="spacingAndGlyphs" >P</text><text x="903.0" y="553.0" font-family="Liberation Sans" font-size="42" font-weight="bold" fill="#000" textLength="52.0" lengthAdjust="spacingAndGlyphs" >RP</text><text x="1047.0" y="553.0" font-family="Liberation Sans" font-size="42" font-weight="bold" fill="#000" textLength="65.0" lengthAdjust="spacingAndGlyphs" >ctrl</text><text x="153.0" y="724.0" font-family="Liberation Sans" font-size="51" font-weight="normal" fill="#000" textLength="118.0" lengthAdjust="spacingAndGlyphs" >STIFF</text><text x="162.0" y="1000.0" font-family="Liberation Sans" font-size="51" font-weight="normal" fill="#000" textLength="113.0" lengthAdjust="spacingAndGlyphs" >SOFT</text><text x="1169.0" y="614.0" font-family="Liberation Sans" font-size="46" font-weight="normal" fill="#000" textLength="139.0" lengthAdjust="spacingAndGlyphs" >Uptake</text><text x="1169.0" y="672.0" font-family="Liberation Sans" font-size="46" font-weight="normal" fill="#000" textLength="125.0" lengthAdjust="spacingAndGlyphs" >of NPs</text><text x="1169.0" y="794.0" font-family="Liberation Sans" font-size="46" font-weight="normal" fill="#000" textLength="133.0" lengthAdjust="spacingAndGlyphs" >F-actin</text><text x="1169.0" y="913.0" font-family="Liberation Sans" font-size="46" font-weight="normal" fill="#000" textLength="139.0" lengthAdjust="spacingAndGlyphs" >Uptake</text><text x="1169.0" y="970.5" font-family="Liberation Sans" font-size="46" font-weight="normal" fill="#000" textLength="125.0" lengthAdjust="spacingAndGlyphs" >of NPs</text><text x="1169.0" y="1092.0" font-family="Liberation Sans" font-size="46" font-weight="normal" fill="#000" textLength="133.0" lengthAdjust="spacingAndGlyphs" >F-actin</text><text x="790.0" y="1219.0" font-family="Liberation Serif" font-size="50" font-weight="normal" fill="#000" textLength="54.0" lengthAdjust="spacingAndGlyphs" >(a)</text><clipPath id="ta1"><rect x="284.1" y="565.1" width="137.5" height="135.7"/></clipPath><g clip-path="url(#ta1)"><linearGradient id="ta1g" x1="0" y1="0" x2="0.3" y2="1"><stop offset="0" stop-color="#6c6c6c"/><stop offset="1" stop-color="#5a5a5a"/></linearGradient><rect x="284.1" y="565.1" width="137.5" height="135.7" fill="url(#ta1g)" /><ellipse cx="351.5" cy="601.7" rx="10.1" ry="12.8" fill="#4a4a4a" fill-opacity="0.0" stroke="#4a4a4a" stroke-width="1.2" opacity="0.36000000000000004" filter="url(#bl1)"/><ellipse cx="351.5" cy="601.7" rx="9.6" ry="12.2" fill="url(#dicg)" opacity="0.8" filter="url(#bl1)"/><ellipse cx="349.1" cy="598.7" rx="2.9" ry="3.7" fill="#c8c8c8" opacity="0.4" filter="url(#bl1)"/><ellipse cx="317.1" cy="618.0" rx="8.7" ry="10.0" fill="#4a4a4a" fill-opacity="0.0" stroke="#4a4a4a" stroke-width="1.2" opacity="0.36000000000000004" filter="url(#bl1)"/><ellipse cx="317.1" cy="618.0" rx="8.2" ry="9.5" fill="url(#dicg)" opacity="0.8" filter="url(#bl1)"/><ellipse cx="315.0" cy="615.6" rx="2.5" ry="2.8" fill="#c8c8c8" opacity="0.4" filter="url(#bl1)"/><ellipse cx="385.9" cy="611.2" rx="6.5" ry="6.4" fill="#4a4a4a" fill-opacity="0.0" stroke="#4a4a4a" stroke-width="1.2" opacity="0.36000000000000004" filter="url(#bl1)"/><ellipse cx="385.9" cy="611.2" rx="6.2" ry="6.1" fill="url(#dicg)" opacity="0.8" filter="url(#bl1)"/><ellipse cx="384.3" cy="609.7" rx="1.9" ry="1.8" fill="#e0e0e0" opacity="0.4" filter="url(#bl1)"/><ellipse cx="288.2" cy="611.2" rx="5.8" ry="5.7" fill="#4a4a4a" fill-opacity="0.0" stroke="#4a4a4a" stroke-width="1.2" opacity="0.36000000000000004" filter="url(#bl1)"/><ellipse cx="288.2" cy="611.2" rx="5.5" ry="5.4" fill="url(#dicg)" opacity="0.8" filter="url(#bl1)"/><ellipse cx="286.9" cy="609.9" rx="1.7" ry="1.6" fill="#c8c8c8" opacity="0.4" filter="url(#bl1)"/><ellipse cx="344.6" cy="645.2" rx="8.7" ry="12.8" fill="#4a4a4a" fill-opacity="0.0" stroke="#4a4a4a" stroke-width="1.2" opacity="0.36000000000000004" filter="url(#bl1)"/><ellipse cx="344.6" cy="645.2" rx="8.2" ry="12.2" fill="url(#dicg)" opacity="0.8" filter="url(#bl1)"/><ellipse cx="342.5" cy="642.1" rx="2.5" ry="3.7" fill="#c8c8c8" opacity="0.4" filter="url(#bl1)"/><rect x="284.1" y="565.1" width="137.5" height="135.7" filter="url(#grain)"/></g><rect x="344.2" y="680.9" width="72.8" height="8.7" fill="#fff" /><text x="339.5" y="673.8" font-family="Liberation Sans" font-size="23" font-weight="bold" fill="#fff" textLength="62.8" lengthAdjust="spacingAndGlyphs" >75 µm</text><clipPath id="ta2"><rect x="426.2" y="565.1" width="136.8" height="135.7"/></clipPath><g clip-path="url(#ta2)"><linearGradient id="ta2g" x1="0" y1="0" x2="0.2" y2="1"><stop offset="0" stop-color="#777777"/><stop offset="1" stop-color="#6a6a6a"/></linearGradient><rect x="426.2" y="565.1" width="136.8" height="135.7" fill="url(#ta2g)" /><ellipse cx="490.5" cy="614.0" rx="21.9" ry="19.0" fill="#9a9a9a" opacity="0.6" filter="url(#bl3)"/><ellipse cx="483.7" cy="605.8" rx="11.5" ry="11.4" fill="#4a4a4a" fill-opacity="0.0" stroke="#4a4a4a" stroke-width="1.2" opacity="0.36000000000000004" filter="url(#bl1)"/><ellipse cx="483.7" cy="605.8" rx="10.9" ry="10.9" fill="url(#dicg)" opacity="0.8" filter="url(#bl1)"/><ellipse cx="480.9" cy="603.1" rx="3.3" ry="3.3" fill="#c8c8c8" opacity="0.4" filter="url(#bl1)"/><ellipse cx="498.7" cy="588.2" rx="7.2" ry="7.1" fill="#4a4a4a" fill-opacity="0.0" stroke="#4a4a4a" stroke-width="1.2" opacity="0.36000000000000004" filter="url(#bl1)"/><ellipse cx="498.7" cy="588.2" rx="6.8" ry="6.8" fill="url(#dicg)" opacity="0.8" filter="url(#bl1)"/><ellipse cx="497.0" cy="586.5" rx="2.1" ry="2.0" fill="#c8c8c8" opacity="0.4" filter="url(#bl1)"/><ellipse cx="524.7" cy="600.4" rx="11.5" ry="10.0" fill="#4a4a4a" fill-opacity="0.0" stroke="#4a4a4a" stroke-width="1.2" opacity="0.225" filter="url(#bl1)"/><ellipse cx="524.7" cy="600.4" rx="10.9" ry="9.5" fill="url(#dicg)" opacity="0.5" filter="url(#bl1)"/><ellipse cx="522.0" cy="598.0" rx="3.3" ry="2.8" fill="#c8c8c8" opacity="0.25" filter="url(#bl1)"/><ellipse cx="501.4" cy="624.8" rx="8.6" ry="8.5" fill="#4a4a4a" fill-opacity="0.0" stroke="#4a4a4a" stroke-width="1.2" opacity="0.36000000000000004" filter="url(#bl1)"/><ellipse cx="501.4" cy="624.8" rx="8.2" ry="8.1" fill="url(#dicg)" opacity="0.8" filter="url(#bl1)"/><ellipse cx="499.4" cy="622.8" rx="2.5" ry="2.4" fill="#c8c8c8" opacity="0.4" filter="url(#bl1)"/><ellipse cx="558.9" cy="585.5" rx="8.6" ry="8.5" fill="#4a4a4a" fill-opacity="0.0" stroke="#4a4a4a" stroke-width="1.2" opacity="0.405" filter="url(#bl1)"/><ellipse cx="558.9" cy="585.5" rx="8.2" ry="8.1" fill="url(#dicg)" opacity="0.9" filter="url(#bl1)"/><ellipse cx="556.8" cy="583.4" rx="2.5" ry="2.4" fill="#c8c8c8" opacity="0.45" filter="url(#bl1)"/><ellipse cx="560.3" cy="614.0" rx="7.9" ry="7.8" fill="#4a4a4a" fill-opacity="0.0" stroke="#4a4a4a" stroke-width="1.2" opacity="0.405" filter="url(#bl1)"/><ellipse cx="560.3" cy="614.0" rx="7.5" ry="7.5" fill="url(#dicg)" opacity="0.9" filter="url(#bl1)"/><ellipse cx="558.4" cy="612.1" rx="2.3" ry="2.2" fill="#c8c8c8" opacity="0.45" filter="url(#bl1)"/><rect x="426.2" y="565.1" width="136.8" height="135.7" filter="url(#grain)"/></g><rect x="486.9" y="680.9" width="72.8" height="8.7" fill="#fff" /><text x="484.6" y="673.8" font-family="Liberation Sans" font-size="23" font-weight="bold" fill="#fff" textLength="63.3" lengthAdjust="spacingAndGlyphs" >75 µm</text><clipPath id="ta3"><rect x="565.1" y="565.1" width="137.7" height="135.7"/></clipPath><g clip-path="url(#ta3)"><linearGradient id="ta3g" x1="0" y1="0" x2="0.4" y2="1"><stop offset="0" stop-color="#a0a0a0"/><stop offset="1" stop-color="#8f8f8f"/></linearGradient><rect x="565.1" y="565.1" width="137.7" height="135.7" fill="url(#ta3g)" /><ellipse cx="583.0" cy="608.5" rx="8.0" ry="6.4" fill="#777" fill-opacity="0.0" stroke="#777" stroke-width="1.2" opacity="0.36000000000000004" filter="url(#bl1)"/><ellipse cx="583.0" cy="608.5" rx="7.6" ry="6.1" fill="url(#dicg)" opacity="0.8" filter="url(#bl1)"/><ellipse cx="581.1" cy="607.0" rx="2.3" ry="1.8" fill="#f0f0f0" opacity="0.4" filter="url(#bl1)"/><ellipse cx="636.7" cy="601.7" rx="8.7" ry="10.0" fill="#777" fill-opacity="0.0" stroke="#777" stroke-width="1.2" opacity="0.36000000000000004" filter="url(#bl1)"/><ellipse cx="636.7" cy="601.7" rx="8.3" ry="9.5" fill="url(#dicg)" opacity="0.8" filter="url(#bl1)"/><ellipse cx="634.6" cy="599.4" rx="2.5" ry="2.8" fill="#eee" opacity="0.4" filter="url(#bl1)"/><ellipse cx="673.9" cy="605.8" rx="8.0" ry="7.8" fill="#777" fill-opacity="0.0" stroke="#777" stroke-width="1.2" opacity="0.36000000000000004" filter="url(#bl1)"/><ellipse cx="673.9" cy="605.8" rx="7.6" ry="7.5" fill="url(#dicg)" opacity="0.8" filter="url(#bl1)"/><ellipse cx="672.0" cy="603.9" rx="2.3" ry="2.2" fill="#eee" opacity="0.4" filter="url(#bl1)"/><ellipse cx="628.4" cy="679.1" rx="5.1" ry="22.8" fill="#666" fill-opacity="0.0" stroke="#666" stroke-width="1.2" opacity="0.36000000000000004" filter="url(#bl1)"/><ellipse cx="628.4" cy="679.1" rx="4.8" ry="21.7" fill="url(#dicg)" opacity="0.8" filter="url(#bl1)"/><ellipse cx="627.2" cy="673.7" rx="1.4" ry="6.5" fill="#ddd" opacity="0.4" filter="url(#bl1)"/><ellipse cx="693.2" cy="694.0" rx="6.5" ry="6.4" fill="#555" fill-opacity="0.0" stroke="#555" stroke-width="1.2" opacity="0.36000000000000004" filter="url(#bl1)"/><ellipse cx="693.2" cy="694.0" rx="6.2" ry="6.1" fill="url(#dicg)" opacity="0.8" filter="url(#bl1)"/><ellipse cx="691.6" cy="692.5" rx="1.9" ry="1.8" fill="#eee" opacity="0.4" filter="url(#bl1)"/><rect x="565.1" y="565.1" width="137.7" height="135.7" filter="url(#grain)"/></g><rect x="616.3" y="679.4" width="72.8" height="8.5" fill="#fff" /><text x="615.3" y="672.4" font-family="Liberation Sans" font-size="23" font-weight="bold" fill="#fff" textLength="63.2" lengthAdjust="spacingAndGlyphs" >75 µm</text><clipPath id="ta4"><rect x="723.0" y="565.1" width="136.1" height="134.2"/></clipPath><g clip-path="url(#ta4)"><linearGradient id="ta4g" x1="0" y1="0" x2="0.2" y2="1"><stop offset="0" stop-color="#8f8f8f"/><stop offset="1" stop-color="#858585"/></linearGradient><rect x="723.0" y="565.1" width="136.1" height="134.2" fill="url(#ta4g)" /><ellipse cx="743.4" cy="577.2" rx="6.4" ry="9.9" fill="#555" fill-opacity="0.0" stroke="#555" stroke-width="1.2" opacity="0.36000000000000004" filter="url(#bl1)"/><ellipse cx="743.4" cy="577.2" rx="6.1" ry="9.4" fill="url(#dicg)" opacity="0.8" filter="url(#bl1)"/><ellipse cx="741.9" cy="574.8" rx="1.8" ry="2.8" fill="#888" opacity="0.4" filter="url(#bl1)"/><ellipse cx="748.9" cy="669.8" rx="9.5" ry="9.4" fill="#4fb54f" opacity="0.85" filter="url(#bl2)"/><ellipse cx="748.9" cy="668.4" rx="4.8" ry="4.7" fill="#7fe07f" opacity="0.8" filter="url(#bl1)"/><ellipse cx="830.5" cy="675.1" rx="13.6" ry="6.0" fill="#49b049" opacity="0.85" transform="rotate(-15 830.5 675.1)" filter="url(#bl2)"/><ellipse cx="823.7" cy="689.9" rx="5.4" ry="5.4" fill="#555" opacity="0.6" filter="url(#bl2)"/><rect x="723.0" y="565.1" width="136.1" height="134.2" filter="url(#grain)"/></g><rect x="781.1" y="679.4" width="73.0" height="8.5" fill="#fff" /><text x="782.6" y="670.3" font-family="Liberation Sans" font-size="23" font-weight="bold" fill="#fff" textLength="62.6" lengthAdjust="spacingAndGlyphs" >75 µm</text><clipPath id="ta5"><rect x="863.7" y="565.1" width="136.0" height="134.2"/></clipPath><g clip-path="url(#ta5)"><linearGradient id="ta5g" x1="0" y1="0" x2="0.2" y2="1"><stop offset="0" stop-color="#888888"/><stop offset="1" stop-color="#8d8d8d"/></linearGradient><rect x="863.7" y="565.1" width="136.0" height="134.2" fill="url(#ta5g)" /><ellipse cx="886.8" cy="605.4" rx="11.4" ry="11.3" fill="#4a4a4a" fill-opacity="0.0" stroke="#4a4a4a" stroke-width="1.2" opacity="0.36000000000000004" filter="url(#bl1)"/><ellipse cx="886.8" cy="605.4" rx="10.9" ry="10.7" fill="url(#dicg)" opacity="0.8" filter="url(#bl1)"/><ellipse cx="884.1" cy="602.7" rx="3.3" ry="3.2" fill="#c8c8c8" opacity="0.4" filter="url(#bl1)"/><ellipse cx="930.3" cy="634.9" rx="10.7" ry="10.6" fill="#4a4a4a" fill-opacity="0.0" stroke="#4a4a4a" stroke-width="1.2" opacity="0.36000000000000004" filter="url(#bl1)"/><ellipse cx="930.3" cy="634.9" rx="10.2" ry="10.1" fill="url(#dicg)" opacity="0.8" filter="url(#bl1)"/><ellipse cx="927.8" cy="632.4" rx="3.1" ry="3.0" fill="#c8c8c8" opacity="0.4" filter="url(#bl1)"/><ellipse cx="971.1" cy="620.1" rx="10.0" ry="9.9" fill="#4a4a4a" fill-opacity="0.0" stroke="#4a4a4a" stroke-width="1.2" opacity="0.36000000000000004" filter="url(#bl1)"/><ellipse cx="971.1" cy="620.1" rx="9.5" ry="9.4" fill="url(#dicg)" opacity="0.8" filter="url(#bl1)"/><ellipse cx="968.8" cy="617.8" rx="2.9" ry="2.8" fill="#c8c8c8" opacity="0.4" filter="url(#bl1)"/><ellipse cx="895.0" cy="647.0" rx="12.1" ry="12.0" fill="#4a4a4a" fill-opacity="0.0" stroke="#4a4a4a" stroke-width="1.2" opacity="0.36000000000000004" filter="url(#bl1)"/><ellipse cx="895.0" cy="647.0" rx="11.6" ry="11.4" fill="url(#dicg)" opacity="0.8" filter="url(#bl1)"/><ellipse cx="892.1" cy="644.1" rx="3.5" ry="3.4" fill="#c8c8c8" opacity="0.4" filter="url(#bl1)"/><ellipse cx="965.7" cy="649.6" rx="7.1" ry="7.0" fill="#4a4a4a" fill-opacity="0.0" stroke="#4a4a4a" stroke-width="1.2" opacity="0.36000000000000004" filter="url(#bl1)"/><ellipse cx="965.7" cy="649.6" rx="6.8" ry="6.7" fill="url(#dicg)" opacity="0.8" filter="url(#bl1)"/><ellipse cx="964.0" cy="648.0" rx="2.0" ry="2.0" fill="#c8c8c8" opacity="0.4" filter="url(#bl1)"/><ellipse cx="908.6" cy="667.1" rx="7.1" ry="7.0" fill="#3a3a3a" fill-opacity="0.0" stroke="#3a3a3a" stroke-width="1.2" opacity="0.36000000000000004" filter="url(#bl1)"/><ellipse cx="908.6" cy="667.1" rx="6.8" ry="6.7" fill="url(#dicg)" opacity="0.8" filter="url(#bl1)"/><ellipse cx="906.9" cy="665.4" rx="2.0" ry="2.0" fill="#c8c8c8" opacity="0.4" filter="url(#bl1)"/><ellipse cx="942.6" cy="668.4" rx="7.1" ry="7.0" fill="#3a3a3a" fill-opacity="0.0" stroke="#3a3a3a" stroke-width="1.2" opacity="0.36000000000000004" filter="url(#bl1)"/><ellipse cx="942.6" cy="668.4" rx="6.8" ry="6.7" fill="url(#dicg)" opacity="0.8" filter="url(#bl1)"/><ellipse cx="940.9" cy="666.8" rx="2.0" ry="2.0" fill="#c8c8c8" opacity="0.4" filter="url(#bl1)"/><ellipse cx="895.0" cy="648.3" rx="11.6" ry="11.4" fill="#7fe07f" fill-opacity="0.0" stroke="#7fe07f" stroke-width="1.8" opacity="0.7" filter="url(#bl1)"/><ellipse cx="912.7" cy="655.0" rx="6.8" ry="5.4" fill="#6fe06f" opacity="0.8" filter="url(#bl2)"/><ellipse cx="930.3" cy="636.2" rx="10.2" ry="10.1" fill="#9fe09f" fill-opacity="0" stroke="#9fe09f" stroke-width="1.5" opacity="0.45" filter="url(#bl1)"/><rect x="863.7" y="565.1" width="136.0" height="134.2" filter="url(#grain)"/></g><rect x="923.8" y="679.4" width="73.0" height="8.5" fill="#fff" /><text x="919.5" y="670.3" font-family="Liberation Sans" font-size="23" font-weight="bold" fill="#fff" textLength="62.2" lengthAdjust="spacingAndGlyphs" >75 µm</text><clipPath id="ta6"><rect x="1003.9" y="566.6" width="137.9" height="132.7"/></clipPath><g clip-path="url(#ta6)"><linearGradient id="ta6g" x1="0" y1="0" x2="0.6" y2="1"><stop offset="0" stop-color="#676767"/><stop offset="1" stop-color="#767676"/></linearGradient><rect x="1003.9" y="566.6" width="137.9" height="132.7" fill="url(#ta6g)" /><ellipse cx="1032.9" cy="573.2" rx="7.2" ry="7.0" fill="#444" fill-opacity="0.0" stroke="#444" stroke-width="1.2" opacity="0.36000000000000004" filter="url(#bl1)"/><ellipse cx="1032.9" cy="573.2" rx="6.9" ry="6.6" fill="url(#dicg)" opacity="0.8" filter="url(#bl1)"/><ellipse cx="1031.1" cy="571.6" rx="2.1" ry="2.0" fill="#999" opacity="0.4" filter="url(#bl1)"/><ellipse cx="1014.9" cy="644.9" rx="9.4" ry="9.1" fill="#3c3c3c" fill-opacity="0.0" stroke="#3c3c3c" stroke-width="1.2" opacity="0.36000000000000004" filter="url(#bl1)"/><ellipse cx="1014.9" cy="644.9" rx="9.0" ry="8.6" fill="url(#dicg)" opacity="0.8" filter="url(#bl1)"/><ellipse cx="1012.7" cy="642.7" rx="2.7" ry="2.6" fill="#777" opacity="0.4" filter="url(#bl1)"/><ellipse cx="1134.9" cy="633.0" rx="10.1" ry="12.5" fill="#444" fill-opacity="0.0" stroke="#444" stroke-width="1.2" opacity="0.36000000000000004" filter="url(#bl1)"/><ellipse cx="1134.9" cy="633.0" rx="9.7" ry="11.9" fill="url(#dicg)" opacity="0.8" filter="url(#bl1)"/><ellipse cx="1132.5" cy="630.0" rx="2.9" ry="3.6" fill="#888" opacity="0.4" filter="url(#bl1)"/><ellipse cx="1054.9" cy="672.8" rx="4.3" ry="13.9" fill="#444" fill-opacity="0.0" stroke="#444" stroke-width="1.2" opacity="0.36000000000000004" filter="url(#bl1)"/><ellipse cx="1054.9" cy="672.8" rx="4.1" ry="13.3" fill="url(#dicg)" opacity="0.8" transform="rotate(35 1054.9 672.8)" filter="url(#bl1)"/><ellipse cx="1053.9" cy="669.4" rx="1.2" ry="4.0" fill="#bbb" opacity="0.4" transform="rotate(35 1053.9 669.4)" filter="url(#bl1)"/><rect x="1003.9" y="566.6" width="137.9" height="132.7" filter="url(#grain)"/></g><rect x="1058.0" y="678.0" width="73.0" height="8.5" fill="#fff" /><text x="1057.4" y="670.3" font-family="Liberation Sans" font-size="23" font-weight="bold" fill="#fff" textLength="62.6" lengthAdjust="spacingAndGlyphs" >75 µm</text><clipPath id="ta7"><rect x="285.8" y="703.0" width="135.8" height="133.8"/></clipPath><g clip-path="url(#ta7)"><rect x="285.8" y="703.0" width="135.8" height="133.8" fill="#021c02" /><g filter="url(#org)"><ellipse cx="376.8" cy="725.7" rx="12.2" ry="11.4" fill="#2e982e" fill-opacity="0.45" stroke="#2e982e" stroke-width="3" opacity="0.75" filter="url(#bl2)"/><ellipse cx="371.4" cy="748.5" rx="9.5" ry="13.4" fill="#1c661c" opacity="0.8" filter="url(#bl3)"/><ellipse cx="408.0" cy="732.4" rx="9.5" ry="9.4" fill="#1c661c" opacity="0.7" filter="url(#bl3)"/><ellipse cx="295.3" cy="777.9" rx="6.1" ry="6.0" fill="#1c661c" opacity="0.8" filter="url(#bl2)"/><ellipse cx="300.7" cy="807.4" rx="7.5" ry="6.0" fill="#1c661c" opacity="0.8" filter="url(#bl2)"/><ellipse cx="317.0" cy="811.4" rx="4.8" ry="14.7" fill="#1c661c" opacity="0.7" filter="url(#bl2)"/><ellipse cx="359.1" cy="807.4" rx="8.1" ry="8.0" fill="#1c661c" opacity="0.6" filter="url(#bl3)"/><ellipse cx="386.3" cy="804.7" rx="6.8" ry="6.7" fill="#1c661c" opacity="0.5" filter="url(#bl3)"/><ellipse cx="359.1" cy="834.1" rx="9.5" ry="5.4" fill="#1c661c" opacity="0.6" filter="url(#bl3)"/><ellipse cx="421.6" cy="796.7" rx="4.1" ry="8.0" fill="#1c661c" opacity="0.6" filter="url(#bl2)"/></g></g><rect x="344.2" y="815.4" width="72.8" height="8.6" fill="#fff" /><text x="340.5" y="804.0" font-family="Liberation Sans" font-size="23" font-weight="bold" fill="#fff" textLength="63.3" lengthAdjust="spacingAndGlyphs" >75 µm</text><clipPath id="ta8"><rect x="424.9" y="703.0" width="138.5" height="133.8"/></clipPath><g clip-path="url(#ta8)"><rect x="424.9" y="703.0" width="138.5" height="133.8" fill="#031f03" /><g filter="url(#org)"><ellipse cx="494.1" cy="769.9" rx="83.1" ry="80.3" fill="#0a3a0a" opacity="0.7" filter="url(#bl8)"/><ellipse cx="456.8" cy="716.4" rx="15.2" ry="14.7" fill="#2e982e" opacity="0.9" filter="url(#bl3)"/><ellipse cx="483.1" cy="729.8" rx="15.2" ry="13.4" fill="#2e982e" opacity="0.85" filter="url(#bl3)"/><ellipse cx="519.1" cy="712.4" rx="11.1" ry="10.7" fill="#1c661c" opacity="0.9" filter="url(#bl3)"/><ellipse cx="537.1" cy="743.1" rx="19.4" ry="20.1" fill="#2e982e" opacity="0.85" filter="url(#bl3)"/><ellipse cx="548.2" cy="769.9" rx="12.5" ry="12.0" fill="#2e982e" opacity="0.8" filter="url(#bl3)"/><ellipse cx="503.8" cy="767.2" rx="10.4" ry="18.7" fill="#2e982e" opacity="0.7" filter="url(#bl3)"/><ellipse cx="470.6" cy="779.3" rx="10.4" ry="12.0" fill="#2e982e" fill-opacity="0.4" stroke="#2e982e" stroke-width="2.5" opacity="0.85" filter="url(#bl2)"/><ellipse cx="532.9" cy="786.0" rx="12.5" ry="12.0" fill="#2e982e" opacity="0.8" filter="url(#bl3)"/><ellipse cx="440.1" cy="818.1" rx="19.4" ry="13.4" fill="#3fc03f" opacity="0.9" filter="url(#bl3)"/><ellipse cx="514.9" cy="827.4" rx="16.6" ry="10.7" fill="#4ada4a" opacity="0.95" filter="url(#bl3)"/><ellipse cx="516.3" cy="830.1" rx="4.8" ry="4.7" fill="#7fff7f" opacity="1" filter="url(#bl2)"/><ellipse cx="477.5" cy="835.5" rx="13.9" ry="6.7" fill="#2e982e" opacity="0.8" filter="url(#bl3)"/><ellipse cx="427.7" cy="744.5" rx="4.2" ry="9.4" fill="#2e982e" opacity="0.9" filter="url(#bl2)"/><ellipse cx="556.5" cy="810.0" rx="11.1" ry="16.1" fill="#2e982e" opacity="0.7" filter="url(#bl3)"/><ellipse cx="510.8" cy="743.1" rx="4.2" ry="26.8" fill="#021802" opacity="0.8" transform="rotate(-25 510.8 743.1)" filter="url(#bl3)"/><ellipse cx="466.4" cy="807.4" rx="5.5" ry="18.7" fill="#021802" opacity="0.7" transform="rotate(-50 466.4 807.4)" filter="url(#bl3)"/></g></g><rect x="486.9" y="815.4" width="72.8" height="8.6" fill="#fff" /><text x="482.6" y="805.0" font-family="Liberation Sans" font-size="23" font-weight="bold" fill="#fff" textLength="62.8" lengthAdjust="spacingAndGlyphs" >75 µm</text><clipPath id="ta9"><rect x="723.0" y="703.0" width="137.8" height="133.8"/></clipPath><g clip-path="url(#ta9)"><rect x="723.0" y="703.0" width="137.8" height="133.8" fill="#011501" /><g filter="url(#org)"><ellipse cx="745.0" cy="725.7" rx="13.8" ry="21.4" fill="#1c661c" opacity="0.9" transform="rotate(-10 745.0 725.7)" filter="url(#bl3)"/><ellipse cx="750.6" cy="743.1" rx="11.0" ry="6.7" fill="#2e982e" opacity="0.5" filter="url(#bl2)"/><ellipse cx="815.3" cy="712.4" rx="9.0" ry="8.7" fill="#2e982e" fill-opacity="0.5" stroke="#2e982e" stroke-width="2.5" opacity="0.9" filter="url(#bl2)"/><ellipse cx="760.2" cy="769.9" rx="12.4" ry="13.4" fill="#3cc23c" opacity="0.95" filter="url(#bl3)"/><ellipse cx="774.0" cy="777.9" rx="9.6" ry="9.4" fill="#1c661c" opacity="0.8" filter="url(#bl3)"/><ellipse cx="819.5" cy="804.7" rx="27.6" ry="9.4" fill="#1c661c" opacity="0.75" transform="rotate(10 819.5 804.7)" filter="url(#bl3)"/><ellipse cx="841.5" cy="799.3" rx="6.9" ry="14.7" fill="#2e982e" opacity="0.6" transform="rotate(-20 841.5 799.3)" filter="url(#bl2)"/><ellipse cx="785.0" cy="806.0" rx="11.0" ry="6.7" fill="#2e982e" opacity="0.5" filter="url(#bl2)"/></g></g><rect x="779.9" y="815.4" width="72.8" height="8.6" fill="#fff" /><text x="773.3" y="804.7" font-family="Liberation Sans" font-size="23" font-weight="bold" fill="#fff" textLength="63.2" lengthAdjust="spacingAndGlyphs" >75 µm</text><clipPath id="ta10"><rect x="863.7" y="703.0" width="136.0" height="133.8"/></clipPath><g clip-path="url(#ta10)"><rect x="863.7" y="703.0" width="136.0" height="133.8" fill="#021802" /><g filter="url(#org)"><ellipse cx="877.3" cy="705.7" rx="12.2" ry="8.0" fill="#2e982e" opacity="0.9" filter="url(#bl2)"/><ellipse cx="912.7" cy="711.0" rx="8.2" ry="9.4" fill="#2e982e" opacity="0.9" filter="url(#bl2)"/><ellipse cx="867.8" cy="728.4" rx="5.4" ry="8.0" fill="#3fc83f" opacity="1" filter="url(#bl2)"/><ellipse cx="888.2" cy="744.5" rx="16.3" ry="12.0" fill="#2e982e" opacity="0.9" transform="rotate(-15 888.2 744.5)" filter="url(#bl3)"/><ellipse cx="888.2" cy="760.5" rx="6.8" ry="12.0" fill="#2e982e" opacity="0.7" transform="rotate(25 888.2 760.5)" filter="url(#bl2)"/><ellipse cx="948.0" cy="731.1" rx="8.2" ry="13.4" fill="#2e982e" opacity="0.85" transform="rotate(15 948.0 731.1)" filter="url(#bl2)"/><ellipse cx="967.1" cy="744.5" rx="19.0" ry="6.7" fill="#2e982e" opacity="0.85" transform="rotate(5 967.1 744.5)" filter="url(#bl2)"/><ellipse cx="992.9" cy="739.1" rx="9.5" ry="9.4" fill="#1c661c" opacity="0.5" filter="url(#bl4)"/><ellipse cx="926.3" cy="769.9" rx="8.8" ry="10.0" fill="#2e982e" opacity="0.9" filter="url(#bl2)"/><ellipse cx="998.3" cy="765.9" rx="5.4" ry="8.0" fill="#4ada4a" opacity="1" filter="url(#bl2)"/><ellipse cx="903.1" cy="803.3" rx="8.8" ry="8.7" fill="#46d846" fill-opacity="0.45" stroke="#46d846" stroke-width="3.5" opacity="1" filter="url(#bl2)"/><ellipse cx="931.7" cy="820.7" rx="9.5" ry="6.7" fill="#2e982e" opacity="0.7" filter="url(#bl3)"/></g></g><rect x="922.2" y="814.4" width="73.0" height="8.5" fill="#fff" /><text x="918.4" y="804.0" font-family="Liberation Sans" font-size="23" font-weight="bold" fill="#fff" textLength="63.3" lengthAdjust="spacingAndGlyphs" >75 µm</text><clipPath id="ta11"><rect x="284.1" y="843.1" width="137.5" height="133.9"/></clipPath><g clip-path="url(#ta11)"><linearGradient id="ta11g" x1="0" y1="0" x2="1" y2="0.3"><stop offset="0" stop-color="#7c7c7c"/><stop offset="1" stop-color="#6c6c6c"/></linearGradient><rect x="284.1" y="843.1" width="137.5" height="133.9" fill="url(#ta11g)" /><ellipse cx="321.2" cy="875.2" rx="8.7" ry="8.4" fill="#2e2e2e" fill-opacity="0.0" stroke="#2e2e2e" stroke-width="1.2" opacity="0.4275" filter="url(#bl1)"/><ellipse cx="321.2" cy="875.2" rx="8.2" ry="8.0" fill="url(#dicg)" opacity="0.95" filter="url(#bl1)"/><ellipse cx="319.2" cy="873.2" rx="2.5" ry="2.4" fill="#a8a8a8" opacity="0.475" filter="url(#bl1)"/><ellipse cx="318.5" cy="891.3" rx="8.7" ry="8.4" fill="#2e2e2e" fill-opacity="0.0" stroke="#2e2e2e" stroke-width="1.2" opacity="0.4275" filter="url(#bl1)"/><ellipse cx="318.5" cy="891.3" rx="8.2" ry="8.0" fill="url(#dicg)" opacity="0.95" filter="url(#bl1)"/><ellipse cx="316.4" cy="889.3" rx="2.5" ry="2.4" fill="#a8a8a8" opacity="0.475" filter="url(#bl1)"/><ellipse cx="329.5" cy="902.0" rx="8.7" ry="8.4" fill="#2e2e2e" fill-opacity="0.0" stroke="#2e2e2e" stroke-width="1.2" opacity="0.4275" filter="url(#bl1)"/><ellipse cx="329.5" cy="902.0" rx="8.2" ry="8.0" fill="url(#dicg)" opacity="0.95" filter="url(#bl1)"/><ellipse cx="327.4" cy="900.0" rx="2.5" ry="2.4" fill="#a8a8a8" opacity="0.475" filter="url(#bl1)"/><ellipse cx="339.1" cy="912.7" rx="8.7" ry="8.4" fill="#2e2e2e" fill-opacity="0.0" stroke="#2e2e2e" stroke-width="1.2" opacity="0.4275" filter="url(#bl1)"/><ellipse cx="339.1" cy="912.7" rx="8.2" ry="8.0" fill="url(#dicg)" opacity="0.95" filter="url(#bl1)"/><ellipse cx="337.0" cy="910.7" rx="2.5" ry="2.4" fill="#a8a8a8" opacity="0.475" filter="url(#bl1)"/><ellipse cx="348.7" cy="920.8" rx="8.7" ry="8.4" fill="#2e2e2e" fill-opacity="0.0" stroke="#2e2e2e" stroke-width="1.2" opacity="0.4275" filter="url(#bl1)"/><ellipse cx="348.7" cy="920.8" rx="8.2" ry="8.0" fill="url(#dicg)" opacity="0.95" filter="url(#bl1)"/><ellipse cx="346.7" cy="918.8" rx="2.5" ry="2.4" fill="#a8a8a8" opacity="0.475" filter="url(#bl1)"/><ellipse cx="361.1" cy="926.1" rx="8.7" ry="8.4" fill="#2e2e2e" fill-opacity="0.0" stroke="#2e2e2e" stroke-width="1.2" opacity="0.4275" filter="url(#bl1)"/><ellipse cx="361.1" cy="926.1" rx="8.2" ry="8.0" fill="url(#dicg)" opacity="0.95" filter="url(#bl1)"/><ellipse cx="359.0" cy="924.1" rx="2.5" ry="2.4" fill="#a8a8a8" opacity="0.475" filter="url(#bl1)"/><ellipse cx="372.1" cy="928.8" rx="8.7" ry="8.4" fill="#2e2e2e" fill-opacity="0.0" stroke="#2e2e2e" stroke-width="1.2" opacity="0.4275" filter="url(#bl1)"/><ellipse cx="372.1" cy="928.8" rx="8.2" ry="8.0" fill="url(#dicg)" opacity="0.95" filter="url(#bl1)"/><ellipse cx="370.0" cy="926.8" rx="2.5" ry="2.4" fill="#a8a8a8" opacity="0.475" filter="url(#bl1)"/><ellipse cx="394.1" cy="863.2" rx="7.9" ry="7.7" fill="#2e2e2e" fill-opacity="0.0" stroke="#2e2e2e" stroke-width="1.2" opacity="0.3825" filter="url(#bl1)"/><ellipse cx="394.1" cy="863.2" rx="7.6" ry="7.4" fill="url(#dicg)" opacity="0.85" filter="url(#bl1)"/><ellipse cx="392.2" cy="861.3" rx="2.3" ry="2.2" fill="#aaa" opacity="0.425" filter="url(#bl1)"/><ellipse cx="407.9" cy="869.9" rx="7.9" ry="7.7" fill="#2e2e2e" fill-opacity="0.0" stroke="#2e2e2e" stroke-width="1.2" opacity="0.3825" filter="url(#bl1)"/><ellipse cx="407.9" cy="869.9" rx="7.6" ry="7.4" fill="url(#dicg)" opacity="0.85" filter="url(#bl1)"/><ellipse cx="406.0" cy="868.0" rx="2.3" ry="2.2" fill="#aaa" opacity="0.425" filter="url(#bl1)"/><ellipse cx="398.2" cy="883.3" rx="7.9" ry="7.7" fill="#2e2e2e" fill-opacity="0.0" stroke="#2e2e2e" stroke-width="1.2" opacity="0.3825" filter="url(#bl1)"/><ellipse cx="398.2" cy="883.3" rx="7.6" ry="7.4" fill="url(#dicg)" opacity="0.85" filter="url(#bl1)"/><ellipse cx="396.3" cy="881.4" rx="2.3" ry="2.2" fill="#aaa" opacity="0.425" filter="url(#bl1)"/><ellipse cx="412.0" cy="885.9" rx="7.9" ry="7.7" fill="#2e2e2e" fill-opacity="0.0" stroke="#2e2e2e" stroke-width="1.2" opacity="0.3825" filter="url(#bl1)"/><ellipse cx="412.0" cy="885.9" rx="7.6" ry="7.4" fill="url(#dicg)" opacity="0.85" filter="url(#bl1)"/><ellipse cx="410.1" cy="884.1" rx="2.3" ry="2.2" fill="#aaa" opacity="0.425" filter="url(#bl1)"/><ellipse cx="394.1" cy="900.7" rx="7.9" ry="7.7" fill="#2e2e2e" fill-opacity="0.0" stroke="#2e2e2e" stroke-width="1.2" opacity="0.3825" filter="url(#bl1)"/><ellipse cx="394.1" cy="900.7" rx="7.6" ry="7.4" fill="url(#dicg)" opacity="0.85" filter="url(#bl1)"/><ellipse cx="392.2" cy="898.8" rx="2.3" ry="2.2" fill="#aaa" opacity="0.425" filter="url(#bl1)"/><ellipse cx="417.5" cy="910.0" rx="7.9" ry="7.7" fill="#2e2e2e" fill-opacity="0.0" stroke="#2e2e2e" stroke-width="1.2" opacity="0.3825" filter="url(#bl1)"/><ellipse cx="417.5" cy="910.0" rx="7.6" ry="7.4" fill="url(#dicg)" opacity="0.85" filter="url(#bl1)"/><ellipse cx="415.6" cy="908.2" rx="2.3" ry="2.2" fill="#aaa" opacity="0.425" filter="url(#bl1)"/><ellipse cx="412.0" cy="923.4" rx="7.9" ry="7.7" fill="#2e2e2e" fill-opacity="0.0" stroke="#2e2e2e" stroke-width="1.2" opacity="0.3825" filter="url(#bl1)"/><ellipse cx="412.0" cy="923.4" rx="7.6" ry="7.4" fill="url(#dicg)" opacity="0.85" filter="url(#bl1)"/><ellipse cx="410.1" cy="921.6" rx="2.3" ry="2.2" fill="#aaa" opacity="0.425" filter="url(#bl1)"/><ellipse cx="332.2" cy="848.5" rx="8.7" ry="7.0" fill="#444" fill-opacity="0.0" stroke="#444" stroke-width="1.2" opacity="0.36000000000000004" filter="url(#bl1)"/><ellipse cx="332.2" cy="848.5" rx="8.2" ry="6.7" fill="url(#dicg)" opacity="0.8" filter="url(#bl1)"/><ellipse cx="330.2" cy="846.8" rx="2.5" ry="2.0" fill="#888" opacity="0.4" filter="url(#bl1)"/><rect x="284.1" y="843.1" width="137.5" height="133.9" filter="url(#grain)"/></g><rect x="344.2" y="955.9" width="72.8" height="8.5" fill="#fff" /><text x="344.2" y="946.5" font-family="Liberation Sans" font-size="23" font-weight="bold" fill="#fff" textLength="62.7" lengthAdjust="spacingAndGlyphs" >75 µm</text><clipPath id="ta12"><rect x="426.2" y="843.1" width="135.6" height="133.9"/></clipPath><g clip-path="url(#ta12)"><rect x="426.2" y="843.1" width="135.6" height="133.9" fill="#6f6f6f" /><rect x="426.2" y="843.1" width="135.6" height="133.9" filter="url(#nzd)" opacity="0.5"/><ellipse cx="510.7" cy="942.4" rx="9.1" ry="10.9" fill="#333" fill-opacity="0.0" stroke="#333" stroke-width="1.2" opacity="0.27" filter="url(#bl1)"/><ellipse cx="510.7" cy="942.4" rx="8.7" ry="10.4" fill="url(#dicg)" opacity="0.6" filter="url(#bl1)"/><ellipse cx="508.5" cy="939.8" rx="2.6" ry="3.1" fill="#a8a8a8" opacity="0.3" filter="url(#bl1)"/><ellipse cx="526.5" cy="966.6" rx="5.8" ry="8.2" fill="#333" fill-opacity="0.0" stroke="#333" stroke-width="1.2" opacity="0.27" filter="url(#bl1)"/><ellipse cx="526.5" cy="966.6" rx="5.5" ry="7.8" fill="url(#dicg)" opacity="0.6" filter="url(#bl1)"/><ellipse cx="525.1" cy="964.6" rx="1.7" ry="2.4" fill="#a8a8a8" opacity="0.3" filter="url(#bl1)"/><ellipse cx="548.4" cy="858.3" rx="7.7" ry="7.0" fill="#333" fill-opacity="0.0" stroke="#333" stroke-width="1.2" opacity="0.27" filter="url(#bl1)"/><ellipse cx="548.4" cy="858.3" rx="7.3" ry="6.7" fill="url(#dicg)" opacity="0.6" filter="url(#bl1)"/><ellipse cx="546.5" cy="856.6" rx="2.2" ry="2.0" fill="#a8a8a8" opacity="0.3" filter="url(#bl1)"/><ellipse cx="499.9" cy="920.0" rx="5.8" ry="6.8" fill="#333" fill-opacity="0.0" stroke="#333" stroke-width="1.2" opacity="0.27" filter="url(#bl1)"/><ellipse cx="499.9" cy="920.0" rx="5.5" ry="6.5" fill="url(#dicg)" opacity="0.6" filter="url(#bl1)"/><ellipse cx="498.6" cy="918.3" rx="1.6" ry="2.0" fill="#a8a8a8" opacity="0.3" filter="url(#bl1)"/><ellipse cx="464.1" cy="965.8" rx="9.0" ry="6.5" fill="#333" fill-opacity="0.0" stroke="#333" stroke-width="1.2" opacity="0.27" filter="url(#bl1)"/><ellipse cx="464.1" cy="965.8" rx="8.5" ry="6.2" fill="url(#dicg)" opacity="0.6" filter="url(#bl1)"/><ellipse cx="462.0" cy="964.2" rx="2.6" ry="1.9" fill="#a8a8a8" opacity="0.3" filter="url(#bl1)"/><ellipse cx="534.3" cy="861.7" rx="8.3" ry="6.3" fill="#333" fill-opacity="0.0" stroke="#333" stroke-width="1.2" opacity="0.27" filter="url(#bl1)"/><ellipse cx="534.3" cy="861.7" rx="7.9" ry="6.0" fill="url(#dicg)" opacity="0.6" filter="url(#bl1)"/><ellipse cx="532.3" cy="860.2" rx="2.4" ry="1.8" fill="#a8a8a8" opacity="0.3" filter="url(#bl1)"/><ellipse cx="426.4" cy="959.8" rx="6.6" ry="6.8" fill="#333" fill-opacity="0.0" stroke="#333" stroke-width="1.2" opacity="0.27" filter="url(#bl1)"/><ellipse cx="426.4" cy="959.8" rx="6.3" ry="6.5" fill="url(#dicg)" opacity="0.6" filter="url(#bl1)"/><ellipse cx="424.9" cy="958.2" rx="1.9" ry="2.0" fill="#a8a8a8" opacity="0.3" filter="url(#bl1)"/><ellipse cx="559.4" cy="959.9" rx="6.9" ry="11.0" fill="#333" fill-opacity="0.0" stroke="#333" stroke-width="1.2" opacity="0.27" filter="url(#bl1)"/><ellipse cx="559.4" cy="959.9" rx="6.6" ry="10.5" fill="url(#dicg)" opacity="0.6" filter="url(#bl1)"/><ellipse cx="557.8" cy="957.3" rx="2.0" ry="3.2" fill="#a8a8a8" opacity="0.3" filter="url(#bl1)"/><ellipse cx="499.3" cy="933.9" rx="6.6" ry="10.9" fill="#333" fill-opacity="0.0" stroke="#333" stroke-width="1.2" opacity="0.27" filter="url(#bl1)"/><ellipse cx="499.3" cy="933.9" rx="6.3" ry="10.4" fill="url(#dicg)" opacity="0.6" filter="url(#bl1)"/><ellipse cx="497.8" cy="931.3" rx="1.9" ry="3.1" fill="#a8a8a8" opacity="0.3" filter="url(#bl1)"/><ellipse cx="519.9" cy="972.5" rx="9.5" ry="7.3" fill="#333" fill-opacity="0.0" stroke="#333" stroke-width="1.2" opacity="0.27" filter="url(#bl1)"/><ellipse cx="519.9" cy="972.5" rx="9.1" ry="7.0" fill="url(#dicg)" opacity="0.6" filter="url(#bl1)"/><ellipse cx="517.6" cy="970.8" rx="2.7" ry="2.1" fill="#a8a8a8" opacity="0.3" filter="url(#bl1)"/><ellipse cx="475.2" cy="865.3" rx="6.3" ry="6.0" fill="#333" fill-opacity="0.0" stroke="#333" stroke-width="1.2" opacity="0.27" filter="url(#bl1)"/><ellipse cx="475.2" cy="865.3" rx="6.0" ry="5.7" fill="url(#dicg)" opacity="0.6" filter="url(#bl1)"/><ellipse cx="473.7" cy="863.9" rx="1.8" ry="1.7" fill="#a8a8a8" opacity="0.3" filter="url(#bl1)"/><ellipse cx="467.1" cy="923.9" rx="5.7" ry="9.4" fill="#333" fill-opacity="0.0" stroke="#333" stroke-width="1.2" opacity="0.27" filter="url(#bl1)"/><ellipse cx="467.1" cy="923.9" rx="5.4" ry="9.0" fill="url(#dicg)" opacity="0.6" filter="url(#bl1)"/><ellipse cx="465.7" cy="921.6" rx="1.6" ry="2.7" fill="#a8a8a8" opacity="0.3" filter="url(#bl1)"/><ellipse cx="472.0" cy="884.6" rx="9.2" ry="8.3" fill="#333" fill-opacity="0.0" stroke="#333" stroke-width="1.2" opacity="0.27" filter="url(#bl1)"/><ellipse cx="472.0" cy="884.6" rx="8.8" ry="7.9" fill="url(#dicg)" opacity="0.6" filter="url(#bl1)"/><ellipse cx="469.8" cy="882.6" rx="2.6" ry="2.4" fill="#a8a8a8" opacity="0.3" filter="url(#bl1)"/><ellipse cx="469.0" cy="907.5" rx="8.7" ry="5.9" fill="#333" fill-opacity="0.0" stroke="#333" stroke-width="1.2" opacity="0.27" filter="url(#bl1)"/><ellipse cx="469.0" cy="907.5" rx="8.3" ry="5.7" fill="url(#dicg)" opacity="0.6" filter="url(#bl1)"/><ellipse cx="466.9" cy="906.1" rx="2.5" ry="1.7" fill="#a8a8a8" opacity="0.3" filter="url(#bl1)"/><ellipse cx="558.4" cy="846.2" rx="8.9" ry="10.4" fill="#333" fill-opacity="0.0" stroke="#333" stroke-width="1.2" opacity="0.27" filter="url(#bl1)"/><ellipse cx="558.4" cy="846.2" rx="8.5" ry="9.9" fill="url(#dicg)" opacity="0.6" filter="url(#bl1)"/><ellipse cx="556.3" cy="843.7" rx="2.5" ry="3.0" fill="#a8a8a8" opacity="0.3" filter="url(#bl1)"/><ellipse cx="428.6" cy="948.6" rx="7.3" ry="8.9" fill="#333" fill-opacity="0.0" stroke="#333" stroke-width="1.2" opacity="0.27" filter="url(#bl1)"/><ellipse cx="428.6" cy="948.6" rx="6.9" ry="8.5" fill="url(#dicg)" opacity="0.6" filter="url(#bl1)"/><ellipse cx="426.9" cy="946.5" rx="2.1" ry="2.5" fill="#a8a8a8" opacity="0.3" filter="url(#bl1)"/><ellipse cx="427.4" cy="849.4" rx="6.5" ry="11.0" fill="#333" fill-opacity="0.0" stroke="#333" stroke-width="1.2" opacity="0.27" filter="url(#bl1)"/><ellipse cx="427.4" cy="849.4" rx="6.2" ry="10.5" fill="url(#dicg)" opacity="0.6" filter="url(#bl1)"/><ellipse cx="425.9" cy="846.7" rx="1.8" ry="3.1" fill="#a8a8a8" opacity="0.3" filter="url(#bl1)"/><ellipse cx="452.8" cy="944.3" rx="9.7" ry="10.9" fill="#333" fill-opacity="0.0" stroke="#333" stroke-width="1.2" opacity="0.27" filter="url(#bl1)"/><ellipse cx="452.8" cy="944.3" rx="9.2" ry="10.4" fill="url(#dicg)" opacity="0.6" filter="url(#bl1)"/><ellipse cx="450.5" cy="941.7" rx="2.8" ry="3.1" fill="#a8a8a8" opacity="0.3" filter="url(#bl1)"/><ellipse cx="472.9" cy="890.6" rx="7.9" ry="10.0" fill="#333" fill-opacity="0.0" stroke="#333" stroke-width="1.2" opacity="0.27" filter="url(#bl1)"/><ellipse cx="472.9" cy="890.6" rx="7.6" ry="9.5" fill="url(#dicg)" opacity="0.6" filter="url(#bl1)"/><ellipse cx="471.0" cy="888.2" rx="2.3" ry="2.9" fill="#a8a8a8" opacity="0.3" filter="url(#bl1)"/><ellipse cx="440.9" cy="943.3" rx="9.1" ry="10.5" fill="#333" fill-opacity="0.0" stroke="#333" stroke-width="1.2" opacity="0.27" filter="url(#bl1)"/><ellipse cx="440.9" cy="943.3" rx="8.7" ry="10.0" fill="url(#dicg)" opacity="0.6" filter="url(#bl1)"/><ellipse cx="438.7" cy="940.8" rx="2.6" ry="3.0" fill="#a8a8a8" opacity="0.3" filter="url(#bl1)"/><ellipse cx="431.2" cy="969.7" rx="6.1" ry="7.5" fill="#333" fill-opacity="0.0" stroke="#333" stroke-width="1.2" opacity="0.27" filter="url(#bl1)"/><ellipse cx="431.2" cy="969.7" rx="5.8" ry="7.2" fill="url(#dicg)" opacity="0.6" filter="url(#bl1)"/><ellipse cx="429.7" cy="967.9" rx="1.7" ry="2.2" fill="#a8a8a8" opacity="0.3" filter="url(#bl1)"/><ellipse cx="509.0" cy="966.0" rx="7.1" ry="10.8" fill="#333" fill-opacity="0.0" stroke="#333" stroke-width="1.2" opacity="0.27" filter="url(#bl1)"/><ellipse cx="509.0" cy="966.0" rx="6.8" ry="10.3" fill="url(#dicg)" opacity="0.6" filter="url(#bl1)"/><ellipse cx="507.3" cy="963.5" rx="2.0" ry="3.1" fill="#a8a8a8" opacity="0.3" filter="url(#bl1)"/><ellipse cx="500.1" cy="884.9" rx="7.0" ry="6.6" fill="#333" fill-opacity="0.0" stroke="#333" stroke-width="1.2" opacity="0.27" filter="url(#bl1)"/><ellipse cx="500.1" cy="884.9" rx="6.7" ry="6.3" fill="url(#dicg)" opacity="0.6" filter="url(#bl1)"/><ellipse cx="498.4" cy="883.4" rx="2.0" ry="1.9" fill="#a8a8a8" opacity="0.3" filter="url(#bl1)"/><ellipse cx="436.8" cy="863.0" rx="8.6" ry="11.2" fill="#333" fill-opacity="0.0" stroke="#333" stroke-width="1.2" opacity="0.27" filter="url(#bl1)"/><ellipse cx="436.8" cy="863.0" rx="8.2" ry="10.7" fill="url(#dicg)" opacity="0.6" filter="url(#bl1)"/><ellipse cx="434.7" cy="860.4" rx="2.5" ry="3.2" fill="#a8a8a8" opacity="0.3" filter="url(#bl1)"/><ellipse cx="448.1" cy="849.6" rx="9.9" ry="8.6" fill="#333" fill-opacity="0.0" stroke="#333" stroke-width="1.2" opacity="0.27" filter="url(#bl1)"/><ellipse cx="448.1" cy="849.6" rx="9.4" ry="8.2" fill="url(#dicg)" opacity="0.6" filter="url(#bl1)"/><ellipse cx="445.7" cy="847.5" rx="2.8" ry="2.5" fill="#a8a8a8" opacity="0.3" filter="url(#bl1)"/><ellipse cx="481.2" cy="874.9" rx="8.2" ry="10.3" fill="#333" fill-opacity="0.0" stroke="#333" stroke-width="1.2" opacity="0.27" filter="url(#bl1)"/><ellipse cx="481.2" cy="874.9" rx="7.8" ry="9.8" fill="url(#dicg)" opacity="0.6" filter="url(#bl1)"/><ellipse cx="479.3" cy="872.4" rx="2.4" ry="2.9" fill="#a8a8a8" opacity="0.3" filter="url(#bl1)"/><ellipse cx="488.0" cy="899.6" rx="5.9" ry="10.8" fill="#333" fill-opacity="0.0" stroke="#333" stroke-width="1.2" opacity="0.27" filter="url(#bl1)"/><ellipse cx="488.0" cy="899.6" rx="5.7" ry="10.3" fill="url(#dicg)" opacity="0.6" filter="url(#bl1)"/><ellipse cx="486.6" cy="897.0" rx="1.7" ry="3.1" fill="#a8a8a8" opacity="0.3" filter="url(#bl1)"/><ellipse cx="430.6" cy="909.2" rx="9.3" ry="6.4" fill="#333" fill-opacity="0.0" stroke="#333" stroke-width="1.2" opacity="0.27" filter="url(#bl1)"/><ellipse cx="430.6" cy="909.2" rx="8.8" ry="6.1" fill="url(#dicg)" opacity="0.6" filter="url(#bl1)"/><ellipse cx="428.4" cy="907.7" rx="2.7" ry="1.8" fill="#a8a8a8" opacity="0.3" filter="url(#bl1)"/><ellipse cx="525.4" cy="970.3" rx="8.4" ry="10.1" fill="#333" fill-opacity="0.0" stroke="#333" stroke-width="1.2" opacity="0.27" filter="url(#bl1)"/><ellipse cx="525.4" cy="970.3" rx="8.0" ry="9.6" fill="url(#dicg)" opacity="0.6" filter="url(#bl1)"/><ellipse cx="523.4" cy="967.9" rx="2.4" ry="2.9" fill="#a8a8a8" opacity="0.3" filter="url(#bl1)"/><ellipse cx="440.7" cy="901.3" rx="6.3" ry="10.4" fill="#333" fill-opacity="0.0" stroke="#333" stroke-width="1.2" opacity="0.27" filter="url(#bl1)"/><ellipse cx="440.7" cy="901.3" rx="6.0" ry="9.9" fill="url(#dicg)" opacity="0.6" filter="url(#bl1)"/><ellipse cx="439.2" cy="898.8" rx="1.8" ry="3.0" fill="#a8a8a8" opacity="0.3" filter="url(#bl1)"/><ellipse cx="466.2" cy="903.8" rx="10.0" ry="10.4" fill="#333" fill-opacity="0.0" stroke="#333" stroke-width="1.2" opacity="0.27" filter="url(#bl1)"/><ellipse cx="466.2" cy="903.8" rx="9.5" ry="9.9" fill="url(#dicg)" opacity="0.6" filter="url(#bl1)"/><ellipse cx="463.8" cy="901.3" rx="2.8" ry="3.0" fill="#a8a8a8" opacity="0.3" filter="url(#bl1)"/><ellipse cx="492.4" cy="940.8" rx="7.7" ry="7.3" fill="#333" fill-opacity="0.0" stroke="#333" stroke-width="1.2" opacity="0.27" filter="url(#bl1)"/><ellipse cx="492.4" cy="940.8" rx="7.4" ry="6.9" fill="url(#dicg)" opacity="0.6" filter="url(#bl1)"/><ellipse cx="490.6" cy="939.1" rx="2.2" ry="2.1" fill="#a8a8a8" opacity="0.3" filter="url(#bl1)"/><ellipse cx="439.8" cy="876.6" rx="5.4" ry="5.4" fill="#3a8a3a" opacity="0.6" filter="url(#bl2)"/><ellipse cx="551.0" cy="883.3" rx="1.6" ry="1.6" fill="#9f9" opacity="0.9" filter="url(#bl1)"/><ellipse cx="559.1" cy="871.2" rx="1.6" ry="1.6" fill="#9f9" opacity="0.9" filter="url(#bl1)"/><ellipse cx="431.6" cy="954.2" rx="1.6" ry="1.6" fill="#9f9" opacity="0.9" filter="url(#bl1)"/><ellipse cx="456.0" cy="948.9" rx="4.1" ry="4.0" fill="#222" opacity="0.8" filter="url(#bl1)"/><rect x="426.2" y="843.1" width="135.6" height="133.9" filter="url(#grain)"/></g><rect x="486.9" y="955.0" width="72.8" height="8.3" fill="#fff" /><text x="482.6" y="947.8" font-family="Liberation Sans" font-size="23" font-weight="bold" fill="#fff" textLength="62.8" lengthAdjust="spacingAndGlyphs" >75 µm</text><clipPath id="ta13"><rect x="565.1" y="843.1" width="135.9" height="134.6"/></clipPath><g clip-path="url(#ta13)"><linearGradient id="ta13g" x1="0" y1="0" x2="1" y2="0.6"><stop offset="0" stop-color="#a6a6a6"/><stop offset="1" stop-color="#9b9b9b"/></linearGradient><rect x="565.1" y="843.1" width="135.9" height="134.6" fill="url(#ta13g)" /><ellipse cx="626.3" cy="890.2" rx="7.1" ry="11.3" fill="#808080" fill-opacity="0.0" stroke="#808080" stroke-width="1.2" opacity="0.315" filter="url(#bl1)"/><ellipse cx="626.3" cy="890.2" rx="6.8" ry="10.8" fill="url(#dicg)" opacity="0.7" filter="url(#bl1)"/><ellipse cx="624.6" cy="887.5" rx="2.0" ry="3.2" fill="#b8b8b8" opacity="0.35" filter="url(#bl1)"/><ellipse cx="584.1" cy="910.4" rx="7.1" ry="7.1" fill="#808080" fill-opacity="0.0" stroke="#808080" stroke-width="1.2" opacity="0.315" filter="url(#bl1)"/><ellipse cx="584.1" cy="910.4" rx="6.8" ry="6.7" fill="url(#dicg)" opacity="0.7" filter="url(#bl1)"/><ellipse cx="582.4" cy="908.7" rx="2.0" ry="2.0" fill="#b8b8b8" opacity="0.35" filter="url(#bl1)"/><ellipse cx="667.0" cy="883.5" rx="8.6" ry="14.1" fill="#858585" fill-opacity="0.0" stroke="#858585" stroke-width="1.2" opacity="0.27" filter="url(#bl1)"/><ellipse cx="667.0" cy="883.5" rx="8.2" ry="13.5" fill="url(#dicg)" opacity="0.6" filter="url(#bl1)"/><ellipse cx="665.0" cy="880.1" rx="2.4" ry="4.0" fill="#b5b5b5" opacity="0.3" filter="url(#bl1)"/><ellipse cx="653.4" cy="863.3" rx="8.6" ry="8.5" fill="#888" fill-opacity="0.0" stroke="#888" stroke-width="1.2" opacity="0.225" filter="url(#bl1)"/><ellipse cx="653.4" cy="863.3" rx="8.2" ry="8.1" fill="url(#dicg)" opacity="0.5" filter="url(#bl1)"/><ellipse cx="651.4" cy="861.3" rx="2.4" ry="2.4" fill="#b5b5b5" opacity="0.25" filter="url(#bl1)"/><ellipse cx="612.7" cy="937.3" rx="11.4" ry="11.3" fill="#8a8a8a" fill-opacity="0.0" stroke="#8a8a8a" stroke-width="1.2" opacity="0.225" filter="url(#bl1)"/><ellipse cx="612.7" cy="937.3" rx="10.9" ry="10.8" fill="url(#dicg)" opacity="0.5" filter="url(#bl1)"/><ellipse cx="609.9" cy="934.6" rx="3.3" ry="3.2" fill="#aaa" opacity="0.25" filter="url(#bl1)"/><rect x="565.1" y="843.1" width="135.9" height="134.6" filter="url(#grain)"/></g><rect x="621.9" y="955.0" width="72.8" height="8.3" fill="#fff" /><text x="619.4" y="948.5" font-family="Liberation Sans" font-size="23" font-weight="bold" fill="#fff" textLength="62.2" lengthAdjust="spacingAndGlyphs" >75 µm</text><clipPath id="ta14"><rect x="723.0" y="844.5" width="136.1" height="134.0"/></clipPath><g clip-path="url(#ta14)"><linearGradient id="ta14g" x1="0" y1="0" x2="0.3" y2="1"><stop offset="0" stop-color="#7a7a7a"/><stop offset="1" stop-color="#828282"/></linearGradient><rect x="723.0" y="844.5" width="136.1" height="134.0" fill="url(#ta14g)" /><ellipse cx="770.6" cy="911.5" rx="8.6" ry="8.4" fill="#505050" fill-opacity="0.0" stroke="#505050" stroke-width="1.2" opacity="0.36000000000000004" filter="url(#bl1)"/><ellipse cx="770.6" cy="911.5" rx="8.2" ry="8.0" fill="url(#dicg)" opacity="0.8" filter="url(#bl1)"/><ellipse cx="768.6" cy="909.5" rx="2.4" ry="2.4" fill="#bbb" opacity="0.4" filter="url(#bl1)"/><ellipse cx="807.4" cy="903.5" rx="7.5" ry="7.4" fill="#6fcf6f" opacity="0.8" filter="url(#bl2)"/><ellipse cx="807.4" cy="902.1" rx="4.1" ry="4.0" fill="#cfeecf" opacity="0.8" filter="url(#bl1)"/><ellipse cx="727.1" cy="931.6" rx="5.7" ry="5.6" fill="#555" fill-opacity="0.0" stroke="#555" stroke-width="1.2" opacity="0.36000000000000004" filter="url(#bl1)"/><ellipse cx="727.1" cy="931.6" rx="5.4" ry="5.4" fill="url(#dicg)" opacity="0.8" filter="url(#bl1)"/><ellipse cx="725.7" cy="930.3" rx="1.6" ry="1.6" fill="#aaa" opacity="0.4" filter="url(#bl1)"/><ellipse cx="778.8" cy="967.8" rx="9.3" ry="9.1" fill="#555" fill-opacity="0.0" stroke="#555" stroke-width="1.2" opacity="0.36000000000000004" filter="url(#bl1)"/><ellipse cx="778.8" cy="967.8" rx="8.8" ry="8.7" fill="url(#dicg)" opacity="0.8" filter="url(#bl1)"/><ellipse cx="776.6" cy="965.6" rx="2.7" ry="2.6" fill="#ddd" opacity="0.4" filter="url(#bl1)"/><ellipse cx="777.4" cy="844.5" rx="5.7" ry="5.6" fill="#555" fill-opacity="0.0" stroke="#555" stroke-width="1.2" opacity="0.36000000000000004" filter="url(#bl1)"/><ellipse cx="777.4" cy="844.5" rx="5.4" ry="5.4" fill="url(#dicg)" opacity="0.8" filter="url(#bl1)"/><ellipse cx="776.1" cy="843.2" rx="1.6" ry="1.6" fill="#999" opacity="0.4" filter="url(#bl1)"/><ellipse cx="829.2" cy="844.5" rx="7.1" ry="7.0" fill="#555" fill-opacity="0.0" stroke="#555" stroke-width="1.2" opacity="0.36000000000000004" filter="url(#bl1)"/><ellipse cx="829.2" cy="844.5" rx="6.8" ry="6.7" fill="url(#dicg)" opacity="0.8" filter="url(#bl1)"/><ellipse cx="827.5" cy="842.8" rx="2.0" ry="2.0" fill="#999" opacity="0.4" filter="url(#bl1)"/><rect x="723.0" y="844.5" width="136.1" height="134.0" filter="url(#grain)"/></g><rect x="778.0" y="962.3" width="73.0" height="8.7" fill="#fff" /><text x="774.9" y="947.2" font-family="Liberation Sans" font-size="23" font-weight="bold" fill="#fff" textLength="63.1" lengthAdjust="spacingAndGlyphs" >75 µm</text><clipPath id="ta15"><rect x="863.7" y="843.1" width="137.3" height="135.4"/></clipPath><g clip-path="url(#ta15)"><linearGradient id="ta15g" x1="0" y1="0" x2="0" y2="1"><stop offset="0" stop-color="#7e7e7e"/><stop offset="1" stop-color="#868686"/></linearGradient><rect x="863.7" y="843.1" width="137.3" height="135.4" fill="url(#ta15g)" /><ellipse cx="896.7" cy="868.8" rx="7.9" ry="8.5" fill="#555" fill-opacity="0.0" stroke="#555" stroke-width="1.2" opacity="0.36000000000000004" filter="url(#bl1)"/><ellipse cx="896.7" cy="868.8" rx="7.6" ry="8.1" fill="url(#dicg)" opacity="0.8" filter="url(#bl1)"/><ellipse cx="894.8" cy="866.8" rx="2.3" ry="2.4" fill="#ddd" opacity="0.4" filter="url(#bl1)"/><ellipse cx="869.2" cy="878.3" rx="7.2" ry="7.1" fill="#555" fill-opacity="0.0" stroke="#555" stroke-width="1.2" opacity="0.36000000000000004" filter="url(#bl1)"/><ellipse cx="869.2" cy="878.3" rx="6.9" ry="6.8" fill="url(#dicg)" opacity="0.8" filter="url(#bl1)"/><ellipse cx="867.5" cy="876.6" rx="2.1" ry="2.0" fill="#ccc" opacity="0.4" filter="url(#bl1)"/><ellipse cx="968.0" cy="887.8" rx="7.2" ry="7.1" fill="#555" fill-opacity="0.0" stroke="#555" stroke-width="1.2" opacity="0.36000000000000004" filter="url(#bl1)"/><ellipse cx="968.0" cy="887.8" rx="6.9" ry="6.8" fill="url(#dicg)" opacity="0.8" filter="url(#bl1)"/><ellipse cx="966.3" cy="886.1" rx="2.1" ry="2.0" fill="#ddd" opacity="0.4" filter="url(#bl1)"/><ellipse cx="981.8" cy="882.4" rx="6.5" ry="6.4" fill="#555" fill-opacity="0.0" stroke="#555" stroke-width="1.2" opacity="0.36000000000000004" filter="url(#bl1)"/><ellipse cx="981.8" cy="882.4" rx="6.2" ry="6.1" fill="url(#dicg)" opacity="0.8" filter="url(#bl1)"/><ellipse cx="980.2" cy="880.8" rx="1.9" ry="1.8" fill="#ddd" opacity="0.4" filter="url(#bl1)"/><ellipse cx="959.8" cy="918.9" rx="7.9" ry="7.8" fill="#555" fill-opacity="0.0" stroke="#555" stroke-width="1.2" opacity="0.36000000000000004" filter="url(#bl1)"/><ellipse cx="959.8" cy="918.9" rx="7.6" ry="7.4" fill="url(#dicg)" opacity="0.8" filter="url(#bl1)"/><ellipse cx="957.9" cy="917.1" rx="2.3" ry="2.2" fill="#ddd" opacity="0.4" filter="url(#bl1)"/><ellipse cx="963.9" cy="955.5" rx="7.2" ry="7.1" fill="#555" fill-opacity="0.0" stroke="#555" stroke-width="1.2" opacity="0.36000000000000004" filter="url(#bl1)"/><ellipse cx="963.9" cy="955.5" rx="6.9" ry="6.8" fill="url(#dicg)" opacity="0.8" filter="url(#bl1)"/><ellipse cx="962.2" cy="953.8" rx="2.1" ry="2.0" fill="#ccc" opacity="0.4" filter="url(#bl1)"/><rect x="863.7" y="843.1" width="137.3" height="135.4" filter="url(#grain)"/></g><rect x="922.2" y="962.3" width="73.0" height="8.7" fill="#fff" /><text x="919.9" y="951.9" font-family="Liberation Sans" font-size="23" font-weight="bold" fill="#fff" textLength="63.0" lengthAdjust="spacingAndGlyphs" >75 µm</text><clipPath id="ta16"><rect x="1004.0" y="843.1" width="137.8" height="135.4"/></clipPath><g clip-path="url(#ta16)"><linearGradient id="ta16g" x1="0" y1="0" x2="0.5" y2="1"><stop offset="0" stop-color="#808080"/><stop offset="1" stop-color="#737373"/></linearGradient><rect x="1004.0" y="843.1" width="137.8" height="135.4" fill="url(#ta16g)" /><ellipse cx="1107.3" cy="864.8" rx="7.2" ry="7.1" fill="#444" fill-opacity="0.0" stroke="#444" stroke-width="1.2" opacity="0.36000000000000004" filter="url(#bl1)"/><ellipse cx="1107.3" cy="864.8" rx="6.9" ry="6.8" fill="url(#dicg)" opacity="0.8" filter="url(#bl1)"/><ellipse cx="1105.6" cy="863.1" rx="2.1" ry="2.0" fill="#ccc" opacity="0.4" filter="url(#bl1)"/><ellipse cx="1075.7" cy="891.8" rx="11.6" ry="12.1" fill="#444" fill-opacity="0.0" stroke="#444" stroke-width="1.2" opacity="0.36000000000000004" filter="url(#bl1)"/><ellipse cx="1075.7" cy="891.8" rx="11.0" ry="11.5" fill="url(#dicg)" opacity="0.8" filter="url(#bl1)"/><ellipse cx="1072.9" cy="889.0" rx="3.3" ry="3.5" fill="#999" opacity="0.4" filter="url(#bl1)"/><ellipse cx="1112.9" cy="901.3" rx="10.9" ry="10.7" fill="#444" fill-opacity="0.0" stroke="#444" stroke-width="1.2" opacity="0.36000000000000004" filter="url(#bl1)"/><ellipse cx="1112.9" cy="901.3" rx="10.3" ry="10.2" fill="url(#dicg)" opacity="0.8" filter="url(#bl1)"/><ellipse cx="1110.3" cy="898.8" rx="3.1" ry="3.0" fill="#aaa" opacity="0.4" filter="url(#bl1)"/><ellipse cx="1072.9" cy="925.7" rx="7.2" ry="7.1" fill="#383838" fill-opacity="0.0" stroke="#383838" stroke-width="1.2" opacity="0.36000000000000004" filter="url(#bl1)"/><ellipse cx="1072.9" cy="925.7" rx="6.9" ry="6.8" fill="url(#dicg)" opacity="0.8" filter="url(#bl1)"/><ellipse cx="1071.2" cy="924.0" rx="2.1" ry="2.0" fill="#aaa" opacity="0.4" filter="url(#bl1)"/><ellipse cx="1066.0" cy="974.4" rx="8.7" ry="5.7" fill="#444" fill-opacity="0.0" stroke="#444" stroke-width="1.2" opacity="0.36000000000000004" filter="url(#bl1)"/><ellipse cx="1066.0" cy="974.4" rx="8.3" ry="5.4" fill="url(#dicg)" opacity="0.8" filter="url(#bl1)"/><ellipse cx="1063.9" cy="973.1" rx="2.5" ry="1.6" fill="#999" opacity="0.4" filter="url(#bl1)"/><ellipse cx="1031.6" cy="917.6" rx="13.8" ry="27.1" fill="#707070" fill-opacity="0.1" stroke="#707070" stroke-width="2" opacity="0.5" filter="url(#bl3)"/><ellipse cx="1027.4" cy="866.1" rx="4.1" ry="5.4" fill="#555" opacity="0.6" filter="url(#bl1)"/><rect x="1004.0" y="843.1" width="137.8" height="135.4" filter="url(#grain)"/></g><rect x="1057.4" y="960.9" width="73.0" height="8.7" fill="#fff" /><text x="1054.7" y="950.7" font-family="Liberation Sans" font-size="23" font-weight="bold" fill="#fff" textLength="63.2" lengthAdjust="spacingAndGlyphs" >75 µm</text><clipPath id="ta17"><rect x="284.1" y="979.1" width="137.5" height="132.5"/></clipPath><g clip-path="url(#ta17)"><rect x="284.1" y="979.1" width="137.5" height="132.5" fill="#000" /><g filter="url(#org)"><ellipse cx="329.5" cy="1010.9" rx="16.5" ry="13.2" fill="#2e982e" opacity="0.95" transform="rotate(-15 329.5 1010.9)" filter="url(#bl2)"/><ellipse cx="319.9" cy="1028.1" rx="9.6" ry="11.9" fill="#2e982e" opacity="0.9" filter="url(#bl2)"/><ellipse cx="377.6" cy="1005.6" rx="13.8" ry="14.6" fill="#2e982e" opacity="0.9" transform="rotate(20 377.6 1005.6)" filter="url(#bl2)"/><ellipse cx="363.9" cy="1024.2" rx="12.4" ry="10.6" fill="#2e982e" opacity="0.9" filter="url(#bl2)"/><ellipse cx="346.0" cy="1026.8" rx="6.9" ry="7.3" fill="#2e982e" opacity="0.85" filter="url(#bl2)"/><ellipse cx="380.4" cy="1017.5" rx="2.8" ry="2.6" fill="#8f8" opacity="0.9" filter="url(#bl1)"/><ellipse cx="333.6" cy="1054.6" rx="12.4" ry="10.6" fill="#2e982e" fill-opacity="0.5" stroke="#2e982e" stroke-width="2.5" opacity="0.9" filter="url(#bl2)"/><ellipse cx="341.9" cy="1077.1" rx="13.8" ry="13.2" fill="#2e982e" opacity="0.85" filter="url(#bl2)"/><ellipse cx="355.6" cy="1085.1" rx="13.8" ry="6.6" fill="#2e982e" opacity="0.7" filter="url(#bl2)"/><ellipse cx="286.9" cy="1089.1" rx="6.9" ry="9.3" fill="#2e982e" opacity="0.9" filter="url(#bl2)"/></g></g><rect x="344.2" y="1088.2" width="72.8" height="8.5" fill="#fff" /><text x="341.1" y="1077.8" font-family="Liberation Sans" font-size="23" font-weight="bold" fill="#fff" textLength="63.3" lengthAdjust="spacingAndGlyphs" >75 µm</text><clipPath id="ta18"><rect x="424.9" y="979.1" width="135.6" height="132.5"/></clipPath><g clip-path="url(#ta18)"><rect x="424.9" y="979.1" width="135.6" height="132.5" fill="#052305" /><g filter="url(#org)"><ellipse cx="499.5" cy="1025.5" rx="27.1" ry="66.2" fill="#0f460f" opacity="0.9" transform="rotate(-40 499.5 1025.5)" filter="url(#bl6)"/><ellipse cx="557.8" cy="1016.2" rx="8.1" ry="15.9" fill="#228822" opacity="0.8" filter="url(#bl4)"/><ellipse cx="509.0" cy="1101.0" rx="27.1" ry="13.2" fill="#145414" opacity="0.8" filter="url(#bl6)"/><ellipse cx="441.2" cy="1058.6" rx="12.2" ry="15.9" fill="#145014" opacity="0.9" filter="url(#bl4)"/><ellipse cx="472.4" cy="999.0" rx="20.3" ry="10.6" fill="#1c6e1c" opacity="0.7" transform="rotate(30 472.4 999.0)" filter="url(#bl4)"/><ellipse cx="540.2" cy="1058.6" rx="16.3" ry="26.5" fill="#124a12" opacity="0.8" filter="url(#bl6)"/><ellipse cx="441.2" cy="1012.2" rx="16.3" ry="26.5" fill="#010f01" opacity="0.8" filter="url(#bl6)"/><ellipse cx="465.6" cy="1105.0" rx="20.3" ry="15.9" fill="#010f01" opacity="0.8" filter="url(#bl6)"/></g></g><rect x="485.0" y="1090.7" width="72.6" height="8.3" fill="#fff" /><text x="483.2" y="1082.0" font-family="Liberation Sans" font-size="23" font-weight="bold" fill="#fff" textLength="62.2" lengthAdjust="spacingAndGlyphs" >75 µm</text><clipPath id="ta19"><rect x="724.9" y="982.0" width="135.9" height="132.5"/></clipPath><g clip-path="url(#ta19)"><rect x="724.9" y="982.0" width="135.9" height="132.5" fill="#011201" /><g filter="url(#org)"><ellipse cx="752.1" cy="1009.8" rx="16.3" ry="6.6" fill="#1c661c" opacity="0.95" transform="rotate(-28 752.1 1009.8)" filter="url(#bl2)"/><ellipse cx="734.4" cy="1037.7" rx="7.5" ry="11.9" fill="#3cc03c" fill-opacity="0.5" stroke="#3cc03c" stroke-width="3" opacity="0.95" transform="rotate(15 734.4 1037.7)" filter="url(#bl2)"/><ellipse cx="784.7" cy="1029.7" rx="10.2" ry="10.6" fill="#3fd03f" opacity="1" filter="url(#bl3)"/><ellipse cx="803.7" cy="1031.0" rx="8.2" ry="8.6" fill="#55f055" opacity="1" filter="url(#bl3)"/><ellipse cx="843.1" cy="1021.8" rx="8.8" ry="7.3" fill="#2e982e" fill-opacity="0.45" stroke="#2e982e" stroke-width="3" opacity="0.95" filter="url(#bl2)"/><ellipse cx="839.1" cy="1043.0" rx="9.5" ry="7.9" fill="#1c661c" opacity="0.8" filter="url(#bl3)"/><ellipse cx="814.6" cy="1048.2" rx="13.6" ry="9.3" fill="#2e982e" opacity="0.8" filter="url(#bl3)"/><ellipse cx="810.5" cy="1066.8" rx="17.7" ry="9.3" fill="#2e982e" fill-opacity="0.5" stroke="#2e982e" stroke-width="2.5" opacity="0.85" filter="url(#bl2)"/><ellipse cx="730.3" cy="1105.2" rx="5.4" ry="11.9" fill="#3cc03c" opacity="1" transform="rotate(-20 730.3 1105.2)" filter="url(#bl2)"/></g></g><rect x="781.1" y="1098.4" width="73.0" height="8.5" fill="#fff" /><text x="781.1" y="1087.2" font-family="Liberation Sans" font-size="23" font-weight="bold" fill="#fff" textLength="62.9" lengthAdjust="spacingAndGlyphs" >75 µm</text><clipPath id="ta20"><rect x="863.7" y="982.0" width="137.3" height="132.5"/></clipPath><g clip-path="url(#ta20)"><rect x="863.7" y="982.0" width="137.3" height="132.5" fill="#021602" /><g filter="url(#org)"><ellipse cx="946.1" cy="999.2" rx="15.1" ry="7.9" fill="#2e982e" fill-opacity="0.3" stroke="#2e982e" stroke-width="3" opacity="0.9" filter="url(#bl2)"/><ellipse cx="940.6" cy="1015.1" rx="4.1" ry="11.9" fill="#2e982e" opacity="0.8" filter="url(#bl2)"/><ellipse cx="972.2" cy="1029.7" rx="17.2" ry="12.6" fill="#3fd03f" fill-opacity="0.35" stroke="#3fd03f" stroke-width="3.5" opacity="1" transform="rotate(-15 972.2 1029.7)" filter="url(#bl2)"/><ellipse cx="921.4" cy="1036.3" rx="17.8" ry="6.0" fill="#40d840" opacity="1" transform="rotate(-25 921.4 1036.3)" filter="url(#bl2)"/><ellipse cx="915.9" cy="1029.7" rx="13.7" ry="6.6" fill="#1c661c" opacity="0.8" transform="rotate(-25 915.9 1029.7)" filter="url(#bl2)"/><ellipse cx="913.1" cy="1057.5" rx="7.6" ry="7.9" fill="#2e982e" fill-opacity="0.3" stroke="#2e982e" stroke-width="3" opacity="0.95" filter="url(#bl2)"/><ellipse cx="873.3" cy="1066.8" rx="7.6" ry="6.6" fill="#2e982e" fill-opacity="0.4" stroke="#2e982e" stroke-width="3" opacity="0.95" filter="url(#bl2)"/><ellipse cx="896.7" cy="1077.4" rx="27.5" ry="5.3" fill="#1c661c" opacity="0.9" transform="rotate(-10 896.7 1077.4)" filter="url(#bl2)"/><ellipse cx="980.4" cy="1008.5" rx="24.7" ry="2.6" fill="#1c661c" opacity="0.8" transform="rotate(-18 980.4 1008.5)" filter="url(#bl2)"/><ellipse cx="961.2" cy="1050.9" rx="2.1" ry="2.0" fill="#5f5" opacity="0.8" filter="url(#bl1)"/></g></g><rect x="923.4" y="1097.1" width="71.8" height="8.7" fill="#fff" /><text x="919.9" y="1088.2" font-family="Liberation Sans" font-size="23" font-weight="bold" fill="#fff" textLength="63.0" lengthAdjust="spacingAndGlyphs" >75 µm</text>
<defs><filter id="cbl1" x="-60%" y="-60%" width="220%" height="220%"><feGaussianBlur stdDeviation="1"/></filter><filter id="cbl2" x="-60%" y="-60%" width="220%" height="220%"><feGaussianBlur stdDeviation="2"/></filter><filter id="cbl3" x="-60%" y="-60%" width="220%" height="220%"><feGaussianBlur stdDeviation="3"/></filter><filter id="cbl5" x="-60%" y="-60%" width="220%" height="220%"><feGaussianBlur stdDeviation="5"/></filter><filter id="cbl8" x="-60%" y="-60%" width="220%" height="220%"><feGaussianBlur stdDeviation="8"/></filter><filter id="cbl12" x="-60%" y="-60%" width="220%" height="220%"><feGaussianBlur stdDeviation="12"/></filter><filter id="cbl20" x="-60%" y="-60%" width="220%" height="220%"><feGaussianBlur stdDeviation="20"/></filter><filter id="cbl30" x="-60%" y="-60%" width="220%" height="220%"><feGaussianBlur stdDeviation="30"/></filter><filter id="jag" x="-5%" y="-5%" width="110%" height="110%"><feTurbulence type="fractalNoise" baseFrequency="0.11" numOctaves="2" seed="12" result="t"/><feDisplacementMap in="SourceGraphic" in2="t" scale="9" xChannelSelector="R" yChannelSelector="G"/></filter></defs><clipPath id="tc1"><rect x="52.0" y="1244.0" width="320.0" height="319.6"/></clipPath><g clip-path="url(#tc1)"><g filter="url(#jag)"><rect x="40.0" y="1232.0" width="344.0" height="343.6" fill="#b45200" /><ellipse cx="308.0" cy="1263.2" rx="80.0" ry="32.0" fill="#5a2400" opacity="0.9" filter="url(#cbl20)"/><ellipse cx="173.6" cy="1314.3" rx="121.6" ry="16.0" fill="#6a2c00" opacity="0.85" filter="url(#cbl12)" transform="rotate(-30 173.6 1314.3)"/><ellipse cx="106.4" cy="1272.8" rx="89.6" ry="41.5" fill="#ffa600" opacity="1" filter="url(#cbl12)" transform="rotate(-8 106.4 1272.8)"/><ellipse cx="100.0" cy="1253.6" rx="44.8" ry="16.0" fill="#ffc400" opacity="0.9" filter="url(#cbl8)"/><ellipse cx="90.4" cy="1410.2" rx="64.0" ry="32.0" fill="#4a1c00" opacity="0.9" filter="url(#cbl20)"/><ellipse cx="64.8" cy="1378.2" rx="22.4" ry="19.2" fill="#120500" opacity="0.95" filter="url(#cbl8)"/><ellipse cx="221.6" cy="1368.6" rx="99.2" ry="86.3" fill="#f58600" opacity="1" filter="url(#cbl20)" transform="rotate(-20 221.6 1368.6)"/><ellipse cx="224.8" cy="1367.0" rx="60.8" ry="54.3" fill="#ffc000" opacity="1" filter="url(#cbl12)" transform="rotate(-20 224.8 1367.0)"/><ellipse cx="231.2" cy="1368.6" rx="28.8" ry="25.6" fill="#ffe000" opacity="1" filter="url(#cbl8)" transform="rotate(-20 231.2 1368.6)"/><ellipse cx="365.6" cy="1442.2" rx="44.8" ry="70.3" fill="#ffb800" opacity="1" filter="url(#cbl12)"/><ellipse cx="167.2" cy="1474.1" rx="76.8" ry="32.0" fill="#2a0e00" opacity="0.9" filter="url(#cbl20)"/><ellipse cx="308.0" cy="1512.5" rx="64.0" ry="38.4" fill="#d46800" opacity="0.95" filter="url(#cbl12)"/><ellipse cx="292.0" cy="1563.6" rx="96.0" ry="11.2" fill="#4a1c00" opacity="0.9" filter="url(#cbl8)"/><ellipse cx="365.6" cy="1266.4" rx="11.2" ry="22.4" fill="#150600" opacity="0.95" filter="url(#cbl5)"/><ellipse cx="364.0" cy="1328.7" rx="8.0" ry="6.4" fill="#063434" opacity="0.95" filter="url(#cbl2)"/><polygon points="52.0,1435.8 77.6,1442.2 103.2,1458.1 132.0,1483.7 157.6,1496.5 186.4,1502.9 208.8,1486.9 221.6,1506.1 212.0,1538.0 208.8,1563.6 52.0,1563.6" fill="#120500" opacity="0.95" filter="url(#cbl8)"/><polygon points="52.0,1461.3 68.0,1464.5 84.0,1474.1 96.8,1486.9 116.0,1499.7 132.0,1512.5 157.6,1522.1 170.4,1531.6 180.0,1541.2 189.6,1554.0 189.6,1563.6 52.0,1563.6" fill="#0b8282" opacity="1" filter="url(#cbl1)"/><ellipse cx="199.2" cy="1509.3" rx="4.8" ry="12.8" fill="#074848" opacity="0.9" filter="url(#cbl2)"/><ellipse cx="100.0" cy="1547.6" rx="64.0" ry="25.6" fill="#0c8a8a" opacity="0.8" filter="url(#cbl12)"/></g></g><rect x="289.0" y="1553.1" width="81.0" height="7.2" fill="#fff" /><text x="305.5" y="1548.1" font-family="Liberation Sans" font-size="17.5" font-weight="normal" fill="#fff" textLength="46.5" lengthAdjust="spacingAndGlyphs" >10 µm</text><linearGradient id="cb2" x1="0" y1="0" x2="0" y2="1"><stop offset="0" stop-color="#fff200"/><stop offset="0.08" stop-color="#ffd800"/><stop offset="0.2" stop-color="#ffa000"/><stop offset="0.32" stop-color="#f07800"/><stop offset="0.5" stop-color="#b85400"/><stop offset="0.66" stop-color="#7a3400"/><stop offset="0.78" stop-color="#351400"/><stop offset="0.86" stop-color="#050200"/><stop offset="0.9" stop-color="#04302f"/><stop offset="0.95" stop-color="#0f7f7f"/><stop offset="1" stop-color="#18a3a3"/></linearGradient><rect x="376.6" y="1258.8" width="21.0" height="299.2" fill="url(#cb2)" /><text x="399.1" y="1262.0" font-family="Liberation Sans" font-size="8" font-weight="bold" fill="#222" >5.11</text><text x="399.1" y="1281.9" font-family="Liberation Sans" font-size="8" font-weight="bold" fill="#222" >4.77</text><text x="399.1" y="1301.9" font-family="Liberation Sans" font-size="8" font-weight="bold" fill="#222" >4.43</text><text x="399.1" y="1321.8" font-family="Liberation Sans" font-size="8" font-weight="bold" fill="#222" >4.08</text><text x="399.1" y="1341.8" font-family="Liberation Sans" font-size="8" font-weight="bold" fill="#222" >3.74</text><text x="399.1" y="1361.7" font-family="Liberation Sans" font-size="8" font-weight="bold" fill="#222" >3.4</text><text x="399.1" y="1381.7" font-family="Liberation Sans" font-size="8" font-weight="bold" fill="#222" >3.06</text><text x="399.1" y="1401.6" font-family="Liberation Sans" font-size="8" font-weight="bold" fill="#222" >2.72</text><text x="399.1" y="1421.6" font-family="Liberation Sans" font-size="8" font-weight="bold" fill="#222" >2.38</text><text x="399.1" y="1441.5" font-family="Liberation Sans" font-size="8" font-weight="bold" fill="#222" >2.04</text><text x="399.1" y="1461.5" font-family="Liberation Sans" font-size="8" font-weight="bold" fill="#222" >1.7</text><text x="399.1" y="1481.4" font-family="Liberation Sans" font-size="8" font-weight="bold" fill="#222" >1.35</text><text x="399.1" y="1501.4" font-family="Liberation Sans" font-size="8" font-weight="bold" fill="#222" >1.01</text><text x="399.1" y="1521.3" font-family="Liberation Sans" font-size="8" font-weight="bold" fill="#222" >0.67</text><text x="399.1" y="1541.3" font-family="Liberation Sans" font-size="8" font-weight="bold" fill="#222" >0.33</text><text x="399.1" y="1561.2" font-family="Liberation Sans" font-size="8" font-weight="bold" fill="#222" >0</text><text x="378.0" y="1252.5" font-family="Liberation Sans" font-size="8" font-weight="bold" fill="#222" >z [µm]</text><rect x="432.6" y="1247.7" width="320.0" height="318.9" fill="#000" /><filter id="mc3f" x="0" y="0" width="100%" height="100%" color-interpolation-filters="sRGB"><feTurbulence type="fractalNoise" baseFrequency="0.17" numOctaves="2" seed="3" result="n"/><feColorMatrix in="n" type="matrix" values="1 0 0 0 0  0 1 0 0 0  0 0 1 0 0  0 0 0 0 1" result="n1"/><feComposite in="n1" in2="SourceGraphic" operator="arithmetic" k1="0" k2="1" k3="0.5" k4="-0.25" result="c"/><feColorMatrix in="c" type="matrix" values="0 0 0 0 0.95  0 0 0 0 0.46  0 0 0 0 0.04  9 0 0 0 -4.5"/></filter><filter id="mc3r" x="0" y="0" width="100%" height="100%" color-interpolation-filters="sRGB"><feTurbulence type="fractalNoise" baseFrequency="0.2" numOctaves="2" seed="10"/><feColorMatrix type="matrix" values="0 0 0 0 1  0 0 0 0 0.22  0 0 0 0 0.05  14 0 0 0 -9.3"/></filter><clipPath id="mc3"><polygon points="432.6,1247.7 752.6,1247.7 752.6,1566.6 570.2,1566.6 560.6,1544.3 528.6,1525.1 496.6,1509.2 464.6,1477.3 432.6,1461.4"/></clipPath><g clip-path="url(#mc3)"><g filter="url(#mc3f)"><rect x="432.6" y="1247.7" width="320.0" height="318.9" fill="#868686"/><ellipse cx="631.0" cy="1343.4" rx="96.0" ry="86.1" fill="#626262" opacity="1" filter="url(#cbl20)"/><ellipse cx="480.6" cy="1286.0" rx="38.4" ry="31.9" fill="#646464" opacity="1" filter="url(#cbl12)"/><ellipse cx="711.0" cy="1455.0" rx="32.0" ry="70.2" fill="#666666" opacity="1" filter="url(#cbl12)"/><ellipse cx="576.6" cy="1518.8" rx="19.2" ry="31.9" fill="#5a5a5a" opacity="1" filter="url(#cbl8)"/><ellipse cx="512.6" cy="1445.4" rx="64.0" ry="47.8" fill="#a0a0a0" opacity="1" filter="url(#cbl20)" transform="rotate(30 512.6 1445.4)"/><ellipse cx="672.6" cy="1541.1" rx="64.0" ry="31.9" fill="#9b9b9b" opacity="1" filter="url(#cbl12)"/></g><rect x="432.6" y="1247.7" width="320.0" height="318.9" filter="url(#mc3r)"/></g><rect x="669.6" y="1556.1" width="81.0" height="7.2" fill="#fff" /><text x="686.1" y="1551.1" font-family="Liberation Sans" font-size="17.5" font-weight="normal" fill="#fff" textLength="46.5" lengthAdjust="spacingAndGlyphs" >10 µm</text><linearGradient id="cb4" x1="0" y1="0" x2="0" y2="1"><stop offset="0" stop-color="#000"/><stop offset="0.05" stop-color="#1a0a00"/><stop offset="0.12" stop-color="#7a3a08"/><stop offset="0.19" stop-color="#e0861e"/><stop offset="0.25" stop-color="#ff6a08"/><stop offset="0.3" stop-color="#ff1808"/><stop offset="0.35" stop-color="#e04848"/><stop offset="0.39" stop-color="#a09090"/><stop offset="0.43" stop-color="#60b0b0"/><stop offset="0.48" stop-color="#00eaea"/><stop offset="0.53" stop-color="#18b0e0"/><stop offset="0.6" stop-color="#0858c0"/><stop offset="0.68" stop-color="#0010a0"/><stop offset="0.78" stop-color="#000060"/><stop offset="0.9" stop-color="#020218"/><stop offset="1" stop-color="#000"/></linearGradient><rect x="757.0" y="1262.4" width="21.4" height="298.6" fill="url(#cb4)" /><text x="779.9" y="1265.6" font-family="Liberation Sans" font-size="8" font-weight="bold" fill="#222" >8963.2</text><text x="779.9" y="1285.5" font-family="Liberation Sans" font-size="8" font-weight="bold" fill="#222" >4273.8</text><text x="779.9" y="1305.4" font-family="Liberation Sans" font-size="8" font-weight="bold" fill="#222" >2038.1</text><text x="779.9" y="1325.3" font-family="Liberation Sans" font-size="8" font-weight="bold" fill="#222" >972.2</text><text x="779.9" y="1345.2" font-family="Liberation Sans" font-size="8" font-weight="bold" fill="#222" >464</text><text x="779.9" y="1365.1" font-family="Liberation Sans" font-size="8" font-weight="bold" fill="#222" >221.7</text><text x="779.9" y="1385.0" font-family="Liberation Sans" font-size="8" font-weight="bold" fill="#222" >106.1</text><text x="779.9" y="1404.9" font-family="Liberation Sans" font-size="8" font-weight="bold" fill="#222" >51.1</text><text x="779.9" y="1424.9" font-family="Liberation Sans" font-size="8" font-weight="bold" fill="#222" >24.8</text><text x="779.9" y="1444.8" font-family="Liberation Sans" font-size="8" font-weight="bold" fill="#222" >12.3</text><text x="779.9" y="1464.7" font-family="Liberation Sans" font-size="8" font-weight="bold" fill="#222" >6.3</text><text x="779.9" y="1484.6" font-family="Liberation Sans" font-size="8" font-weight="bold" fill="#222" >3.6</text><text x="779.9" y="1504.5" font-family="Liberation Sans" font-size="8" font-weight="bold" fill="#222" >2.1</text><text x="779.9" y="1524.4" font-family="Liberation Sans" font-size="8" font-weight="bold" fill="#222" >1.5</text><text x="779.9" y="1544.3" font-family="Liberation Sans" font-size="8" font-weight="bold" fill="#222" >1.1</text><text x="779.9" y="1564.2" font-family="Liberation Sans" font-size="8" font-weight="bold" fill="#222" >1</text><text x="759.0" y="1255.5" font-family="Liberation Sans" font-size="8" font-weight="bold" fill="#222" >E [Pa]</text><clipPath id="tc5"><rect x="820.3" y="1246.6" width="320.0" height="319.7"/></clipPath><g clip-path="url(#tc5)"><g filter="url(#jag)"><linearGradient id="tc5g1" x1="0" y1="0" x2="1" y2="0.25"><stop offset="0" stop-color="#0c7e7e"/><stop offset="0.4" stop-color="#0a6262"/><stop offset="0.75" stop-color="#063c3c"/><stop offset="1" stop-color="#021818"/></linearGradient><rect x="808.3" y="1234.6" width="344.0" height="343.7" fill="url(#tc5g1)" /><ellipse cx="836.3" cy="1534.3" rx="48.0" ry="95.9" fill="#0c8c8c" opacity="0.9" filter="url(#cbl20)"/><ellipse cx="852.3" cy="1444.8" rx="22.4" ry="32.0" fill="#064040" opacity="0.8" filter="url(#cbl8)"/><ellipse cx="1130.7" cy="1390.5" rx="16.0" ry="38.4" fill="#0a5a5a" opacity="0.8" filter="url(#cbl8)"/><rect x="860.3" y="1526.3" width="41.6" height="28.8" fill="#032626" opacity="0.9"/><polygon points="860.3,1412.8 879.5,1400.1 892.3,1380.9 911.5,1352.1 930.7,1339.3 949.9,1323.3 969.1,1313.7 986.7,1299.4 999.5,1302.5 1018.7,1299.4 1037.9,1293.0 1060.3,1289.8 1082.7,1296.2 1101.9,1305.7 1114.7,1326.5 1121.1,1374.5 1137.1,1406.4 1140.3,1422.4 1140.3,1566.3 874.7,1566.3 893.9,1527.9 868.3,1483.2 855.5,1444.8" fill="#021616" opacity="0.9" filter="url(#cbl2)"/><clipPath id="tc5p8"><polygon points="865.1,1416.0 884.3,1403.3 897.1,1384.1 916.3,1355.3 935.5,1342.5 954.7,1326.5 973.9,1316.9 986.7,1304.1 999.5,1307.3 1018.7,1304.1 1037.9,1297.8 1060.3,1294.6 1082.7,1300.9 1101.9,1310.5 1108.3,1329.7 1111.5,1358.5 1114.7,1380.9 1121.1,1400.1 1133.9,1416.0 1140.3,1425.6 1140.3,1566.3 884.3,1566.3 897.1,1553.5 906.7,1527.9 900.3,1502.4 877.9,1476.8 865.1,1444.8"/></clipPath><g clip-path="url(#tc5p8)"><rect x="808.3" y="1234.6" width="344.0" height="343.7" fill="#e87200" /><ellipse cx="916.3" cy="1540.7" rx="32.0" ry="63.9" fill="#2a0e00" opacity="0.95" filter="url(#cbl12)"/><ellipse cx="884.3" cy="1444.8" rx="16.0" ry="38.4" fill="#a04800" opacity="0.8" filter="url(#cbl8)"/><ellipse cx="1012.3" cy="1396.9" rx="115.2" ry="95.9" fill="#ffb000" opacity="1" filter="url(#cbl20)" transform="rotate(-15 1012.3 1396.9)"/><ellipse cx="1012.3" cy="1396.9" rx="70.4" ry="51.2" fill="#ffe200" opacity="1" filter="url(#cbl12)" transform="rotate(-20 1012.3 1396.9)"/><ellipse cx="1018.7" cy="1400.1" rx="22.4" ry="16.0" fill="#fff400" opacity="1" filter="url(#cbl8)" transform="rotate(-20 1018.7 1400.1)"/><ellipse cx="1060.3" cy="1527.9" rx="108.8" ry="63.9" fill="#ffac00" opacity="1" filter="url(#cbl20)"/><ellipse cx="1108.3" cy="1342.5" rx="12.8" ry="38.4" fill="#a04800" opacity="0.8" filter="url(#cbl5)"/></g></g></g><rect x="1057.3" y="1555.8" width="81.0" height="7.2" fill="#fff" /><text x="1073.8" y="1550.8" font-family="Liberation Sans" font-size="17.5" font-weight="normal" fill="#fff" textLength="46.5" lengthAdjust="spacingAndGlyphs" >10 µm</text><linearGradient id="cb6" x1="0" y1="0" x2="0" y2="1"><stop offset="0" stop-color="#fff200"/><stop offset="0.08" stop-color="#ffd800"/><stop offset="0.2" stop-color="#ffa000"/><stop offset="0.32" stop-color="#f07800"/><stop offset="0.5" stop-color="#b85400"/><stop offset="0.66" stop-color="#7a3400"/><stop offset="0.78" stop-color="#351400"/><stop offset="0.86" stop-color="#050200"/><stop offset="0.9" stop-color="#04302f"/><stop offset="0.95" stop-color="#0f7f7f"/><stop offset="1" stop-color="#18a3a3"/></linearGradient><rect x="1144.7" y="1261.5" width="21.0" height="299.5" fill="url(#cb6)" /><text x="1167.2" y="1264.7" font-family="Liberation Sans" font-size="8" font-weight="bold" fill="#222" >9.36</text><text x="1167.2" y="1284.7" font-family="Liberation Sans" font-size="8" font-weight="bold" fill="#222" >8.73</text><text x="1167.2" y="1304.6" font-family="Liberation Sans" font-size="8" font-weight="bold" fill="#222" >8.11</text><text x="1167.2" y="1324.6" font-family="Liberation Sans" font-size="8" font-weight="bold" fill="#222" >7.48</text><text x="1167.2" y="1344.6" font-family="Liberation Sans" font-size="8" font-weight="bold" fill="#222" >6.86</text><text x="1167.2" y="1364.5" font-family="Liberation Sans" font-size="8" font-weight="bold" fill="#222" >6.23</text><text x="1167.2" y="1384.5" font-family="Liberation Sans" font-size="8" font-weight="bold" fill="#222" >5.61</text><text x="1167.2" y="1404.5" font-family="Liberation Sans" font-size="8" font-weight="bold" fill="#222" >4.98</text><text x="1167.2" y="1424.4" font-family="Liberation Sans" font-size="8" font-weight="bold" fill="#222" >4.36</text><text x="1167.2" y="1444.4" font-family="Liberation Sans" font-size="8" font-weight="bold" fill="#222" >3.73</text><text x="1167.2" y="1464.4" font-family="Liberation Sans" font-size="8" font-weight="bold" fill="#222" >3.11</text><text x="1167.2" y="1484.3" font-family="Liberation Sans" font-size="8" font-weight="bold" fill="#222" >2.48</text><text x="1167.2" y="1504.3" font-family="Liberation Sans" font-size="8" font-weight="bold" fill="#222" >1.86</text><text x="1167.2" y="1524.3" font-family="Liberation Sans" font-size="8" font-weight="bold" fill="#222" >1.23</text><text x="1167.2" y="1544.2" font-family="Liberation Sans" font-size="8" font-weight="bold" fill="#222" >0.61</text><text x="1167.2" y="1564.2" font-family="Liberation Sans" font-size="8" font-weight="bold" fill="#222" >0</text><text x="1146.0" y="1255.0" font-family="Liberation Sans" font-size="8" font-weight="bold" fill="#222" >z [µm]</text><rect x="1201.9" y="1246.6" width="320.0" height="319.7" fill="#000" /><filter id="mc7f" x="0" y="0" width="100%" height="100%" color-interpolation-filters="sRGB"><feTurbulence type="fractalNoise" baseFrequency="0.17" numOctaves="2" seed="11" result="n"/><feColorMatrix in="n" type="matrix" values="1 0 0 0 0  0 1 0 0 0  0 0 1 0 0  0 0 0 0 1" result="n1"/><feComposite in="n1" in2="SourceGraphic" operator="arithmetic" k1="0" k2="1" k3="0.5" k4="-0.25" result="c"/><feColorMatrix in="c" type="matrix" values="0 0 0 0 0.95  0 0 0 0 0.46  0 0 0 0 0.04  9 0 0 0 -4.5"/></filter><filter id="mc7r" x="0" y="0" width="100%" height="100%" color-interpolation-filters="sRGB"><feTurbulence type="fractalNoise" baseFrequency="0.2" numOctaves="2" seed="18"/><feColorMatrix type="matrix" values="0 0 0 0 1  0 0 0 0 0.22  0 0 0 0 0.05  14 0 0 0 -9.3"/></filter><clipPath id="mc7"><polygon points="1221.1,1419.2 1233.9,1406.4 1265.9,1396.9 1285.1,1374.5 1304.3,1352.1 1329.9,1332.9 1361.9,1313.7 1377.9,1307.3 1409.9,1297.8 1441.9,1297.8 1473.9,1300.9 1489.9,1310.5 1493.1,1342.5 1499.5,1374.5 1499.5,1400.1 1521.9,1412.8 1521.9,1566.3 1265.9,1566.3 1243.5,1550.3 1243.5,1527.9 1272.3,1527.9 1265.9,1496.0 1246.7,1470.4 1233.9,1438.4"/></clipPath><g clip-path="url(#mc7)"><g filter="url(#mc7f)"><rect x="1201.9" y="1246.6" width="320.0" height="319.7" fill="#6c6c6c"/><ellipse cx="1400.3" cy="1422.4" rx="76.8" ry="86.3" fill="#444444" opacity="1" filter="url(#cbl20)"/><ellipse cx="1425.9" cy="1342.5" rx="38.4" ry="32.0" fill="#555555" opacity="1" filter="url(#cbl12)"/><ellipse cx="1377.9" cy="1518.3" rx="32.0" ry="38.4" fill="#585858" opacity="1" filter="url(#cbl12)"/><ellipse cx="1457.9" cy="1486.4" rx="25.6" ry="48.0" fill="#5a5a5a" opacity="1" filter="url(#cbl12)"/><ellipse cx="1281.9" cy="1476.8" rx="38.4" ry="79.9" fill="#969696" opacity="1" filter="url(#cbl12)"/><ellipse cx="1329.9" cy="1534.3" rx="38.4" ry="32.0" fill="#969696" opacity="1" filter="url(#cbl12)"/><ellipse cx="1473.9" cy="1326.5" rx="25.6" ry="32.0" fill="#969696" opacity="1" filter="url(#cbl8)"/><ellipse cx="1505.9" cy="1438.4" rx="19.2" ry="25.6" fill="#969696" opacity="1" filter="url(#cbl8)"/></g><rect x="1201.9" y="1246.6" width="320.0" height="319.7" filter="url(#mc7r)"/></g><rect x="1366.7" y="1305.7" width="3.4" height="3.4" fill="#35c8e0"/><rect x="1368.3" y="1308.9" width="3.4" height="3.4" fill="#35c8e0"/><rect x="1357.1" y="1315.3" width="3.4" height="3.4" fill="#35c8e0"/><rect x="1328.3" y="1328.1" width="3.4" height="3.4" fill="#35c8e0"/><rect x="1325.1" y="1326.5" width="3.4" height="3.4" fill="#35c8e0"/><rect x="1305.9" y="1350.5" width="3.4" height="3.4" fill="#35c8e0"/><rect x="1302.7" y="1353.7" width="3.4" height="3.4" fill="#35c8e0"/><rect x="1296.3" y="1360.1" width="3.4" height="3.4" fill="#35c8e0"/><rect x="1283.5" y="1379.3" width="3.4" height="3.4" fill="#35c8e0"/><rect x="1277.1" y="1385.7" width="3.4" height="3.4" fill="#35c8e0"/><rect x="1264.3" y="1398.5" width="3.4" height="3.4" fill="#35c8e0"/><rect x="1261.1" y="1401.7" width="3.4" height="3.4" fill="#35c8e0"/><rect x="1494.7" y="1369.7" width="3.4" height="3.4" fill="#35c8e0"/><rect x="1493.1" y="1382.5" width="3.4" height="3.4" fill="#35c8e0"/><rect x="1494.7" y="1388.9" width="3.4" height="3.4" fill="#35c8e0"/><rect x="1488.3" y="1356.9" width="3.4" height="3.4" fill="#35c8e0"/><rect x="1497.9" y="1395.3" width="3.4" height="3.4" fill="#35c8e0"/><rect x="1443.5" y="1299.3" width="3.4" height="3.4" fill="#35c8e0"/><rect x="1254.7" y="1440.0" width="3.4" height="3.4" fill="#35c8e0"/><rect x="1257.9" y="1481.6" width="3.4" height="3.4" fill="#35c8e0"/><rect x="1438.9" y="1555.8" width="81.0" height="7.2" fill="#fff" /><text x="1455.4" y="1550.8" font-family="Liberation Sans" font-size="17.5" font-weight="normal" fill="#fff" textLength="46.5" lengthAdjust="spacingAndGlyphs" >10 µm</text><linearGradient id="cb8" x1="0" y1="0" x2="0" y2="1"><stop offset="0" stop-color="#000"/><stop offset="0.05" stop-color="#1a0a00"/><stop offset="0.12" stop-color="#7a3a08"/><stop offset="0.19" stop-color="#e0861e"/><stop offset="0.25" stop-color="#ff6a08"/><stop offset="0.3" stop-color="#ff1808"/><stop offset="0.35" stop-color="#e04848"/><stop offset="0.39" stop-color="#a09090"/><stop offset="0.43" stop-color="#60b0b0"/><stop offset="0.48" stop-color="#00eaea"/><stop offset="0.53" stop-color="#18b0e0"/><stop offset="0.6" stop-color="#0858c0"/><stop offset="0.68" stop-color="#0010a0"/><stop offset="0.78" stop-color="#000060"/><stop offset="0.9" stop-color="#020218"/><stop offset="1" stop-color="#000"/></linearGradient><rect x="1526.3" y="1262.0" width="21.4" height="299.0" fill="url(#cb8)" /><text x="1549.2" y="1265.2" font-family="Liberation Sans" font-size="8" font-weight="bold" fill="#222" >8963.2</text><text x="1549.2" y="1285.1" font-family="Liberation Sans" font-size="8" font-weight="bold" fill="#222" >4273.8</text><text x="1549.2" y="1305.1" font-family="Liberation Sans" font-size="8" font-weight="bold" fill="#222" >2038.1</text><text x="1549.2" y="1325.0" font-family="Liberation Sans" font-size="8" font-weight="bold" fill="#222" >972.2</text><text x="1549.2" y="1344.9" font-family="Liberation Sans" font-size="8" font-weight="bold" fill="#222" >464</text><text x="1549.2" y="1364.9" font-family="Liberation Sans" font-size="8" font-weight="bold" fill="#222" >221.7</text><text x="1549.2" y="1384.8" font-family="Liberation Sans" font-size="8" font-weight="bold" fill="#222" >106.1</text><text x="1549.2" y="1404.7" font-family="Liberation Sans" font-size="8" font-weight="bold" fill="#222" >51.1</text><text x="1549.2" y="1424.7" font-family="Liberation Sans" font-size="8" font-weight="bold" fill="#222" >24.8</text><text x="1549.2" y="1444.6" font-family="Liberation Sans" font-size="8" font-weight="bold" fill="#222" >12.3</text><text x="1549.2" y="1464.5" font-family="Liberation Sans" font-size="8" font-weight="bold" fill="#222" >6.3</text><text x="1549.2" y="1484.5" font-family="Liberation Sans" font-size="8" font-weight="bold" fill="#222" >3.6</text><text x="1549.2" y="1504.4" font-family="Liberation Sans" font-size="8" font-weight="bold" fill="#222" >2.1</text><text x="1549.2" y="1524.3" font-family="Liberation Sans" font-size="8" font-weight="bold" fill="#222" >1.5</text><text x="1549.2" y="1544.3" font-family="Liberation Sans" font-size="8" font-weight="bold" fill="#222" >1.1</text><text x="1549.2" y="1564.2" font-family="Liberation Sans" font-size="8" font-weight="bold" fill="#222" >1</text><text x="1528.0" y="1255.0" font-family="Liberation Sans" font-size="8" font-weight="bold" fill="#222" >E [Pa]</text><clipPath id="tc9"><rect x="55.0" y="1625.0" width="320.0" height="319.4"/></clipPath><g clip-path="url(#tc9)"><g filter="url(#jag)"><linearGradient id="tc9g1" x1="0" y1="0" x2="0" y2="1"><stop offset="0" stop-color="#0c7878"/><stop offset="0.12" stop-color="#0a6262"/><stop offset="0.35" stop-color="#074a4a"/><stop offset="0.6" stop-color="#064040"/><stop offset="0.8" stop-color="#031c1c"/><stop offset="0.9" stop-color="#050606"/><stop offset="1" stop-color="#0a0400"/></linearGradient><rect x="43.0" y="1613.0" width="344.0" height="343.4" fill="url(#tc9g1)" /><ellipse cx="205.4" cy="1711.2" rx="32.0" ry="47.9" fill="#021a1a" opacity="0.9" filter="url(#cbl12)"/><rect x="55.0" y="1744.8" width="102.4" height="39.9" fill="#0d7a7a" opacity="0.7"/><rect x="99.8" y="1784.7" width="64.0" height="31.9" fill="#0b6868" opacity="0.6"/><rect x="231.0" y="1823.0" width="144.0" height="41.5" fill="#032424" opacity="0.6"/><rect x="231.0" y="1864.6" width="112.0" height="31.9" fill="#053636" opacity="0.5"/><ellipse cx="352.6" cy="1637.8" rx="32.0" ry="19.2" fill="#0d8282" opacity="0.8" filter="url(#cbl12)"/><ellipse cx="93.4" cy="1644.2" rx="48.0" ry="19.2" fill="#0c7c7c" opacity="0.6" filter="url(#cbl12)"/><polygon points="55.0,1850.2 71.0,1843.8 87.0,1834.2 103.0,1821.4 119.0,1808.7 141.4,1786.3 160.6,1773.5 183.0,1751.2 205.4,1738.4 231.0,1719.2 256.6,1706.4 279.0,1693.7 311.0,1680.9 343.0,1668.1 375.0,1658.5 375.0,1762.3 311.0,1803.9 215.0,1858.2 151.0,1883.7 55.0,1944.4" fill="#021010" opacity="0.9" filter="url(#cbl3)"/><clipPath id="tc9p11"><polygon points="55.0,1858.2 71.0,1851.8 87.0,1842.2 103.0,1829.4 119.0,1816.6 141.4,1794.3 160.6,1781.5 183.0,1759.1 205.4,1746.4 231.0,1727.2 256.6,1714.4 279.0,1701.7 311.0,1688.9 343.0,1676.1 375.0,1666.5 375.0,1749.6 359.0,1759.1 336.6,1775.1 311.0,1791.1 285.4,1803.9 263.0,1816.6 231.0,1835.8 199.0,1855.0 183.0,1867.7 160.6,1870.9 135.0,1880.5 119.0,1893.3 93.4,1906.1 74.2,1918.8 61.4,1928.4 55.0,1928.4"/></clipPath><g clip-path="url(#tc9p11)"><rect x="43.0" y="1613.0" width="344.0" height="343.4" fill="#ee7600" /><ellipse cx="237.4" cy="1771.9" rx="96.0" ry="31.9" fill="#ffb000" opacity="1" filter="url(#cbl12)" transform="rotate(-30 237.4 1771.9)"/><ellipse cx="231.0" cy="1778.3" rx="54.4" ry="16.0" fill="#ffe800" opacity="1" filter="url(#cbl8)" transform="rotate(-30 231.0 1778.3)"/><ellipse cx="71.0" cy="1896.5" rx="38.4" ry="38.3" fill="#c86200" opacity="0.85" filter="url(#cbl12)"/><ellipse cx="170.2" cy="1870.9" rx="12.8" ry="6.4" fill="#8a3c00" opacity="0.9" filter="url(#cbl3)"/></g></g></g><rect x="292.0" y="1933.9" width="81.0" height="7.2" fill="#fff" /><text x="308.5" y="1928.9" font-family="Liberation Sans" font-size="17.5" font-weight="normal" fill="#fff" textLength="46.5" lengthAdjust="spacingAndGlyphs" >10 µm</text><linearGradient id="cb10" x1="0" y1="0" x2="0" y2="1"><stop offset="0" stop-color="#fff200"/><stop offset="0.08" stop-color="#ffd800"/><stop offset="0.2" stop-color="#ffa000"/><stop offset="0.32" stop-color="#f07800"/><stop offset="0.5" stop-color="#b85400"/><stop offset="0.66" stop-color="#7a3400"/><stop offset="0.78" stop-color="#351400"/><stop offset="0.86" stop-color="#050200"/><stop offset="0.9" stop-color="#04302f"/><stop offset="0.95" stop-color="#0f7f7f"/><stop offset="1" stop-color="#18a3a3"/></linearGradient><rect x="379.5" y="1639.8" width="21.0" height="298.7" fill="url(#cb10)" /><text x="402.0" y="1643.0" font-family="Liberation Sans" font-size="8" font-weight="bold" fill="#222" >6.84</text><text x="402.0" y="1662.9" font-family="Liberation Sans" font-size="8" font-weight="bold" fill="#222" >6.39</text><text x="402.0" y="1682.8" font-family="Liberation Sans" font-size="8" font-weight="bold" fill="#222" >5.93</text><text x="402.0" y="1702.7" font-family="Liberation Sans" font-size="8" font-weight="bold" fill="#222" >5.47</text><text x="402.0" y="1722.7" font-family="Liberation Sans" font-size="8" font-weight="bold" fill="#222" >5.01</text><text x="402.0" y="1742.6" font-family="Liberation Sans" font-size="8" font-weight="bold" fill="#222" >4.56</text><text x="402.0" y="1762.5" font-family="Liberation Sans" font-size="8" font-weight="bold" fill="#222" >4.1</text><text x="402.0" y="1782.4" font-family="Liberation Sans" font-size="8" font-weight="bold" fill="#222" >3.64</text><text x="402.0" y="1802.3" font-family="Liberation Sans" font-size="8" font-weight="bold" fill="#222" >3.19</text><text x="402.0" y="1822.2" font-family="Liberation Sans" font-size="8" font-weight="bold" fill="#222" >2.73</text><text x="402.0" y="1842.1" font-family="Liberation Sans" font-size="8" font-weight="bold" fill="#222" >2.27</text><text x="402.0" y="1862.0" font-family="Liberation Sans" font-size="8" font-weight="bold" fill="#222" >1.81</text><text x="402.0" y="1882.0" font-family="Liberation Sans" font-size="8" font-weight="bold" fill="#222" >1.36</text><text x="402.0" y="1901.9" font-family="Liberation Sans" font-size="8" font-weight="bold" fill="#222" >0.9</text><text x="402.0" y="1921.8" font-family="Liberation Sans" font-size="8" font-weight="bold" fill="#222" >0.44</text><text x="402.0" y="1941.7" font-family="Liberation Sans" font-size="8" font-weight="bold" fill="#222" >0</text><text x="381.0" y="1633.0" font-family="Liberation Sans" font-size="8" font-weight="bold" fill="#222" >z [µm]</text><rect x="435.6" y="1625.0" width="320.0" height="319.4" fill="#000" /><filter id="mc11f" x="0" y="0" width="100%" height="100%" color-interpolation-filters="sRGB"><feTurbulence type="fractalNoise" baseFrequency="0.17" numOctaves="2" seed="21" result="n"/><feColorMatrix in="n" type="matrix" values="1 0 0 0 0  0 1 0 0 0  0 0 1 0 0  0 0 0 0 1" result="n1"/><feComposite in="n1" in2="SourceGraphic" operator="arithmetic" k1="0" k2="1" k3="0.5" k4="-0.25" result="c"/><feColorMatrix in="c" type="matrix" values="0 0 0 0 0.95  0 0 0 0 0.46  0 0 0 0 0.04  9 0 0 0 -4.5"/></filter><filter id="mc11r" x="0" y="0" width="100%" height="100%" color-interpolation-filters="sRGB"><feTurbulence type="fractalNoise" baseFrequency="0.2" numOctaves="2" seed="28"/><feColorMatrix type="matrix" values="0 0 0 0 1  0 0 0 0 0.22  0 0 0 0 0.05  14 0 0 0 -9.3"/></filter><clipPath id="mc11"><polygon points="435.6,1858.2 461.2,1848.6 483.6,1835.8 506.0,1810.3 531.6,1784.7 557.2,1765.5 595.6,1740.0 627.6,1720.8 659.6,1701.7 691.6,1688.9 723.6,1676.1 755.6,1666.5 755.6,1752.8 730.0,1768.7 707.6,1784.7 685.2,1800.7 659.6,1810.3 627.6,1829.4 595.6,1845.4 570.0,1858.2 563.6,1870.9 538.0,1870.9 506.0,1886.9 474.0,1902.9 445.2,1912.5 435.6,1912.5"/></clipPath><g clip-path="url(#mc11)"><g filter="url(#mc11f)"><rect x="435.6" y="1625.0" width="320.0" height="319.4" fill="#7c7c7c"/><ellipse cx="643.6" cy="1746.4" rx="19.2" ry="19.2" fill="#646464" opacity="1" filter="url(#cbl8)"/><ellipse cx="685.2" cy="1740.0" rx="16.0" ry="16.0" fill="#646464" opacity="1" filter="url(#cbl8)"/><ellipse cx="579.6" cy="1800.7" rx="25.6" ry="16.0" fill="#696969" opacity="1" filter="url(#cbl8)"/></g><rect x="435.6" y="1625.0" width="320.0" height="319.4" filter="url(#mc11r)"/></g><rect x="728.4" y="1677.7" width="3.4" height="3.4" fill="#35c8e0"/><rect x="699.6" y="1687.3" width="3.4" height="3.4" fill="#35c8e0"/><rect x="686.8" y="1693.7" width="3.4" height="3.4" fill="#35c8e0"/><rect x="654.8" y="1706.4" width="3.4" height="3.4" fill="#35c8e0"/><rect x="549.2" y="1767.1" width="3.4" height="3.4" fill="#35c8e0"/><rect x="744.4" y="1757.5" width="3.4" height="3.4" fill="#35c8e0"/><rect x="731.6" y="1767.1" width="3.4" height="3.4" fill="#35c8e0"/><rect x="706.0" y="1783.1" width="3.4" height="3.4" fill="#35c8e0"/><rect x="683.6" y="1799.1" width="3.4" height="3.4" fill="#35c8e0"/><rect x="674.0" y="1802.3" width="3.4" height="3.4" fill="#35c8e0"/><rect x="626.0" y="1824.6" width="3.4" height="3.4" fill="#35c8e0"/><rect x="606.8" y="1834.2" width="3.4" height="3.4" fill="#35c8e0"/><rect x="590.8" y="1840.6" width="3.4" height="3.4" fill="#35c8e0"/><rect x="558.8" y="1859.8" width="3.4" height="3.4" fill="#35c8e0"/><rect x="530.0" y="1863.0" width="3.4" height="3.4" fill="#35c8e0"/><rect x="517.2" y="1869.3" width="3.4" height="3.4" fill="#35c8e0"/><rect x="672.6" y="1933.9" width="81.0" height="7.2" fill="#fff" /><text x="689.1" y="1928.9" font-family="Liberation Sans" font-size="17.5" font-weight="normal" fill="#fff" textLength="46.5" lengthAdjust="spacingAndGlyphs" >10 µm</text><linearGradient id="cb12" x1="0" y1="0" x2="0" y2="1"><stop offset="0" stop-color="#000"/><stop offset="0.05" stop-color="#1a0a00"/><stop offset="0.12" stop-color="#7a3a08"/><stop offset="0.19" stop-color="#e0861e"/><stop offset="0.25" stop-color="#ff6a08"/><stop offset="0.3" stop-color="#ff1808"/><stop offset="0.35" stop-color="#e04848"/><stop offset="0.39" stop-color="#a09090"/><stop offset="0.43" stop-color="#60b0b0"/><stop offset="0.48" stop-color="#00eaea"/><stop offset="0.53" stop-color="#18b0e0"/><stop offset="0.6" stop-color="#0858c0"/><stop offset="0.68" stop-color="#0010a0"/><stop offset="0.78" stop-color="#000060"/><stop offset="0.9" stop-color="#020218"/><stop offset="1" stop-color="#000"/></linearGradient><rect x="760.0" y="1639.8" width="21.0" height="298.7" fill="url(#cb12)" /><text x="782.5" y="1643.0" font-family="Liberation Sans" font-size="8" font-weight="bold" fill="#222" >5812.9</text><text x="782.5" y="1662.9" font-family="Liberation Sans" font-size="8" font-weight="bold" fill="#222" >2771.9</text><text x="782.5" y="1682.8" font-family="Liberation Sans" font-size="8" font-weight="bold" fill="#222" >1322</text><text x="782.5" y="1702.7" font-family="Liberation Sans" font-size="8" font-weight="bold" fill="#222" >630.8</text><text x="782.5" y="1722.7" font-family="Liberation Sans" font-size="8" font-weight="bold" fill="#222" >301.2</text><text x="782.5" y="1742.6" font-family="Liberation Sans" font-size="8" font-weight="bold" fill="#222" >144.1</text><text x="782.5" y="1762.5" font-family="Liberation Sans" font-size="8" font-weight="bold" fill="#222" >69.2</text><text x="782.5" y="1782.4" font-family="Liberation Sans" font-size="8" font-weight="bold" fill="#222" >33.5</text><text x="782.5" y="1802.3" font-family="Liberation Sans" font-size="8" font-weight="bold" fill="#222" >16.4</text><text x="782.5" y="1822.2" font-family="Liberation Sans" font-size="8" font-weight="bold" fill="#222" >8.3</text><text x="782.5" y="1842.1" font-family="Liberation Sans" font-size="8" font-weight="bold" fill="#222" >4.4</text><text x="782.5" y="1862.0" font-family="Liberation Sans" font-size="8" font-weight="bold" fill="#222" >2.6</text><text x="782.5" y="1882.0" font-family="Liberation Sans" font-size="8" font-weight="bold" fill="#222" >1.7</text><text x="782.5" y="1901.9" font-family="Liberation Sans" font-size="8" font-weight="bold" fill="#222" >1.3</text><text x="782.5" y="1921.8" font-family="Liberation Sans" font-size="8" font-weight="bold" fill="#222" >1.1</text><text x="782.5" y="1941.7" font-family="Liberation Sans" font-size="8" font-weight="bold" fill="#222" >1</text><text x="762.0" y="1633.0" font-family="Liberation Sans" font-size="8" font-weight="bold" fill="#222" >E [Pa]</text><clipPath id="tc13"><rect x="813.6" y="1628.0" width="320.1" height="319.3"/></clipPath><g clip-path="url(#tc13)"><g filter="url(#jag)"><linearGradient id="tc13g1" x1="0" y1="0" x2="1" y2="0"><stop offset="0" stop-color="#2a1000"/><stop offset="0.15" stop-color="#1c0a00"/><stop offset="0.4" stop-color="#2e1200"/><stop offset="0.7" stop-color="#2a1000"/><stop offset="0.8" stop-color="#0a0500"/><stop offset="0.84" stop-color="#021a1a"/><stop offset="0.92" stop-color="#0a5c5c"/><stop offset="1" stop-color="#0d8080"/></linearGradient><rect x="801.6" y="1616.0" width="344.1" height="343.3" fill="url(#tc13g1)" /><ellipse cx="903.2" cy="1877.1" rx="51.2" ry="89.4" fill="#040100" opacity="0.9" filter="url(#cbl30)"/><ellipse cx="1005.7" cy="1675.9" rx="41.6" ry="41.5" fill="#3e1800" opacity="0.6" filter="url(#cbl30)"/><rect x="1063.3" y="1789.2" width="70.4" height="79.8" fill="#0b7272" opacity="0.85"/><rect x="1076.1" y="1869.1" width="57.6" height="79.8" fill="#0a6a6a" opacity="0.85"/><ellipse cx="1104.9" cy="1889.8" rx="32.0" ry="11.2" fill="#2a1000" opacity="0.97" filter="url(#cbl3)" transform="rotate(-12 1104.9 1889.8)"/><ellipse cx="1082.5" cy="1905.8" rx="12.8" ry="9.6" fill="#1a0a00" opacity="0.9" filter="url(#cbl3)"/><ellipse cx="1063.3" cy="1838.7" rx="8.0" ry="51.1" fill="#031414" opacity="0.9" filter="url(#cbl3)" transform="rotate(-8 1063.3 1838.7)"/><clipPath id="tc13p10"><polygon points="922.4,1628.0 928.8,1650.4 941.6,1666.3 957.6,1682.3 973.7,1701.4 989.7,1723.8 1005.7,1742.9 1021.7,1765.3 1031.3,1781.3 1053.7,1787.7 1060.1,1813.2 1063.3,1835.5 1069.7,1857.9 1076.1,1883.4 1076.1,1915.4 1082.5,1947.3 973.7,1947.3 964.0,1931.3 948.0,1899.4 935.2,1867.5 919.2,1826.0 906.4,1794.0 893.6,1762.1 884.0,1739.8 868.0,1717.4 877.6,1691.9 871.2,1659.9 868.0,1628.0"/></clipPath><g clip-path="url(#tc13p10)"><rect x="801.6" y="1616.0" width="344.1" height="343.3" fill="#ee7400" /><ellipse cx="900.0" cy="1644.0" rx="38.4" ry="28.7" fill="#8a3c00" opacity="0.95" filter="url(#cbl5)"/><ellipse cx="973.7" cy="1794.0" rx="115.2" ry="41.5" fill="#ffac00" opacity="1" filter="url(#cbl12)" transform="rotate(62 973.7 1794.0)"/><ellipse cx="973.7" cy="1787.7" rx="70.4" ry="23.9" fill="#ffe400" opacity="1" filter="url(#cbl8)" transform="rotate(62 973.7 1787.7)"/><ellipse cx="1024.9" cy="1915.4" rx="38.4" ry="31.9" fill="#f58a00" opacity="0.9" filter="url(#cbl12)"/></g></g></g><rect x="1050.7" y="1936.8" width="81.0" height="7.2" fill="#fff" /><text x="1067.2" y="1931.8" font-family="Liberation Sans" font-size="17.5" font-weight="normal" fill="#fff" textLength="46.5" lengthAdjust="spacingAndGlyphs" >10 µm</text><linearGradient id="cb14" x1="0" y1="0" x2="0" y2="1"><stop offset="0" stop-color="#fff200"/><stop offset="0.08" stop-color="#ffd800"/><stop offset="0.2" stop-color="#ffa000"/><stop offset="0.32" stop-color="#f07800"/><stop offset="0.5" stop-color="#b85400"/><stop offset="0.66" stop-color="#7a3400"/><stop offset="0.78" stop-color="#351400"/><stop offset="0.86" stop-color="#050200"/><stop offset="0.9" stop-color="#04302f"/><stop offset="0.95" stop-color="#0f7f7f"/><stop offset="1" stop-color="#18a3a3"/></linearGradient><rect x="1138.0" y="1642.4" width="21.0" height="299.4" fill="url(#cb14)" /><text x="1160.5" y="1645.6" font-family="Liberation Sans" font-size="8" font-weight="bold" fill="#222" >5.65</text><text x="1160.5" y="1665.6" font-family="Liberation Sans" font-size="8" font-weight="bold" fill="#222" >5.27</text><text x="1160.5" y="1685.5" font-family="Liberation Sans" font-size="8" font-weight="bold" fill="#222" >4.89</text><text x="1160.5" y="1705.5" font-family="Liberation Sans" font-size="8" font-weight="bold" fill="#222" >4.52</text><text x="1160.5" y="1725.4" font-family="Liberation Sans" font-size="8" font-weight="bold" fill="#222" >4.14</text><text x="1160.5" y="1745.4" font-family="Liberation Sans" font-size="8" font-weight="bold" fill="#222" >3.76</text><text x="1160.5" y="1765.4" font-family="Liberation Sans" font-size="8" font-weight="bold" fill="#222" >3.39</text><text x="1160.5" y="1785.3" font-family="Liberation Sans" font-size="8" font-weight="bold" fill="#222" >3.01</text><text x="1160.5" y="1805.3" font-family="Liberation Sans" font-size="8" font-weight="bold" fill="#222" >2.63</text><text x="1160.5" y="1825.2" font-family="Liberation Sans" font-size="8" font-weight="bold" fill="#222" >2.25</text><text x="1160.5" y="1845.2" font-family="Liberation Sans" font-size="8" font-weight="bold" fill="#222" >1.88</text><text x="1160.5" y="1865.2" font-family="Liberation Sans" font-size="8" font-weight="bold" fill="#222" >1.5</text><text x="1160.5" y="1885.1" font-family="Liberation Sans" font-size="8" font-weight="bold" fill="#222" >1.12</text><text x="1160.5" y="1905.1" font-family="Liberation Sans" font-size="8" font-weight="bold" fill="#222" >0.74</text><text x="1160.5" y="1925.0" font-family="Liberation Sans" font-size="8" font-weight="bold" fill="#222" >0.37</text><text x="1160.5" y="1945.0" font-family="Liberation Sans" font-size="8" font-weight="bold" fill="#222" >0</text><text x="1139.5" y="1636.0" font-family="Liberation Sans" font-size="8" font-weight="bold" fill="#222" >z [µm]</text><rect x="1200.0" y="1628.8" width="320.0" height="319.6" fill="#000" /><filter id="mc15f" x="0" y="0" width="100%" height="100%" color-interpolation-filters="sRGB"><feTurbulence type="fractalNoise" baseFrequency="0.17" numOctaves="2" seed="31" result="n"/><feColorMatrix in="n" type="matrix" values="1 0 0 0 0  0 1 0 0 0  0 0 1 0 0  0 0 0 0 1" result="n1"/><feComposite in="n1" in2="SourceGraphic" operator="arithmetic" k1="0" k2="1" k3="0.5" k4="-0.25" result="c"/><feColorMatrix in="c" type="matrix" values="0 0 0 0 0.95  0 0 0 0 0.46  0 0 0 0 0.04  9 0 0 0 -4.5"/></filter><filter id="mc15r" x="0" y="0" width="100%" height="100%" color-interpolation-filters="sRGB"><feTurbulence type="fractalNoise" baseFrequency="0.2" numOctaves="2" seed="38"/><feColorMatrix type="matrix" values="0 0 0 0 1  0 0 0 0 0.22  0 0 0 0 0.05  14 0 0 0 -9.3"/></filter><clipPath id="mc15"><polygon points="1257.6,1628.8 1308.8,1628.8 1312.0,1654.4 1334.4,1673.5 1353.6,1699.1 1376.0,1724.7 1392.0,1750.2 1411.2,1775.8 1430.4,1782.2 1440.0,1814.2 1449.6,1846.1 1456.0,1878.1 1462.4,1916.4 1472.0,1948.4 1376.0,1948.4 1360.0,1926.0 1334.4,1890.9 1321.6,1846.1 1302.4,1814.2 1286.4,1772.6 1270.4,1740.7 1254.4,1715.1 1260.8,1686.3 1254.4,1660.8"/></clipPath><g clip-path="url(#mc15)"><g filter="url(#mc15f)"><rect x="1200.0" y="1628.8" width="320.0" height="319.6" fill="#7f7f7f"/><ellipse cx="1360.0" cy="1772.6" rx="19.2" ry="19.2" fill="#5f5f5f" opacity="1" filter="url(#cbl8)"/></g><rect x="1200.0" y="1628.8" width="320.0" height="319.6" filter="url(#mc15r)"/></g><rect x="1374.4" y="1713.5" width="3.4" height="3.4" fill="#35c8e0"/><rect x="1406.4" y="1755.0" width="3.4" height="3.4" fill="#35c8e0"/><rect x="1435.2" y="1803.0" width="3.4" height="3.4" fill="#35c8e0"/><rect x="1441.6" y="1825.4" width="3.4" height="3.4" fill="#35c8e0"/><rect x="1454.4" y="1876.5" width="3.4" height="3.4" fill="#35c8e0"/><rect x="1371.2" y="1697.5" width="3.4" height="3.4" fill="#35c8e0"/><rect x="1437.0" y="1937.9" width="81.0" height="7.2" fill="#fff" /><text x="1453.5" y="1932.9" font-family="Liberation Sans" font-size="17.5" font-weight="normal" fill="#fff" textLength="46.5" lengthAdjust="spacingAndGlyphs" >10 µm</text><linearGradient id="cb16" x1="0" y1="0" x2="0" y2="1"><stop offset="0" stop-color="#000"/><stop offset="0.05" stop-color="#1a0a00"/><stop offset="0.12" stop-color="#7a3a08"/><stop offset="0.19" stop-color="#e0861e"/><stop offset="0.25" stop-color="#ff6a08"/><stop offset="0.3" stop-color="#ff1808"/><stop offset="0.35" stop-color="#e04848"/><stop offset="0.39" stop-color="#a09090"/><stop offset="0.43" stop-color="#60b0b0"/><stop offset="0.48" stop-color="#00eaea"/><stop offset="0.53" stop-color="#18b0e0"/><stop offset="0.6" stop-color="#0858c0"/><stop offset="0.68" stop-color="#0010a0"/><stop offset="0.78" stop-color="#000060"/><stop offset="0.9" stop-color="#020218"/><stop offset="1" stop-color="#000"/></linearGradient><rect x="1524.5" y="1644.5" width="21.0" height="298.5" fill="url(#cb16)" /><text x="1547.0" y="1647.7" font-family="Liberation Sans" font-size="8" font-weight="bold" fill="#222" >5812.9</text><text x="1547.0" y="1667.6" font-family="Liberation Sans" font-size="8" font-weight="bold" fill="#222" >2771.9</text><text x="1547.0" y="1687.5" font-family="Liberation Sans" font-size="8" font-weight="bold" fill="#222" >1322</text><text x="1547.0" y="1707.4" font-family="Liberation Sans" font-size="8" font-weight="bold" fill="#222" >630.8</text><text x="1547.0" y="1727.3" font-family="Liberation Sans" font-size="8" font-weight="bold" fill="#222" >301.2</text><text x="1547.0" y="1747.2" font-family="Liberation Sans" font-size="8" font-weight="bold" fill="#222" >144.1</text><text x="1547.0" y="1767.1" font-family="Liberation Sans" font-size="8" font-weight="bold" fill="#222" >69.2</text><text x="1547.0" y="1787.0" font-family="Liberation Sans" font-size="8" font-weight="bold" fill="#222" >33.5</text><text x="1547.0" y="1806.9" font-family="Liberation Sans" font-size="8" font-weight="bold" fill="#222" >16.4</text><text x="1547.0" y="1826.8" font-family="Liberation Sans" font-size="8" font-weight="bold" fill="#222" >8.3</text><text x="1547.0" y="1846.7" font-family="Liberation Sans" font-size="8" font-weight="bold" fill="#222" >4.4</text><text x="1547.0" y="1866.6" font-family="Liberation Sans" font-size="8" font-weight="bold" fill="#222" >2.6</text><text x="1547.0" y="1886.5" font-family="Liberation Sans" font-size="8" font-weight="bold" fill="#222" >1.7</text><text x="1547.0" y="1906.4" font-family="Liberation Sans" font-size="8" font-weight="bold" fill="#222" >1.3</text><text x="1547.0" y="1926.3" font-family="Liberation Sans" font-size="8" font-weight="bold" fill="#222" >1.1</text><text x="1547.0" y="1946.2" font-family="Liberation Sans" font-size="8" font-weight="bold" fill="#222" >1</text><text x="1526.0" y="1638.0" font-family="Liberation Sans" font-size="8" font-weight="bold" fill="#222" >E [Pa]</text><text x="346.0" y="1608.0" font-family="Liberation Sans" font-size="40" font-weight="bold" fill="#000" textLength="131.0" lengthAdjust="spacingAndGlyphs" >MCF7P</text><text x="1061.0" y="1613.4" font-family="Liberation Sans" font-size="40" font-weight="bold" fill="#000" textLength="156.7" lengthAdjust="spacingAndGlyphs" >MCF7RP</text><text x="270.4" y="1988.0" font-family="Liberation Sans" font-size="40" font-weight="bold" fill="#000" textLength="283.0" lengthAdjust="spacingAndGlyphs" >MDA-MB-231P</text><text x="999.8" y="1991.6" font-family="Liberation Sans" font-size="40" font-weight="bold" fill="#000" textLength="309.7" lengthAdjust="spacingAndGlyphs" >MDA-MB-231RP</text><text x="777.0" y="2041.0" font-family="Liberation Serif" font-size="50" font-weight="normal" fill="#000" textLength="54.0" lengthAdjust="spacingAndGlyphs" >(c)</text></svg></body></html>
